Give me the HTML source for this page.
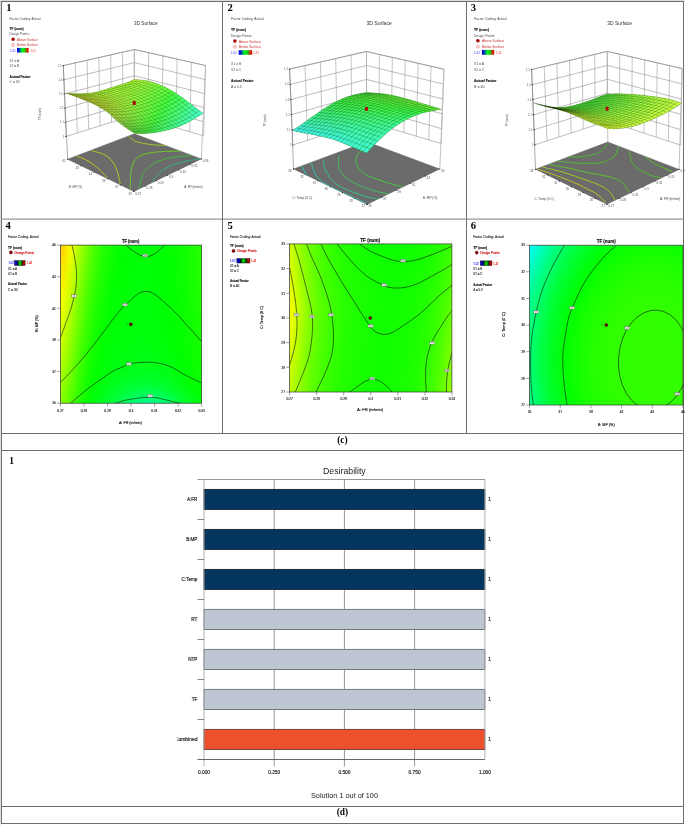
<!DOCTYPE html>
<html><head><meta charset="utf-8"><style>
html,body{margin:0;padding:0;background:#fff;}
body{width:685px;height:825px;overflow:hidden;}
svg{display:block;font-family:'Liberation Sans',sans-serif;}
.fc rect{width:8.6px;height:8.6px;}
</style></head><body>
<svg width="685" height="825" viewBox="0 0 685 825">
<defs><filter id="nop" filterUnits="userSpaceOnUse" x="0" y="0" width="685" height="825"><feOffset dx="0" dy="0"/></filter>
<clipPath id="cmb"><rect x="177.3" y="700" width="30" height="60"/></clipPath>
<linearGradient id="lg3d"><stop offset="0" stop-color="#0000ff"/><stop offset="0.12" stop-color="#0010d0"/><stop offset="0.45" stop-color="#00ff20"/><stop offset="0.6" stop-color="#10e010"/><stop offset="0.8" stop-color="#806010"/><stop offset="0.9" stop-color="#e02000"/><stop offset="1" stop-color="#ff0000"/></linearGradient>
<linearGradient id="lg2d"><stop offset="0" stop-color="#0000e0"/><stop offset="0.18" stop-color="#0000c0"/><stop offset="0.3" stop-color="#002010"/><stop offset="0.5" stop-color="#00f000"/><stop offset="0.72" stop-color="#003000"/><stop offset="0.85" stop-color="#c00000"/><stop offset="1" stop-color="#e00000"/></linearGradient>
<clipPath id="cp4"><rect x="60.4" y="245.1" width="141.2" height="158.1"/></clipPath>
<filter id="bl4" x="-5%" y="-5%" width="110%" height="110%" color-interpolation-filters="sRGB"><feGaussianBlur stdDeviation="3.0"/></filter>
<clipPath id="cp5"><rect x="289.6" y="243.9" width="162.3" height="148.1"/></clipPath>
<filter id="bl5" x="-5%" y="-5%" width="110%" height="110%" color-interpolation-filters="sRGB"><feGaussianBlur stdDeviation="3.0"/></filter>
<clipPath id="cp6"><rect x="529.5" y="245.2" width="153.5" height="159.8"/></clipPath>
<filter id="bl6" x="-5%" y="-5%" width="110%" height="110%" color-interpolation-filters="sRGB"><feGaussianBlur stdDeviation="3.0"/></filter></defs>
<g filter="url(#nop)">
<rect x="0" y="0" width="685" height="825" fill="#fff" />
<rect x="0" y="0" width="685" height="1" fill="#dcdcdc" />
<rect x="0" y="0" width="1" height="825" fill="#dcdcdc" />
<rect x="1" y="1" width="683" height="1" fill="#6e6e6e" />
<rect x="1" y="823" width="683" height="1" fill="#6e6e6e" />
<rect x="1" y="1" width="1" height="823" fill="#6e6e6e" />
<rect x="683" y="1" width="1" height="823" fill="#6e6e6e" />
<rect x="1" y="218.5" width="683" height="1.2" fill="#939393" />
<rect x="1" y="433" width="683" height="1" fill="#6e6e6e" />
<rect x="1" y="450" width="683" height="1" fill="#6e6e6e" />
<rect x="1" y="806" width="683" height="1" fill="#6e6e6e" />
<rect x="222" y="1" width="1" height="433" fill="#6e6e6e" />
<rect x="466" y="1" width="1" height="433" fill="#6e6e6e" />
<text x="342.4" y="442.7" font-size="9.4" text-anchor="middle" font-weight="bold" font-family="'Liberation Serif'">(c)</text>
<text x="342.4" y="815.3" font-size="9.4" text-anchor="middle" font-weight="bold" font-family="'Liberation Serif'">(d)</text>
<text x="6.2" y="10.8" font-size="10.6" font-weight="bold" font-family="'Liberation Serif'">1</text>
<text x="227.6" y="10.7" font-size="10.6" font-weight="bold" font-family="'Liberation Serif'">2</text>
<text x="470.8" y="10.7" font-size="10.6" font-weight="bold" font-family="'Liberation Serif'">3</text>
<text x="5.6" y="229" font-size="10.6" font-weight="bold" font-family="'Liberation Serif'">4</text>
<text x="227.6" y="229" font-size="10.6" font-weight="bold" font-family="'Liberation Serif'">5</text>
<text x="470.8" y="229" font-size="10.6" font-weight="bold" font-family="'Liberation Serif'">6</text>
<text x="9.2" y="464" font-size="9.4" font-weight="bold" font-family="'Liberation Serif'">1</text>
<line x1="274.2" y1="479.5" x2="274.2" y2="766.4" stroke="#8a8a8a" stroke-width="0.9" />
<line x1="344.4" y1="479.5" x2="344.4" y2="766.4" stroke="#8a8a8a" stroke-width="0.9" />
<line x1="414.6" y1="479.5" x2="414.6" y2="766.4" stroke="#8a8a8a" stroke-width="0.9" />
<rect x="204.00" y="489.40" width="280.85" height="20.05" fill="#03365e" stroke="#1a2530" stroke-width="0.9"/>
<text x="197.4" y="500.8" font-size="4.6" fill="#222" stroke="#222" stroke-width="0.16" text-anchor="end" >A:FR</text>
<text x="488.3" y="501.3" font-size="4.8" fill="#222" stroke="#222" stroke-width="0.17" >1</text>
<rect x="204.00" y="529.40" width="280.85" height="20.05" fill="#03365e" stroke="#1a2530" stroke-width="0.9"/>
<text x="197.4" y="540.8" font-size="4.6" fill="#222" stroke="#222" stroke-width="0.16" text-anchor="end" >B:MP</text>
<text x="488.3" y="541.3" font-size="4.8" fill="#222" stroke="#222" stroke-width="0.17" >1</text>
<rect x="204.00" y="569.40" width="280.85" height="20.05" fill="#03365e" stroke="#1a2530" stroke-width="0.9"/>
<text x="197.4" y="580.8" font-size="4.6" fill="#222" stroke="#222" stroke-width="0.16" text-anchor="end" >C:Temp</text>
<text x="488.3" y="581.3" font-size="4.8" fill="#222" stroke="#222" stroke-width="0.17" >1</text>
<rect x="204.00" y="609.40" width="280.85" height="20.05" fill="#bec5d3" stroke="#6a6e74" stroke-width="0.9"/>
<text x="197.4" y="620.8" font-size="4.6" fill="#222" stroke="#222" stroke-width="0.16" text-anchor="end" >RT</text>
<text x="488.3" y="621.3" font-size="4.8" fill="#222" stroke="#222" stroke-width="0.17" >1</text>
<rect x="204.00" y="649.40" width="280.85" height="20.05" fill="#bec5d3" stroke="#6a6e74" stroke-width="0.9"/>
<text x="197.4" y="660.8" font-size="4.6" fill="#222" stroke="#222" stroke-width="0.16" text-anchor="end" >NTP</text>
<text x="488.3" y="661.3" font-size="4.8" fill="#222" stroke="#222" stroke-width="0.17" >1</text>
<rect x="204.00" y="689.40" width="280.85" height="20.05" fill="#bec5d3" stroke="#6a6e74" stroke-width="0.9"/>
<text x="197.4" y="700.8" font-size="4.6" fill="#222" stroke="#222" stroke-width="0.16" text-anchor="end" >TF</text>
<text x="488.3" y="701.3" font-size="4.8" fill="#222" stroke="#222" stroke-width="0.17" >1</text>
<rect x="204.00" y="729.40" width="280.85" height="20.05" fill="#ec502c" stroke="#6a3a30" stroke-width="0.9"/>
<text x="197.4" y="740.8" font-size="4.6" fill="#222" stroke="#222" stroke-width="0.16" text-anchor="end" textLength="22.5" lengthAdjust="spacingAndGlyphs"  clip-path="url(#cmb)">Combined</text>
<text x="488.3" y="741.3" font-size="4.8" fill="#222" stroke="#222" stroke-width="0.17" >1</text>
<line x1="204" y1="479.5" x2="204" y2="766.4" stroke="#a8a8a8" stroke-width="0.9" />
<line x1="484.9" y1="479.5" x2="484.9" y2="759.4" stroke="#a8a8a8" stroke-width="0.9" />
<line x1="197.5" y1="479.5" x2="484.9" y2="479.5" stroke="#8a8a8a" stroke-width="0.9" />
<line x1="197.5" y1="519.5" x2="204" y2="519.5" stroke="#777" stroke-width="0.9" />
<line x1="197.5" y1="559.5" x2="204" y2="559.5" stroke="#777" stroke-width="0.9" />
<line x1="197.5" y1="599.5" x2="204" y2="599.5" stroke="#777" stroke-width="0.9" />
<line x1="197.5" y1="639.5" x2="204" y2="639.5" stroke="#777" stroke-width="0.9" />
<line x1="197.5" y1="679.5" x2="204" y2="679.5" stroke="#777" stroke-width="0.9" />
<line x1="197.5" y1="719.5" x2="204" y2="719.5" stroke="#777" stroke-width="0.9" />
<line x1="197.5" y1="759.5" x2="484.9" y2="759.5" stroke="#555" stroke-width="0.9" />
<text x="204" y="773.6" font-size="4.8" fill="#222" stroke="#222" stroke-width="0.17" text-anchor="middle" >0.000</text>
<text x="274.2" y="773.6" font-size="4.8" fill="#222" stroke="#222" stroke-width="0.17" text-anchor="middle" >0.250</text>
<text x="344.4" y="773.6" font-size="4.8" fill="#222" stroke="#222" stroke-width="0.17" text-anchor="middle" >0.500</text>
<text x="414.6" y="773.6" font-size="4.8" fill="#222" stroke="#222" stroke-width="0.17" text-anchor="middle" >0.750</text>
<text x="484.9" y="773.6" font-size="4.8" fill="#222" stroke="#222" stroke-width="0.17" text-anchor="middle" >1.000</text>
<text x="344.4" y="473.7" font-size="8.6" fill="#222" text-anchor="middle" textLength="42.7" lengthAdjust="spacingAndGlyphs" >Desirability</text>
<text x="344.5" y="798.2" font-size="7.6" fill="#222" text-anchor="middle" textLength="67" lengthAdjust="spacingAndGlyphs" >Solution 1 out of 100</text>
<text x="9.6" y="19.7" font-size="3.9" fill="#4a4a4a" textLength="31" lengthAdjust="spacingAndGlyphs" >Factor Coding: Actual</text>
<text x="9.6" y="30.2" font-size="3.9" fill="#111" stroke="#111" stroke-width="0.14" font-weight="bold" textLength="14" lengthAdjust="spacingAndGlyphs" >TF (num)</text>
<text x="9.6" y="35.4" font-size="3.9" fill="#4a4a4a" textLength="20" lengthAdjust="spacingAndGlyphs" >Design Points:</text>
<circle cx="13.1" cy="39.3" r="1.7" fill="#b00000"/>
<text x="17" y="40.7" font-size="3.9" fill="#c83030" textLength="21" lengthAdjust="spacingAndGlyphs" >Above Surface</text>
<circle cx="13.1" cy="44.9" r="1.5" fill="#ffd0d0" stroke="#e08080" stroke-width="0.4"/>
<text x="17" y="46.3" font-size="3.9" fill="#c83030" textLength="21" lengthAdjust="spacingAndGlyphs" >Below Surface</text>
<rect x="17" y="47.9" width="11.7" height="4.7" fill="url(#lg3d)"/>
<text x="10" y="51.7" font-size="3.9" fill="#3030ff" textLength="5.6" lengthAdjust="spacingAndGlyphs" >1.02</text>
<text x="30.2" y="51.7" font-size="3.9" fill="#e03030" textLength="5.6" lengthAdjust="spacingAndGlyphs" >1.41</text>
<text x="9.6" y="62" font-size="3.9" fill="#4a4a4a" textLength="9.5" lengthAdjust="spacingAndGlyphs" >X1 = A</text>
<text x="9.6" y="67.3" font-size="3.9" fill="#4a4a4a" textLength="9.5" lengthAdjust="spacingAndGlyphs" >X2 = B</text>
<text x="9.6" y="77.9" font-size="3.9" fill="#111" stroke="#111" stroke-width="0.14" font-weight="bold" textLength="21" lengthAdjust="spacingAndGlyphs" >Actual Factor</text>
<text x="9.6" y="82.9" font-size="3.9" fill="#4a4a4a" textLength="10" lengthAdjust="spacingAndGlyphs" >C = 30</text>
<text x="231" y="20" font-size="4.134" fill="#4a4a4a" textLength="32.9" lengthAdjust="spacingAndGlyphs" >Factor Coding: Actual</text>
<text x="231" y="31.4" font-size="4.134" fill="#111" stroke="#111" stroke-width="0.14" font-weight="bold" textLength="14.8" lengthAdjust="spacingAndGlyphs" >TF (num)</text>
<text x="231" y="36.9" font-size="4.134" fill="#4a4a4a" textLength="21.2" lengthAdjust="spacingAndGlyphs" >Design Points:</text>
<circle cx="234.9" cy="41" r="1.8" fill="#b00000"/>
<text x="238.7" y="42.5" font-size="4.134" fill="#c83030" textLength="22.3" lengthAdjust="spacingAndGlyphs" >Above Surface</text>
<circle cx="234.9" cy="46.6" r="1.6" fill="#ffd0d0" stroke="#e08080" stroke-width="0.4"/>
<text x="238.7" y="48.1" font-size="4.134" fill="#c83030" textLength="22.3" lengthAdjust="spacingAndGlyphs" >Below Surface</text>
<rect x="238.7" y="50.2" width="13.4" height="4.6" fill="url(#lg3d)"/>
<text x="231" y="54" font-size="4.134" fill="#3030ff" textLength="5.9" lengthAdjust="spacingAndGlyphs" >1.02</text>
<text x="253.1" y="54" font-size="4.134" fill="#e03030" textLength="5.9" lengthAdjust="spacingAndGlyphs" >1.41</text>
<text x="231" y="65.1" font-size="4.134" fill="#4a4a4a" textLength="10.1" lengthAdjust="spacingAndGlyphs" >X1 = B</text>
<text x="231" y="70.8" font-size="4.134" fill="#4a4a4a" textLength="10.1" lengthAdjust="spacingAndGlyphs" >X2 = C</text>
<text x="231" y="82.2" font-size="4.134" fill="#111" stroke="#111" stroke-width="0.14" font-weight="bold" textLength="22.3" lengthAdjust="spacingAndGlyphs" >Actual Factor</text>
<text x="231" y="88.1" font-size="4.134" fill="#4a4a4a" textLength="10.6" lengthAdjust="spacingAndGlyphs" >A = 0.3</text>
<text x="474" y="20" font-size="4.134" fill="#4a4a4a" textLength="32.9" lengthAdjust="spacingAndGlyphs" >Factor Coding: Actual</text>
<text x="474" y="31.4" font-size="4.134" fill="#111" stroke="#111" stroke-width="0.14" font-weight="bold" textLength="14.8" lengthAdjust="spacingAndGlyphs" >TF (num)</text>
<text x="474" y="36.9" font-size="4.134" fill="#4a4a4a" textLength="21.2" lengthAdjust="spacingAndGlyphs" >Design Points:</text>
<circle cx="477.9" cy="40.8" r="1.8" fill="#b00000"/>
<text x="481.9" y="42.3" font-size="4.134" fill="#c83030" textLength="22.3" lengthAdjust="spacingAndGlyphs" >Above Surface</text>
<circle cx="477.9" cy="46.6" r="1.6" fill="#ffd0d0" stroke="#e08080" stroke-width="0.4"/>
<text x="481.9" y="48.1" font-size="4.134" fill="#c83030" textLength="22.3" lengthAdjust="spacingAndGlyphs" >Below Surface</text>
<rect x="481.9" y="49.9" width="12.3" height="4.9" fill="url(#lg3d)"/>
<text x="474" y="53.8" font-size="4.134" fill="#3030ff" textLength="5.9" lengthAdjust="spacingAndGlyphs" >1.02</text>
<text x="495.9" y="53.8" font-size="4.134" fill="#e03030" textLength="5.9" lengthAdjust="spacingAndGlyphs" >1.41</text>
<text x="474" y="65.1" font-size="4.134" fill="#4a4a4a" textLength="10.1" lengthAdjust="spacingAndGlyphs" >X1 = A</text>
<text x="474" y="70.8" font-size="4.134" fill="#4a4a4a" textLength="10.1" lengthAdjust="spacingAndGlyphs" >X2 = C</text>
<text x="474" y="82.2" font-size="4.134" fill="#111" stroke="#111" stroke-width="0.14" font-weight="bold" textLength="22.3" lengthAdjust="spacingAndGlyphs" >Actual Factor</text>
<text x="474" y="88.1" font-size="4.134" fill="#4a4a4a" textLength="10.6" lengthAdjust="spacingAndGlyphs" >B = 40</text>
<text x="8.1" y="237.8" font-size="3.7" fill="#333" stroke="#333" stroke-width="0.13" textLength="30.5" lengthAdjust="spacingAndGlyphs" >Factor Coding: Actual</text>
<text x="8.1" y="248.7" font-size="3.7" fill="#111" stroke="#111" stroke-width="0.13" font-weight="bold" textLength="13.8" lengthAdjust="spacingAndGlyphs" >TF (num)</text>
<circle cx="10.9" cy="252.4" r="1.6" fill="#8b0000" stroke="#300" stroke-width="0.3"/>
<text x="14.6" y="253.7" font-size="3.7" fill="#d00000" stroke="#d00000" stroke-width="0.13" textLength="19.5" lengthAdjust="spacingAndGlyphs" >Design Points</text>
<rect x="14.6" y="260.7" width="10.5" height="4.7" fill="url(#lg2d)" stroke="#111" stroke-width="0.5"/>
<text x="8.4" y="264.4" font-size="3.7" fill="#3030ff" stroke="#3030ff" stroke-width="0.13" textLength="5.6" lengthAdjust="spacingAndGlyphs" >1.02</text>
<text x="26.8" y="264.4" font-size="3.7" fill="#ff2020" stroke="#ff2020" stroke-width="0.13" textLength="5.6" lengthAdjust="spacingAndGlyphs" >1.41</text>
<text x="8.1" y="269.6" font-size="3.7" fill="#333" stroke="#333" stroke-width="0.13" textLength="9" lengthAdjust="spacingAndGlyphs" >X1 = A</text>
<text x="8.1" y="275" font-size="3.7" fill="#333" stroke="#333" stroke-width="0.13" textLength="9" lengthAdjust="spacingAndGlyphs" >X2 = B</text>
<text x="8.1" y="285.3" font-size="3.7" fill="#111" stroke="#111" stroke-width="0.13" font-weight="bold" textLength="18.8" lengthAdjust="spacingAndGlyphs" >Actual Factor</text>
<text x="8.1" y="290.8" font-size="3.7" fill="#333" stroke="#333" stroke-width="0.13" textLength="9.5" lengthAdjust="spacingAndGlyphs" >C = 30</text>
<text x="229.9" y="237.5" font-size="3.7" fill="#333" stroke="#333" stroke-width="0.13" textLength="30.5" lengthAdjust="spacingAndGlyphs" >Factor Coding: Actual</text>
<text x="229.9" y="247.4" font-size="3.7" fill="#111" stroke="#111" stroke-width="0.13" font-weight="bold" textLength="13.8" lengthAdjust="spacingAndGlyphs" >TF (num)</text>
<circle cx="233.5" cy="250.9" r="1.6" fill="#8b0000" stroke="#300" stroke-width="0.3"/>
<text x="237.2" y="252.2" font-size="3.7" fill="#d00000" stroke="#d00000" stroke-width="0.13" textLength="19.5" lengthAdjust="spacingAndGlyphs" >Design Points</text>
<rect x="236.9" y="258.6" width="13" height="4.4" fill="url(#lg2d)" stroke="#111" stroke-width="0.5"/>
<text x="229.9" y="262.1" font-size="3.7" fill="#3030ff" stroke="#3030ff" stroke-width="0.13" textLength="5.6" lengthAdjust="spacingAndGlyphs" >1.02</text>
<text x="251" y="262.1" font-size="3.7" fill="#ff2020" stroke="#ff2020" stroke-width="0.13" textLength="5.6" lengthAdjust="spacingAndGlyphs" >1.41</text>
<text x="229.9" y="267.1" font-size="3.7" fill="#333" stroke="#333" stroke-width="0.13" textLength="9" lengthAdjust="spacingAndGlyphs" >X1 = A</text>
<text x="229.9" y="272.2" font-size="3.7" fill="#333" stroke="#333" stroke-width="0.13" textLength="9" lengthAdjust="spacingAndGlyphs" >X2 = C</text>
<text x="229.9" y="282.1" font-size="3.7" fill="#111" stroke="#111" stroke-width="0.13" font-weight="bold" textLength="18.8" lengthAdjust="spacingAndGlyphs" >Actual Factor</text>
<text x="229.9" y="286.9" font-size="3.7" fill="#333" stroke="#333" stroke-width="0.13" textLength="9.5" lengthAdjust="spacingAndGlyphs" >B = 40</text>
<text x="473.3" y="237.8" font-size="3.7" fill="#333" stroke="#333" stroke-width="0.13" textLength="30.5" lengthAdjust="spacingAndGlyphs" >Factor Coding: Actual</text>
<text x="473.3" y="248.7" font-size="3.7" fill="#111" stroke="#111" stroke-width="0.13" font-weight="bold" textLength="13.8" lengthAdjust="spacingAndGlyphs" >TF (num)</text>
<circle cx="476.7" cy="252.6" r="1.6" fill="#8b0000" stroke="#300" stroke-width="0.3"/>
<text x="480.3" y="253.9" font-size="3.7" fill="#d00000" stroke="#d00000" stroke-width="0.13" textLength="19.5" lengthAdjust="spacingAndGlyphs" >Design Points</text>
<rect x="480.3" y="260.9" width="11.6" height="4.6" fill="url(#lg2d)" stroke="#111" stroke-width="0.5"/>
<text x="473.3" y="264.5" font-size="3.7" fill="#3030ff" stroke="#3030ff" stroke-width="0.13" textLength="5.6" lengthAdjust="spacingAndGlyphs" >1.02</text>
<text x="493" y="264.5" font-size="3.7" fill="#ff2020" stroke="#ff2020" stroke-width="0.13" textLength="5.6" lengthAdjust="spacingAndGlyphs" >1.41</text>
<text x="473.3" y="269.9" font-size="3.7" fill="#333" stroke="#333" stroke-width="0.13" textLength="9" lengthAdjust="spacingAndGlyphs" >X1 = B</text>
<text x="473.3" y="275.1" font-size="3.7" fill="#333" stroke="#333" stroke-width="0.13" textLength="9" lengthAdjust="spacingAndGlyphs" >X2 = C</text>
<text x="473.3" y="285.8" font-size="3.7" fill="#111" stroke="#111" stroke-width="0.13" font-weight="bold" textLength="18.8" lengthAdjust="spacingAndGlyphs" >Actual Factor</text>
<text x="473.3" y="291.1" font-size="3.7" fill="#333" stroke="#333" stroke-width="0.13" textLength="9.5" lengthAdjust="spacingAndGlyphs" >A = 0.3</text>
<g clip-path="url(#cp4)"><g class="fc" filter="url(#bl4)">
<rect x="50" y="235" fill="#ffc200"/>
<rect x="58" y="235" fill="#ffc800"/>
<rect x="66" y="235" fill="#feff00"/>
<rect x="74" y="235" fill="#baff00"/>
<rect x="82" y="235" fill="#7dff00"/>
<rect x="90" y="235" fill="#4dff00"/>
<rect x="98" y="235" fill="#2bff00"/>
<rect x="106" y="235" fill="#15ff00"/>
<rect x="114" y="235" fill="#07ff00"/>
<rect x="122" y="235" fill="#00ff01"/>
<rect x="130" y="235" fill="#00ff06"/>
<rect x="138" y="235" fill="#00ff08"/>
<rect x="146" y="235" fill="#00ff07"/>
<rect x="154" y="235" fill="#00ff05"/>
<rect x="162" y="235" fill="#00ff00"/>
<rect x="170" y="235" fill="#06ff00"/>
<rect x="178" y="235" fill="#0fff00"/>
<rect x="186" y="235" fill="#18ff00"/>
<rect x="194" y="235" fill="#24ff00"/>
<rect x="202" y="235" fill="#29ff00"/>
<rect x="210" y="235" fill="#29ff00"/>
<rect x="50" y="243" fill="#ffc400"/>
<rect x="58" y="243" fill="#ffca00"/>
<rect x="66" y="243" fill="#fcff00"/>
<rect x="74" y="243" fill="#b8ff00"/>
<rect x="82" y="243" fill="#7bff00"/>
<rect x="90" y="243" fill="#4bff00"/>
<rect x="98" y="243" fill="#2aff00"/>
<rect x="106" y="243" fill="#14ff00"/>
<rect x="114" y="243" fill="#06ff00"/>
<rect x="122" y="243" fill="#00ff01"/>
<rect x="130" y="243" fill="#00ff06"/>
<rect x="138" y="243" fill="#00ff08"/>
<rect x="146" y="243" fill="#00ff07"/>
<rect x="154" y="243" fill="#00ff05"/>
<rect x="162" y="243" fill="#00ff00"/>
<rect x="170" y="243" fill="#06ff00"/>
<rect x="178" y="243" fill="#0eff00"/>
<rect x="186" y="243" fill="#18ff00"/>
<rect x="194" y="243" fill="#23ff00"/>
<rect x="202" y="243" fill="#28ff00"/>
<rect x="210" y="243" fill="#28ff00"/>
<rect x="50" y="251" fill="#ffcd00"/>
<rect x="58" y="251" fill="#ffd300"/>
<rect x="66" y="251" fill="#f3ff00"/>
<rect x="74" y="251" fill="#b0ff00"/>
<rect x="82" y="251" fill="#74ff00"/>
<rect x="90" y="251" fill="#46ff00"/>
<rect x="98" y="251" fill="#26ff00"/>
<rect x="106" y="251" fill="#11ff00"/>
<rect x="114" y="251" fill="#05ff00"/>
<rect x="122" y="251" fill="#00ff03"/>
<rect x="130" y="251" fill="#00ff06"/>
<rect x="138" y="251" fill="#00ff08"/>
<rect x="146" y="251" fill="#00ff08"/>
<rect x="154" y="251" fill="#00ff05"/>
<rect x="162" y="251" fill="#00ff00"/>
<rect x="170" y="251" fill="#06ff00"/>
<rect x="178" y="251" fill="#0eff00"/>
<rect x="186" y="251" fill="#17ff00"/>
<rect x="194" y="251" fill="#22ff00"/>
<rect x="202" y="251" fill="#27ff00"/>
<rect x="210" y="251" fill="#27ff00"/>
<rect x="50" y="259" fill="#ffd600"/>
<rect x="58" y="259" fill="#ffdc00"/>
<rect x="66" y="259" fill="#ebff00"/>
<rect x="74" y="259" fill="#a8ff00"/>
<rect x="82" y="259" fill="#6eff00"/>
<rect x="90" y="259" fill="#41ff00"/>
<rect x="98" y="259" fill="#22ff00"/>
<rect x="106" y="259" fill="#0fff00"/>
<rect x="114" y="259" fill="#03ff00"/>
<rect x="122" y="259" fill="#00ff04"/>
<rect x="130" y="259" fill="#00ff07"/>
<rect x="138" y="259" fill="#00ff09"/>
<rect x="146" y="259" fill="#00ff08"/>
<rect x="154" y="259" fill="#00ff05"/>
<rect x="162" y="259" fill="#00ff01"/>
<rect x="170" y="259" fill="#05ff00"/>
<rect x="178" y="259" fill="#0dff00"/>
<rect x="186" y="259" fill="#16ff00"/>
<rect x="194" y="259" fill="#21ff00"/>
<rect x="202" y="259" fill="#26ff00"/>
<rect x="210" y="259" fill="#26ff00"/>
<rect x="50" y="267" fill="#ffde00"/>
<rect x="58" y="267" fill="#ffe400"/>
<rect x="66" y="267" fill="#e2ff00"/>
<rect x="74" y="267" fill="#a1ff00"/>
<rect x="82" y="267" fill="#67ff00"/>
<rect x="90" y="267" fill="#3cff00"/>
<rect x="98" y="267" fill="#1fff00"/>
<rect x="106" y="267" fill="#0cff00"/>
<rect x="114" y="267" fill="#01ff00"/>
<rect x="122" y="267" fill="#00ff05"/>
<rect x="130" y="267" fill="#00ff08"/>
<rect x="138" y="267" fill="#00ff09"/>
<rect x="146" y="267" fill="#00ff08"/>
<rect x="154" y="267" fill="#00ff06"/>
<rect x="162" y="267" fill="#00ff01"/>
<rect x="170" y="267" fill="#05ff00"/>
<rect x="178" y="267" fill="#0cff00"/>
<rect x="186" y="267" fill="#15ff00"/>
<rect x="194" y="267" fill="#20ff00"/>
<rect x="202" y="267" fill="#24ff00"/>
<rect x="210" y="267" fill="#24ff00"/>
<rect x="50" y="275" fill="#ffe700"/>
<rect x="58" y="275" fill="#ffed00"/>
<rect x="66" y="275" fill="#daff00"/>
<rect x="74" y="275" fill="#99ff00"/>
<rect x="82" y="275" fill="#61ff00"/>
<rect x="90" y="275" fill="#37ff00"/>
<rect x="98" y="275" fill="#1bff00"/>
<rect x="106" y="275" fill="#0aff00"/>
<rect x="114" y="275" fill="#00ff00"/>
<rect x="122" y="275" fill="#00ff05"/>
<rect x="130" y="275" fill="#00ff08"/>
<rect x="138" y="275" fill="#00ff09"/>
<rect x="146" y="275" fill="#00ff09"/>
<rect x="154" y="275" fill="#00ff06"/>
<rect x="162" y="275" fill="#00ff02"/>
<rect x="170" y="275" fill="#04ff00"/>
<rect x="178" y="275" fill="#0cff00"/>
<rect x="186" y="275" fill="#14ff00"/>
<rect x="194" y="275" fill="#1fff00"/>
<rect x="202" y="275" fill="#23ff00"/>
<rect x="210" y="275" fill="#23ff00"/>
<rect x="50" y="283" fill="#fff000"/>
<rect x="58" y="283" fill="#fff600"/>
<rect x="66" y="283" fill="#d1ff00"/>
<rect x="74" y="283" fill="#91ff00"/>
<rect x="82" y="283" fill="#5aff00"/>
<rect x="90" y="283" fill="#32ff00"/>
<rect x="98" y="283" fill="#18ff00"/>
<rect x="106" y="283" fill="#08ff00"/>
<rect x="114" y="283" fill="#00ff01"/>
<rect x="122" y="283" fill="#00ff06"/>
<rect x="130" y="283" fill="#00ff09"/>
<rect x="138" y="283" fill="#00ff0a"/>
<rect x="146" y="283" fill="#00ff09"/>
<rect x="154" y="283" fill="#00ff06"/>
<rect x="162" y="283" fill="#00ff02"/>
<rect x="170" y="283" fill="#04ff00"/>
<rect x="178" y="283" fill="#0bff00"/>
<rect x="186" y="283" fill="#13ff00"/>
<rect x="194" y="283" fill="#1dff00"/>
<rect x="202" y="283" fill="#22ff00"/>
<rect x="210" y="283" fill="#22ff00"/>
<rect x="50" y="291" fill="#fff900"/>
<rect x="58" y="291" fill="#ffff00"/>
<rect x="66" y="291" fill="#c9ff00"/>
<rect x="74" y="291" fill="#8aff00"/>
<rect x="82" y="291" fill="#54ff00"/>
<rect x="90" y="291" fill="#2eff00"/>
<rect x="98" y="291" fill="#15ff00"/>
<rect x="106" y="291" fill="#06ff00"/>
<rect x="114" y="291" fill="#00ff03"/>
<rect x="122" y="291" fill="#00ff07"/>
<rect x="130" y="291" fill="#00ff09"/>
<rect x="138" y="291" fill="#00ff0a"/>
<rect x="146" y="291" fill="#00ff09"/>
<rect x="154" y="291" fill="#00ff07"/>
<rect x="162" y="291" fill="#00ff02"/>
<rect x="170" y="291" fill="#03ff00"/>
<rect x="178" y="291" fill="#0aff00"/>
<rect x="186" y="291" fill="#12ff00"/>
<rect x="194" y="291" fill="#1cff00"/>
<rect x="202" y="291" fill="#20ff00"/>
<rect x="210" y="291" fill="#20ff00"/>
<rect x="50" y="299" fill="#fcff00"/>
<rect x="58" y="299" fill="#f6ff00"/>
<rect x="66" y="299" fill="#c0ff00"/>
<rect x="74" y="299" fill="#82ff00"/>
<rect x="82" y="299" fill="#4eff00"/>
<rect x="90" y="299" fill="#29ff00"/>
<rect x="98" y="299" fill="#12ff00"/>
<rect x="106" y="299" fill="#04ff00"/>
<rect x="114" y="299" fill="#00ff04"/>
<rect x="122" y="299" fill="#00ff08"/>
<rect x="130" y="299" fill="#00ff0a"/>
<rect x="138" y="299" fill="#00ff0b"/>
<rect x="146" y="299" fill="#00ff0a"/>
<rect x="154" y="299" fill="#00ff07"/>
<rect x="162" y="299" fill="#00ff03"/>
<rect x="170" y="299" fill="#03ff00"/>
<rect x="178" y="299" fill="#09ff00"/>
<rect x="186" y="299" fill="#11ff00"/>
<rect x="194" y="299" fill="#1bff00"/>
<rect x="202" y="299" fill="#1fff00"/>
<rect x="210" y="299" fill="#1fff00"/>
<rect x="50" y="307" fill="#f4ff00"/>
<rect x="58" y="307" fill="#eeff00"/>
<rect x="66" y="307" fill="#b8ff00"/>
<rect x="74" y="307" fill="#7bff00"/>
<rect x="82" y="307" fill="#48ff00"/>
<rect x="90" y="307" fill="#25ff00"/>
<rect x="98" y="307" fill="#0fff00"/>
<rect x="106" y="307" fill="#02ff00"/>
<rect x="114" y="307" fill="#00ff05"/>
<rect x="122" y="307" fill="#00ff09"/>
<rect x="130" y="307" fill="#00ff0a"/>
<rect x="138" y="307" fill="#00ff0b"/>
<rect x="146" y="307" fill="#00ff0a"/>
<rect x="154" y="307" fill="#00ff07"/>
<rect x="162" y="307" fill="#00ff03"/>
<rect x="170" y="307" fill="#02ff00"/>
<rect x="178" y="307" fill="#08ff00"/>
<rect x="186" y="307" fill="#10ff00"/>
<rect x="194" y="307" fill="#1aff00"/>
<rect x="202" y="307" fill="#1eff00"/>
<rect x="210" y="307" fill="#1eff00"/>
<rect x="50" y="315" fill="#ebff00"/>
<rect x="58" y="315" fill="#e5ff00"/>
<rect x="66" y="315" fill="#b0ff00"/>
<rect x="74" y="315" fill="#73ff00"/>
<rect x="82" y="315" fill="#42ff00"/>
<rect x="90" y="315" fill="#21ff00"/>
<rect x="98" y="315" fill="#0cff00"/>
<rect x="106" y="315" fill="#00ff00"/>
<rect x="114" y="315" fill="#00ff06"/>
<rect x="122" y="315" fill="#00ff0a"/>
<rect x="130" y="315" fill="#00ff0b"/>
<rect x="138" y="315" fill="#00ff0c"/>
<rect x="146" y="315" fill="#00ff0b"/>
<rect x="154" y="315" fill="#00ff08"/>
<rect x="162" y="315" fill="#00ff04"/>
<rect x="170" y="315" fill="#01ff00"/>
<rect x="178" y="315" fill="#08ff00"/>
<rect x="186" y="315" fill="#0fff00"/>
<rect x="194" y="315" fill="#18ff00"/>
<rect x="202" y="315" fill="#1cff00"/>
<rect x="210" y="315" fill="#1cff00"/>
<rect x="50" y="323" fill="#e2ff00"/>
<rect x="58" y="323" fill="#dcff00"/>
<rect x="66" y="323" fill="#a7ff00"/>
<rect x="74" y="323" fill="#6cff00"/>
<rect x="82" y="323" fill="#3dff00"/>
<rect x="90" y="323" fill="#1dff00"/>
<rect x="98" y="323" fill="#09ff00"/>
<rect x="106" y="323" fill="#00ff02"/>
<rect x="114" y="323" fill="#00ff08"/>
<rect x="122" y="323" fill="#00ff0a"/>
<rect x="130" y="323" fill="#00ff0c"/>
<rect x="138" y="323" fill="#00ff0c"/>
<rect x="146" y="323" fill="#00ff0b"/>
<rect x="154" y="323" fill="#00ff09"/>
<rect x="162" y="323" fill="#00ff05"/>
<rect x="170" y="323" fill="#00ff00"/>
<rect x="178" y="323" fill="#06ff00"/>
<rect x="186" y="323" fill="#0eff00"/>
<rect x="194" y="323" fill="#17ff00"/>
<rect x="202" y="323" fill="#1bff00"/>
<rect x="210" y="323" fill="#1bff00"/>
<rect x="50" y="331" fill="#d9ff00"/>
<rect x="58" y="331" fill="#d3ff00"/>
<rect x="66" y="331" fill="#9fff00"/>
<rect x="74" y="331" fill="#65ff00"/>
<rect x="82" y="331" fill="#37ff00"/>
<rect x="90" y="331" fill="#19ff00"/>
<rect x="98" y="331" fill="#06ff00"/>
<rect x="106" y="331" fill="#00ff04"/>
<rect x="114" y="331" fill="#00ff09"/>
<rect x="122" y="331" fill="#00ff0c"/>
<rect x="130" y="331" fill="#00ff0d"/>
<rect x="138" y="331" fill="#00ff0d"/>
<rect x="146" y="331" fill="#00ff0c"/>
<rect x="154" y="331" fill="#00ff0a"/>
<rect x="162" y="331" fill="#00ff06"/>
<rect x="170" y="331" fill="#00ff01"/>
<rect x="178" y="331" fill="#05ff00"/>
<rect x="186" y="331" fill="#0dff00"/>
<rect x="194" y="331" fill="#15ff00"/>
<rect x="202" y="331" fill="#19ff00"/>
<rect x="210" y="331" fill="#19ff00"/>
<rect x="50" y="339" fill="#d0ff00"/>
<rect x="58" y="339" fill="#caff00"/>
<rect x="66" y="339" fill="#97ff00"/>
<rect x="74" y="339" fill="#5eff00"/>
<rect x="82" y="339" fill="#32ff00"/>
<rect x="90" y="339" fill="#15ff00"/>
<rect x="98" y="339" fill="#04ff00"/>
<rect x="106" y="339" fill="#00ff06"/>
<rect x="114" y="339" fill="#00ff0a"/>
<rect x="122" y="339" fill="#00ff0d"/>
<rect x="130" y="339" fill="#00ff0e"/>
<rect x="138" y="339" fill="#00ff0f"/>
<rect x="146" y="339" fill="#00ff0e"/>
<rect x="154" y="339" fill="#00ff0b"/>
<rect x="162" y="339" fill="#00ff07"/>
<rect x="170" y="339" fill="#00ff02"/>
<rect x="178" y="339" fill="#04ff00"/>
<rect x="186" y="339" fill="#0bff00"/>
<rect x="194" y="339" fill="#14ff00"/>
<rect x="202" y="339" fill="#17ff00"/>
<rect x="210" y="339" fill="#17ff00"/>
<rect x="50" y="347" fill="#c7ff00"/>
<rect x="58" y="347" fill="#c2ff00"/>
<rect x="66" y="347" fill="#8eff00"/>
<rect x="74" y="347" fill="#57ff00"/>
<rect x="82" y="347" fill="#2cff00"/>
<rect x="90" y="347" fill="#11ff00"/>
<rect x="98" y="347" fill="#01ff00"/>
<rect x="106" y="347" fill="#00ff08"/>
<rect x="114" y="347" fill="#00ff0c"/>
<rect x="122" y="347" fill="#00ff0f"/>
<rect x="130" y="347" fill="#00ff10"/>
<rect x="138" y="347" fill="#00ff11"/>
<rect x="146" y="347" fill="#00ff10"/>
<rect x="154" y="347" fill="#00ff0d"/>
<rect x="162" y="347" fill="#00ff09"/>
<rect x="170" y="347" fill="#00ff04"/>
<rect x="178" y="347" fill="#02ff00"/>
<rect x="186" y="347" fill="#0aff00"/>
<rect x="194" y="347" fill="#12ff00"/>
<rect x="202" y="347" fill="#16ff00"/>
<rect x="210" y="347" fill="#16ff00"/>
<rect x="50" y="355" fill="#bfff00"/>
<rect x="58" y="355" fill="#b9ff00"/>
<rect x="66" y="355" fill="#86ff00"/>
<rect x="74" y="355" fill="#50ff00"/>
<rect x="82" y="355" fill="#27ff00"/>
<rect x="90" y="355" fill="#0dff00"/>
<rect x="98" y="355" fill="#00ff02"/>
<rect x="106" y="355" fill="#00ff0a"/>
<rect x="114" y="355" fill="#00ff0f"/>
<rect x="122" y="355" fill="#00ff11"/>
<rect x="130" y="355" fill="#00ff13"/>
<rect x="138" y="355" fill="#00ff14"/>
<rect x="146" y="355" fill="#00ff13"/>
<rect x="154" y="355" fill="#00ff10"/>
<rect x="162" y="355" fill="#00ff0c"/>
<rect x="170" y="355" fill="#00ff07"/>
<rect x="178" y="355" fill="#00ff00"/>
<rect x="186" y="355" fill="#07ff00"/>
<rect x="194" y="355" fill="#10ff00"/>
<rect x="202" y="355" fill="#14ff00"/>
<rect x="210" y="355" fill="#14ff00"/>
<rect x="50" y="363" fill="#b6ff00"/>
<rect x="58" y="363" fill="#b0ff00"/>
<rect x="66" y="363" fill="#7eff00"/>
<rect x="74" y="363" fill="#49ff00"/>
<rect x="82" y="363" fill="#22ff00"/>
<rect x="90" y="363" fill="#09ff00"/>
<rect x="98" y="363" fill="#00ff05"/>
<rect x="106" y="363" fill="#00ff0d"/>
<rect x="114" y="363" fill="#00ff12"/>
<rect x="122" y="363" fill="#00ff15"/>
<rect x="130" y="363" fill="#00ff17"/>
<rect x="138" y="363" fill="#00ff19"/>
<rect x="146" y="363" fill="#00ff18"/>
<rect x="154" y="363" fill="#00ff15"/>
<rect x="162" y="363" fill="#00ff11"/>
<rect x="170" y="363" fill="#00ff0b"/>
<rect x="178" y="363" fill="#00ff03"/>
<rect x="186" y="363" fill="#05ff00"/>
<rect x="194" y="363" fill="#0eff00"/>
<rect x="202" y="363" fill="#11ff00"/>
<rect x="210" y="363" fill="#11ff00"/>
<rect x="50" y="371" fill="#adff00"/>
<rect x="58" y="371" fill="#a7ff00"/>
<rect x="66" y="371" fill="#76ff00"/>
<rect x="74" y="371" fill="#42ff00"/>
<rect x="82" y="371" fill="#1cff00"/>
<rect x="90" y="371" fill="#05ff00"/>
<rect x="98" y="371" fill="#00ff09"/>
<rect x="106" y="371" fill="#00ff11"/>
<rect x="114" y="371" fill="#00ff17"/>
<rect x="122" y="371" fill="#00ff1b"/>
<rect x="130" y="371" fill="#00ff1f"/>
<rect x="138" y="371" fill="#00ff21"/>
<rect x="146" y="371" fill="#00ff21"/>
<rect x="154" y="371" fill="#00ff1e"/>
<rect x="162" y="371" fill="#00ff18"/>
<rect x="170" y="371" fill="#00ff10"/>
<rect x="178" y="371" fill="#00ff08"/>
<rect x="186" y="371" fill="#01ff00"/>
<rect x="194" y="371" fill="#0bff00"/>
<rect x="202" y="371" fill="#0eff00"/>
<rect x="210" y="371" fill="#0eff00"/>
<rect x="50" y="379" fill="#a4ff00"/>
<rect x="58" y="379" fill="#9eff00"/>
<rect x="66" y="379" fill="#6dff00"/>
<rect x="74" y="379" fill="#3bff00"/>
<rect x="82" y="379" fill="#17ff00"/>
<rect x="90" y="379" fill="#00ff00"/>
<rect x="98" y="379" fill="#00ff0d"/>
<rect x="106" y="379" fill="#00ff17"/>
<rect x="114" y="379" fill="#00ff1e"/>
<rect x="122" y="379" fill="#00ff25"/>
<rect x="130" y="379" fill="#00ff2b"/>
<rect x="138" y="379" fill="#00ff2f"/>
<rect x="146" y="379" fill="#00ff30"/>
<rect x="154" y="379" fill="#00ff2c"/>
<rect x="162" y="379" fill="#00ff24"/>
<rect x="170" y="379" fill="#00ff1a"/>
<rect x="178" y="379" fill="#00ff0f"/>
<rect x="186" y="379" fill="#00ff04"/>
<rect x="194" y="379" fill="#07ff00"/>
<rect x="202" y="379" fill="#0bff00"/>
<rect x="210" y="379" fill="#0bff00"/>
<rect x="50" y="387" fill="#9aff00"/>
<rect x="58" y="387" fill="#95ff00"/>
<rect x="66" y="387" fill="#65ff00"/>
<rect x="74" y="387" fill="#34ff00"/>
<rect x="82" y="387" fill="#11ff00"/>
<rect x="90" y="387" fill="#00ff05"/>
<rect x="98" y="387" fill="#00ff14"/>
<rect x="106" y="387" fill="#00ff20"/>
<rect x="114" y="387" fill="#00ff2b"/>
<rect x="122" y="387" fill="#00ff37"/>
<rect x="130" y="387" fill="#00ff41"/>
<rect x="138" y="387" fill="#00ff48"/>
<rect x="146" y="387" fill="#00ff49"/>
<rect x="154" y="387" fill="#00ff44"/>
<rect x="162" y="387" fill="#00ff39"/>
<rect x="170" y="387" fill="#00ff2a"/>
<rect x="178" y="387" fill="#00ff1b"/>
<rect x="186" y="387" fill="#00ff0c"/>
<rect x="194" y="387" fill="#01ff00"/>
<rect x="202" y="387" fill="#06ff00"/>
<rect x="210" y="387" fill="#06ff00"/>
<rect x="50" y="395" fill="#91ff00"/>
<rect x="58" y="395" fill="#8bff00"/>
<rect x="66" y="395" fill="#5cff00"/>
<rect x="74" y="395" fill="#2dff00"/>
<rect x="82" y="395" fill="#0aff00"/>
<rect x="90" y="395" fill="#00ff0c"/>
<rect x="98" y="395" fill="#00ff1e"/>
<rect x="106" y="395" fill="#00ff2e"/>
<rect x="114" y="395" fill="#00ff41"/>
<rect x="122" y="395" fill="#00ff55"/>
<rect x="130" y="395" fill="#00ff68"/>
<rect x="138" y="395" fill="#00ff75"/>
<rect x="146" y="395" fill="#00ff78"/>
<rect x="154" y="395" fill="#00ff70"/>
<rect x="162" y="395" fill="#00ff5e"/>
<rect x="170" y="395" fill="#00ff47"/>
<rect x="178" y="395" fill="#00ff2f"/>
<rect x="186" y="395" fill="#00ff1a"/>
<rect x="194" y="395" fill="#00ff08"/>
<rect x="202" y="395" fill="#00ff01"/>
<rect x="210" y="395" fill="#00ff01"/>
<rect x="50" y="403" fill="#8cff00"/>
<rect x="58" y="403" fill="#87ff00"/>
<rect x="66" y="403" fill="#58ff00"/>
<rect x="74" y="403" fill="#29ff00"/>
<rect x="82" y="403" fill="#06ff00"/>
<rect x="90" y="403" fill="#00ff11"/>
<rect x="98" y="403" fill="#00ff25"/>
<rect x="106" y="403" fill="#00ff3a"/>
<rect x="114" y="403" fill="#00ff52"/>
<rect x="122" y="403" fill="#00ff6d"/>
<rect x="130" y="403" fill="#00ff87"/>
<rect x="138" y="403" fill="#00ff99"/>
<rect x="146" y="403" fill="#00ff9d"/>
<rect x="154" y="403" fill="#00ff92"/>
<rect x="162" y="403" fill="#00ff7b"/>
<rect x="170" y="403" fill="#00ff5d"/>
<rect x="178" y="403" fill="#00ff3f"/>
<rect x="186" y="403" fill="#00ff24"/>
<rect x="194" y="403" fill="#00ff0e"/>
<rect x="202" y="403" fill="#00ff06"/>
<rect x="210" y="403" fill="#00ff06"/>
<rect x="50" y="411" fill="#8cff00"/>
<rect x="58" y="411" fill="#87ff00"/>
<rect x="66" y="411" fill="#58ff00"/>
<rect x="74" y="411" fill="#29ff00"/>
<rect x="82" y="411" fill="#06ff00"/>
<rect x="90" y="411" fill="#00ff11"/>
<rect x="98" y="411" fill="#00ff25"/>
<rect x="106" y="411" fill="#00ff3a"/>
<rect x="114" y="411" fill="#00ff52"/>
<rect x="122" y="411" fill="#00ff6d"/>
<rect x="130" y="411" fill="#00ff87"/>
<rect x="138" y="411" fill="#00ff99"/>
<rect x="146" y="411" fill="#00ff9d"/>
<rect x="154" y="411" fill="#00ff92"/>
<rect x="162" y="411" fill="#00ff7b"/>
<rect x="170" y="411" fill="#00ff5d"/>
<rect x="178" y="411" fill="#00ff3f"/>
<rect x="186" y="411" fill="#00ff24"/>
<rect x="194" y="411" fill="#00ff0e"/>
<rect x="202" y="411" fill="#00ff06"/>
<rect x="210" y="411" fill="#00ff06"/>
</g></g>
<g clip-path="url(#cp4)" fill="none" stroke="#101010" stroke-width="0.6">
<path d="M71.8,244.5 C72.2,246.2 73.5,251.3 74.2,255.0 C74.9,258.7 75.7,263.0 76.1,266.8 C76.5,270.6 76.6,274.0 76.6,277.6 C76.5,281.2 76.2,285.4 75.8,288.5 C75.4,291.6 74.9,292.9 74.2,296.0 C73.5,299.1 72.5,303.4 71.5,306.8 C70.5,310.2 69.2,313.8 68.3,316.5 C67.3,319.2 66.6,320.6 65.8,323.0 C65.0,325.4 64.1,328.2 63.2,330.6 C62.3,333.1 61.1,336.0 60.4,337.7 C59.7,339.4 59.2,340.4 59.0,341.0"/>
<path d="M125.0,244.0 C125.5,244.5 126.4,245.7 128.0,247.0 C129.6,248.3 132.7,250.6 134.7,252.0 C136.7,253.4 138.3,254.5 140.2,255.3 C142.0,256.1 144.0,256.6 145.8,256.6 C147.7,256.6 149.3,256.4 151.3,255.5 C153.3,254.6 155.6,253.3 158.0,251.4 C160.4,249.5 164.2,245.2 165.5,244.0"/>
<path d="M59.0,384.0 C59.2,383.8 58.8,384.2 60.4,382.5 C62.0,380.8 65.6,377.3 68.8,373.9 C72.0,370.5 76.0,366.1 79.6,362.0 C83.2,357.9 86.8,353.5 90.4,349.0 C94.0,344.5 97.8,339.5 101.2,335.0 C104.6,330.5 108.2,325.6 110.9,322.0 C113.6,318.4 115.2,316.3 117.5,313.5 C119.8,310.7 123.2,306.8 125.0,305.0 C126.8,303.2 126.4,303.9 128.0,302.5 C129.6,301.1 132.7,298.1 134.7,296.4 C136.7,294.7 138.3,293.3 140.2,292.5 C142.1,291.7 144.3,291.3 146.3,291.4 C148.3,291.5 150.1,291.8 152.4,293.0 C154.7,294.2 157.2,296.2 160.2,298.6 C163.2,301.0 167.1,304.6 170.2,307.5 C173.3,310.4 176.5,313.7 179.0,316.3 C181.5,318.9 182.8,320.7 185.0,323.2 C187.2,325.7 189.7,328.2 192.4,331.2 C195.1,334.2 199.6,339.4 201.4,341.4 C203.2,343.4 202.7,343.0 203.0,343.3"/>
<path d="M70.0,404.0 C70.2,403.8 69.4,404.4 71.0,403.0 C72.6,401.6 76.4,398.2 79.6,395.5 C82.8,392.8 86.8,389.5 90.4,386.8 C94.0,384.1 97.6,381.8 101.2,379.3 C104.8,376.8 108.4,373.8 112.0,371.7 C115.6,369.6 120.1,368.1 122.8,366.8 C125.5,365.6 125.3,364.9 128.0,364.2 C130.7,363.5 135.4,362.8 139.1,362.5 C142.8,362.2 146.5,362.0 150.2,362.2 C153.9,362.4 157.6,362.7 161.3,363.6 C165.0,364.5 168.7,365.8 172.4,367.5 C176.1,369.2 179.8,372.1 183.5,374.1 C187.2,376.1 191.6,378.2 194.6,379.7 C197.6,381.1 200.0,382.2 201.4,382.8 C202.8,383.4 202.7,383.4 203.0,383.5"/>
<path d="M114.5,404.0 C114.8,403.8 114.9,403.5 116.3,403.0 C117.7,402.5 120.8,401.4 122.8,400.9 C124.8,400.3 125.3,400.2 128.0,399.7 C130.7,399.2 135.8,398.4 139.1,398.0 C142.4,397.6 144.8,397.2 148.0,397.2 C151.2,397.2 154.3,397.4 158.0,398.0 C161.7,398.6 166.5,400.1 170.2,401.0 C173.9,401.9 178.1,402.8 180.1,403.3 C182.1,403.8 181.7,404.1 182.0,404.2"/>
</g>
<rect x="71.7" y="294.7" width="5" height="2.6" fill="#f4f4f4" stroke="#555" stroke-width="0.35"/>
<rect x="72.6" y="295.5" width="3.2" height="1" fill="#aaa"/>
<rect x="142.7" y="254.2" width="5" height="2.6" fill="#f4f4f4" stroke="#555" stroke-width="0.35"/>
<rect x="143.6" y="255" width="3.2" height="1" fill="#aaa"/>
<rect x="122.5" y="303.4" width="5" height="2.6" fill="#f4f4f4" stroke="#555" stroke-width="0.35"/>
<rect x="123.4" y="304.2" width="3.2" height="1" fill="#aaa"/>
<rect x="126.5" y="362.7" width="5" height="2.6" fill="#f4f4f4" stroke="#555" stroke-width="0.35"/>
<rect x="127.4" y="363.5" width="3.2" height="1" fill="#aaa"/>
<rect x="147.7" y="394.5" width="5" height="2.6" fill="#f4f4f4" stroke="#555" stroke-width="0.35"/>
<rect x="148.6" y="395.3" width="3.2" height="1" fill="#aaa"/>
<circle cx="130.8" cy="324.3" r="1.5" fill="#900000" stroke="#100" stroke-width="0.5"/>
<rect x="126.2" y="324" width="1.2" height="0.6" fill="#333"/>
<rect x="60.4" y="245.1" width="141.2" height="158.1" fill="none" stroke="#333" stroke-width="0.7"/>
<line x1="60.4" y1="403.2" x2="60.4" y2="406.6" stroke="#555" stroke-width="0.55" />
<text x="60.4" y="411.5" font-size="3.3" fill="#222" stroke="#222" stroke-width="0.12" text-anchor="middle" >0.27</text>
<line x1="83.9" y1="403.2" x2="83.9" y2="406.6" stroke="#555" stroke-width="0.55" />
<text x="83.9" y="411.5" font-size="3.3" fill="#222" stroke="#222" stroke-width="0.12" text-anchor="middle" >0.28</text>
<line x1="107.5" y1="403.2" x2="107.5" y2="406.6" stroke="#555" stroke-width="0.55" />
<text x="107.5" y="411.5" font-size="3.3" fill="#222" stroke="#222" stroke-width="0.12" text-anchor="middle" >0.29</text>
<line x1="131" y1="403.2" x2="131" y2="406.6" stroke="#555" stroke-width="0.55" />
<text x="131" y="411.5" font-size="3.3" fill="#222" stroke="#222" stroke-width="0.12" text-anchor="middle" >0.3</text>
<line x1="154.5" y1="403.2" x2="154.5" y2="406.6" stroke="#555" stroke-width="0.55" />
<text x="154.5" y="411.5" font-size="3.3" fill="#222" stroke="#222" stroke-width="0.12" text-anchor="middle" >0.31</text>
<line x1="178.1" y1="403.2" x2="178.1" y2="406.6" stroke="#555" stroke-width="0.55" />
<text x="178.1" y="411.5" font-size="3.3" fill="#222" stroke="#222" stroke-width="0.12" text-anchor="middle" >0.32</text>
<line x1="201.6" y1="403.2" x2="201.6" y2="406.6" stroke="#555" stroke-width="0.55" />
<text x="201.6" y="411.5" font-size="3.3" fill="#222" stroke="#222" stroke-width="0.12" text-anchor="middle" >0.33</text>
<line x1="57" y1="245.1" x2="60.4" y2="245.1" stroke="#444" stroke-width="0.5" />
<text x="55.8" y="246.3" font-size="3.3" fill="#222" stroke="#222" stroke-width="0.12" text-anchor="end" >45</text>
<line x1="57" y1="276.7" x2="60.4" y2="276.7" stroke="#444" stroke-width="0.5" />
<text x="55.8" y="277.9" font-size="3.3" fill="#222" stroke="#222" stroke-width="0.12" text-anchor="end" >43</text>
<line x1="57" y1="308.3" x2="60.4" y2="308.3" stroke="#444" stroke-width="0.5" />
<text x="55.8" y="309.5" font-size="3.3" fill="#222" stroke="#222" stroke-width="0.12" text-anchor="end" >41</text>
<line x1="57" y1="340" x2="60.4" y2="340" stroke="#444" stroke-width="0.5" />
<text x="55.8" y="341.1" font-size="3.3" fill="#222" stroke="#222" stroke-width="0.12" text-anchor="end" >39</text>
<line x1="57" y1="371.6" x2="60.4" y2="371.6" stroke="#444" stroke-width="0.5" />
<text x="55.8" y="372.8" font-size="3.3" fill="#222" stroke="#222" stroke-width="0.12" text-anchor="end" >37</text>
<line x1="57" y1="403.2" x2="60.4" y2="403.2" stroke="#444" stroke-width="0.5" />
<text x="55.8" y="404.4" font-size="3.3" fill="#222" stroke="#222" stroke-width="0.12" text-anchor="end" >35</text>
<text x="130.6" y="243" font-size="5.0" fill="#111" stroke="#111" stroke-width="0.18" text-anchor="middle" font-weight="bold" textLength="17.4" lengthAdjust="spacingAndGlyphs" >TF (num)</text>
<text x="130.4" y="423.8" font-size="4.3" fill="#111" stroke="#111" stroke-width="0.15" text-anchor="middle" textLength="23" lengthAdjust="spacingAndGlyphs" >A: FR (m/min)</text>
<text x="37.9" y="323.5" font-size="4.3" fill="#111" stroke="#111" stroke-width="0.15" text-anchor="middle" textLength="16.5" lengthAdjust="spacingAndGlyphs"  transform="rotate(-90 37.9 323.5)">B: MP (%)</text>
<g clip-path="url(#cp5)"><g class="fc" filter="url(#bl5)">
<rect x="280" y="234" fill="#d2ff00"/>
<rect x="288" y="234" fill="#c4ff00"/>
<rect x="296" y="234" fill="#94ff00"/>
<rect x="304" y="234" fill="#70ff00"/>
<rect x="312" y="234" fill="#55ff00"/>
<rect x="320" y="234" fill="#41ff00"/>
<rect x="328" y="234" fill="#32ff00"/>
<rect x="336" y="234" fill="#27ff00"/>
<rect x="344" y="234" fill="#1fff00"/>
<rect x="352" y="234" fill="#18ff00"/>
<rect x="360" y="234" fill="#14ff00"/>
<rect x="368" y="234" fill="#11ff00"/>
<rect x="376" y="234" fill="#0fff00"/>
<rect x="384" y="234" fill="#0eff00"/>
<rect x="392" y="234" fill="#0dff00"/>
<rect x="400" y="234" fill="#0eff00"/>
<rect x="408" y="234" fill="#0fff00"/>
<rect x="416" y="234" fill="#13ff00"/>
<rect x="424" y="234" fill="#17ff00"/>
<rect x="432" y="234" fill="#1fff00"/>
<rect x="440" y="234" fill="#2aff00"/>
<rect x="448" y="234" fill="#3aff00"/>
<rect x="456" y="234" fill="#3bff00"/>
<rect x="280" y="242" fill="#d4ff00"/>
<rect x="288" y="242" fill="#c5ff00"/>
<rect x="296" y="242" fill="#95ff00"/>
<rect x="304" y="242" fill="#71ff00"/>
<rect x="312" y="242" fill="#56ff00"/>
<rect x="320" y="242" fill="#41ff00"/>
<rect x="328" y="242" fill="#32ff00"/>
<rect x="336" y="242" fill="#27ff00"/>
<rect x="344" y="242" fill="#1fff00"/>
<rect x="352" y="242" fill="#19ff00"/>
<rect x="360" y="242" fill="#14ff00"/>
<rect x="368" y="242" fill="#11ff00"/>
<rect x="376" y="242" fill="#0fff00"/>
<rect x="384" y="242" fill="#0eff00"/>
<rect x="392" y="242" fill="#0dff00"/>
<rect x="400" y="242" fill="#0eff00"/>
<rect x="408" y="242" fill="#10ff00"/>
<rect x="416" y="242" fill="#13ff00"/>
<rect x="424" y="242" fill="#18ff00"/>
<rect x="432" y="242" fill="#1fff00"/>
<rect x="440" y="242" fill="#2bff00"/>
<rect x="448" y="242" fill="#3cff00"/>
<rect x="456" y="242" fill="#3dff00"/>
<rect x="280" y="250" fill="#daff00"/>
<rect x="288" y="250" fill="#ccff00"/>
<rect x="296" y="250" fill="#9aff00"/>
<rect x="304" y="250" fill="#74ff00"/>
<rect x="312" y="250" fill="#58ff00"/>
<rect x="320" y="250" fill="#43ff00"/>
<rect x="328" y="250" fill="#34ff00"/>
<rect x="336" y="250" fill="#28ff00"/>
<rect x="344" y="250" fill="#20ff00"/>
<rect x="352" y="250" fill="#19ff00"/>
<rect x="360" y="250" fill="#15ff00"/>
<rect x="368" y="250" fill="#11ff00"/>
<rect x="376" y="250" fill="#0fff00"/>
<rect x="384" y="250" fill="#0eff00"/>
<rect x="392" y="250" fill="#0eff00"/>
<rect x="400" y="250" fill="#0fff00"/>
<rect x="408" y="250" fill="#11ff00"/>
<rect x="416" y="250" fill="#14ff00"/>
<rect x="424" y="250" fill="#1aff00"/>
<rect x="432" y="250" fill="#22ff00"/>
<rect x="440" y="250" fill="#2fff00"/>
<rect x="448" y="250" fill="#41ff00"/>
<rect x="456" y="250" fill="#42ff00"/>
<rect x="280" y="258" fill="#e1ff00"/>
<rect x="288" y="258" fill="#d2ff00"/>
<rect x="296" y="258" fill="#9eff00"/>
<rect x="304" y="258" fill="#78ff00"/>
<rect x="312" y="258" fill="#5bff00"/>
<rect x="320" y="258" fill="#45ff00"/>
<rect x="328" y="258" fill="#35ff00"/>
<rect x="336" y="258" fill="#29ff00"/>
<rect x="344" y="258" fill="#20ff00"/>
<rect x="352" y="258" fill="#1aff00"/>
<rect x="360" y="258" fill="#15ff00"/>
<rect x="368" y="258" fill="#12ff00"/>
<rect x="376" y="258" fill="#10ff00"/>
<rect x="384" y="258" fill="#0fff00"/>
<rect x="392" y="258" fill="#0eff00"/>
<rect x="400" y="258" fill="#0fff00"/>
<rect x="408" y="258" fill="#11ff00"/>
<rect x="416" y="258" fill="#15ff00"/>
<rect x="424" y="258" fill="#1bff00"/>
<rect x="432" y="258" fill="#25ff00"/>
<rect x="440" y="258" fill="#32ff00"/>
<rect x="448" y="258" fill="#46ff00"/>
<rect x="456" y="258" fill="#47ff00"/>
<rect x="280" y="266" fill="#e8ff00"/>
<rect x="288" y="266" fill="#d8ff00"/>
<rect x="296" y="266" fill="#a3ff00"/>
<rect x="304" y="266" fill="#7bff00"/>
<rect x="312" y="266" fill="#5dff00"/>
<rect x="320" y="266" fill="#47ff00"/>
<rect x="328" y="266" fill="#37ff00"/>
<rect x="336" y="266" fill="#2aff00"/>
<rect x="344" y="266" fill="#21ff00"/>
<rect x="352" y="266" fill="#1bff00"/>
<rect x="360" y="266" fill="#16ff00"/>
<rect x="368" y="266" fill="#12ff00"/>
<rect x="376" y="266" fill="#10ff00"/>
<rect x="384" y="266" fill="#0fff00"/>
<rect x="392" y="266" fill="#0fff00"/>
<rect x="400" y="266" fill="#10ff00"/>
<rect x="408" y="266" fill="#12ff00"/>
<rect x="416" y="266" fill="#16ff00"/>
<rect x="424" y="266" fill="#1dff00"/>
<rect x="432" y="266" fill="#27ff00"/>
<rect x="440" y="266" fill="#36ff00"/>
<rect x="448" y="266" fill="#4cff00"/>
<rect x="456" y="266" fill="#4dff00"/>
<rect x="280" y="274" fill="#eeff00"/>
<rect x="288" y="274" fill="#deff00"/>
<rect x="296" y="274" fill="#a7ff00"/>
<rect x="304" y="274" fill="#7fff00"/>
<rect x="312" y="274" fill="#60ff00"/>
<rect x="320" y="274" fill="#49ff00"/>
<rect x="328" y="274" fill="#38ff00"/>
<rect x="336" y="274" fill="#2cff00"/>
<rect x="344" y="274" fill="#22ff00"/>
<rect x="352" y="274" fill="#1bff00"/>
<rect x="360" y="274" fill="#16ff00"/>
<rect x="368" y="274" fill="#13ff00"/>
<rect x="376" y="274" fill="#11ff00"/>
<rect x="384" y="274" fill="#0fff00"/>
<rect x="392" y="274" fill="#0fff00"/>
<rect x="400" y="274" fill="#11ff00"/>
<rect x="408" y="274" fill="#13ff00"/>
<rect x="416" y="274" fill="#18ff00"/>
<rect x="424" y="274" fill="#1fff00"/>
<rect x="432" y="274" fill="#2aff00"/>
<rect x="440" y="274" fill="#3aff00"/>
<rect x="448" y="274" fill="#51ff00"/>
<rect x="456" y="274" fill="#52ff00"/>
<rect x="280" y="282" fill="#f5ff00"/>
<rect x="288" y="282" fill="#e4ff00"/>
<rect x="296" y="282" fill="#acff00"/>
<rect x="304" y="282" fill="#82ff00"/>
<rect x="312" y="282" fill="#63ff00"/>
<rect x="320" y="282" fill="#4bff00"/>
<rect x="328" y="282" fill="#3aff00"/>
<rect x="336" y="282" fill="#2dff00"/>
<rect x="344" y="282" fill="#23ff00"/>
<rect x="352" y="282" fill="#1cff00"/>
<rect x="360" y="282" fill="#17ff00"/>
<rect x="368" y="282" fill="#13ff00"/>
<rect x="376" y="282" fill="#11ff00"/>
<rect x="384" y="282" fill="#10ff00"/>
<rect x="392" y="282" fill="#10ff00"/>
<rect x="400" y="282" fill="#11ff00"/>
<rect x="408" y="282" fill="#14ff00"/>
<rect x="416" y="282" fill="#19ff00"/>
<rect x="424" y="282" fill="#21ff00"/>
<rect x="432" y="282" fill="#2cff00"/>
<rect x="440" y="282" fill="#3dff00"/>
<rect x="448" y="282" fill="#56ff00"/>
<rect x="456" y="282" fill="#58ff00"/>
<rect x="280" y="290" fill="#fbff00"/>
<rect x="288" y="290" fill="#eaff00"/>
<rect x="296" y="290" fill="#b1ff00"/>
<rect x="304" y="290" fill="#85ff00"/>
<rect x="312" y="290" fill="#65ff00"/>
<rect x="320" y="290" fill="#4dff00"/>
<rect x="328" y="290" fill="#3bff00"/>
<rect x="336" y="290" fill="#2eff00"/>
<rect x="344" y="290" fill="#24ff00"/>
<rect x="352" y="290" fill="#1dff00"/>
<rect x="360" y="290" fill="#17ff00"/>
<rect x="368" y="290" fill="#14ff00"/>
<rect x="376" y="290" fill="#11ff00"/>
<rect x="384" y="290" fill="#10ff00"/>
<rect x="392" y="290" fill="#10ff00"/>
<rect x="400" y="290" fill="#12ff00"/>
<rect x="408" y="290" fill="#15ff00"/>
<rect x="416" y="290" fill="#1aff00"/>
<rect x="424" y="290" fill="#22ff00"/>
<rect x="432" y="290" fill="#2fff00"/>
<rect x="440" y="290" fill="#41ff00"/>
<rect x="448" y="290" fill="#5cff00"/>
<rect x="456" y="290" fill="#5dff00"/>
<rect x="280" y="298" fill="#fffc00"/>
<rect x="288" y="298" fill="#f0ff00"/>
<rect x="296" y="298" fill="#b5ff00"/>
<rect x="304" y="298" fill="#89ff00"/>
<rect x="312" y="298" fill="#68ff00"/>
<rect x="320" y="298" fill="#4fff00"/>
<rect x="328" y="298" fill="#3dff00"/>
<rect x="336" y="298" fill="#2fff00"/>
<rect x="344" y="298" fill="#25ff00"/>
<rect x="352" y="298" fill="#1dff00"/>
<rect x="360" y="298" fill="#18ff00"/>
<rect x="368" y="298" fill="#14ff00"/>
<rect x="376" y="298" fill="#12ff00"/>
<rect x="384" y="298" fill="#11ff00"/>
<rect x="392" y="298" fill="#11ff00"/>
<rect x="400" y="298" fill="#13ff00"/>
<rect x="408" y="298" fill="#16ff00"/>
<rect x="416" y="298" fill="#1bff00"/>
<rect x="424" y="298" fill="#24ff00"/>
<rect x="432" y="298" fill="#31ff00"/>
<rect x="440" y="298" fill="#44ff00"/>
<rect x="448" y="298" fill="#61ff00"/>
<rect x="456" y="298" fill="#62ff00"/>
<rect x="280" y="306" fill="#fff500"/>
<rect x="288" y="306" fill="#f7ff00"/>
<rect x="296" y="306" fill="#baff00"/>
<rect x="304" y="306" fill="#8cff00"/>
<rect x="312" y="306" fill="#6aff00"/>
<rect x="320" y="306" fill="#51ff00"/>
<rect x="328" y="306" fill="#3eff00"/>
<rect x="336" y="306" fill="#30ff00"/>
<rect x="344" y="306" fill="#26ff00"/>
<rect x="352" y="306" fill="#1eff00"/>
<rect x="360" y="306" fill="#18ff00"/>
<rect x="368" y="306" fill="#15ff00"/>
<rect x="376" y="306" fill="#12ff00"/>
<rect x="384" y="306" fill="#11ff00"/>
<rect x="392" y="306" fill="#11ff00"/>
<rect x="400" y="306" fill="#13ff00"/>
<rect x="408" y="306" fill="#17ff00"/>
<rect x="416" y="306" fill="#1dff00"/>
<rect x="424" y="306" fill="#26ff00"/>
<rect x="432" y="306" fill="#34ff00"/>
<rect x="440" y="306" fill="#48ff00"/>
<rect x="448" y="306" fill="#66ff00"/>
<rect x="456" y="306" fill="#68ff00"/>
<rect x="280" y="314" fill="#fffb00"/>
<rect x="288" y="314" fill="#f1ff00"/>
<rect x="296" y="314" fill="#b6ff00"/>
<rect x="304" y="314" fill="#8aff00"/>
<rect x="312" y="314" fill="#68ff00"/>
<rect x="320" y="314" fill="#4fff00"/>
<rect x="328" y="314" fill="#3dff00"/>
<rect x="336" y="314" fill="#2fff00"/>
<rect x="344" y="314" fill="#25ff00"/>
<rect x="352" y="314" fill="#1dff00"/>
<rect x="360" y="314" fill="#18ff00"/>
<rect x="368" y="314" fill="#14ff00"/>
<rect x="376" y="314" fill="#12ff00"/>
<rect x="384" y="314" fill="#11ff00"/>
<rect x="392" y="314" fill="#12ff00"/>
<rect x="400" y="314" fill="#14ff00"/>
<rect x="408" y="314" fill="#17ff00"/>
<rect x="416" y="314" fill="#1eff00"/>
<rect x="424" y="314" fill="#27ff00"/>
<rect x="432" y="314" fill="#36ff00"/>
<rect x="440" y="314" fill="#4cff00"/>
<rect x="448" y="314" fill="#6cff00"/>
<rect x="456" y="314" fill="#6dff00"/>
<rect x="280" y="322" fill="#fdff00"/>
<rect x="288" y="322" fill="#ebff00"/>
<rect x="296" y="322" fill="#b1ff00"/>
<rect x="304" y="322" fill="#86ff00"/>
<rect x="312" y="322" fill="#66ff00"/>
<rect x="320" y="322" fill="#4dff00"/>
<rect x="328" y="322" fill="#3bff00"/>
<rect x="336" y="322" fill="#2eff00"/>
<rect x="344" y="322" fill="#24ff00"/>
<rect x="352" y="322" fill="#1dff00"/>
<rect x="360" y="322" fill="#18ff00"/>
<rect x="368" y="322" fill="#14ff00"/>
<rect x="376" y="322" fill="#12ff00"/>
<rect x="384" y="322" fill="#11ff00"/>
<rect x="392" y="322" fill="#12ff00"/>
<rect x="400" y="322" fill="#14ff00"/>
<rect x="408" y="322" fill="#18ff00"/>
<rect x="416" y="322" fill="#1fff00"/>
<rect x="424" y="322" fill="#29ff00"/>
<rect x="432" y="322" fill="#39ff00"/>
<rect x="440" y="322" fill="#4fff00"/>
<rect x="448" y="322" fill="#71ff00"/>
<rect x="456" y="322" fill="#72ff00"/>
<rect x="280" y="330" fill="#f6ff00"/>
<rect x="288" y="330" fill="#e5ff00"/>
<rect x="296" y="330" fill="#adff00"/>
<rect x="304" y="330" fill="#83ff00"/>
<rect x="312" y="330" fill="#63ff00"/>
<rect x="320" y="330" fill="#4cff00"/>
<rect x="328" y="330" fill="#3aff00"/>
<rect x="336" y="330" fill="#2dff00"/>
<rect x="344" y="330" fill="#23ff00"/>
<rect x="352" y="330" fill="#1cff00"/>
<rect x="360" y="330" fill="#17ff00"/>
<rect x="368" y="330" fill="#14ff00"/>
<rect x="376" y="330" fill="#12ff00"/>
<rect x="384" y="330" fill="#11ff00"/>
<rect x="392" y="330" fill="#12ff00"/>
<rect x="400" y="330" fill="#15ff00"/>
<rect x="408" y="330" fill="#19ff00"/>
<rect x="416" y="330" fill="#20ff00"/>
<rect x="424" y="330" fill="#2bff00"/>
<rect x="432" y="330" fill="#3bff00"/>
<rect x="440" y="330" fill="#53ff00"/>
<rect x="448" y="330" fill="#76ff00"/>
<rect x="456" y="330" fill="#78ff00"/>
<rect x="280" y="338" fill="#efff00"/>
<rect x="288" y="338" fill="#dfff00"/>
<rect x="296" y="338" fill="#a8ff00"/>
<rect x="304" y="338" fill="#7fff00"/>
<rect x="312" y="338" fill="#61ff00"/>
<rect x="320" y="338" fill="#4aff00"/>
<rect x="328" y="338" fill="#39ff00"/>
<rect x="336" y="338" fill="#2cff00"/>
<rect x="344" y="338" fill="#23ff00"/>
<rect x="352" y="338" fill="#1cff00"/>
<rect x="360" y="338" fill="#17ff00"/>
<rect x="368" y="338" fill="#14ff00"/>
<rect x="376" y="338" fill="#12ff00"/>
<rect x="384" y="338" fill="#11ff00"/>
<rect x="392" y="338" fill="#12ff00"/>
<rect x="400" y="338" fill="#15ff00"/>
<rect x="408" y="338" fill="#1aff00"/>
<rect x="416" y="338" fill="#21ff00"/>
<rect x="424" y="338" fill="#2cff00"/>
<rect x="432" y="338" fill="#3dff00"/>
<rect x="440" y="338" fill="#57ff00"/>
<rect x="448" y="338" fill="#7bff00"/>
<rect x="456" y="338" fill="#7dff00"/>
<rect x="280" y="346" fill="#e9ff00"/>
<rect x="288" y="346" fill="#d9ff00"/>
<rect x="296" y="346" fill="#a4ff00"/>
<rect x="304" y="346" fill="#7cff00"/>
<rect x="312" y="346" fill="#5eff00"/>
<rect x="320" y="346" fill="#48ff00"/>
<rect x="328" y="346" fill="#37ff00"/>
<rect x="336" y="346" fill="#2bff00"/>
<rect x="344" y="346" fill="#22ff00"/>
<rect x="352" y="346" fill="#1bff00"/>
<rect x="360" y="346" fill="#17ff00"/>
<rect x="368" y="346" fill="#14ff00"/>
<rect x="376" y="346" fill="#12ff00"/>
<rect x="384" y="346" fill="#12ff00"/>
<rect x="392" y="346" fill="#13ff00"/>
<rect x="400" y="346" fill="#15ff00"/>
<rect x="408" y="346" fill="#1aff00"/>
<rect x="416" y="346" fill="#22ff00"/>
<rect x="424" y="346" fill="#2eff00"/>
<rect x="432" y="346" fill="#40ff00"/>
<rect x="440" y="346" fill="#5aff00"/>
<rect x="448" y="346" fill="#81ff00"/>
<rect x="456" y="346" fill="#82ff00"/>
<rect x="280" y="354" fill="#e2ff00"/>
<rect x="288" y="354" fill="#d3ff00"/>
<rect x="296" y="354" fill="#9fff00"/>
<rect x="304" y="354" fill="#78ff00"/>
<rect x="312" y="354" fill="#5bff00"/>
<rect x="320" y="354" fill="#46ff00"/>
<rect x="328" y="354" fill="#36ff00"/>
<rect x="336" y="354" fill="#2aff00"/>
<rect x="344" y="354" fill="#21ff00"/>
<rect x="352" y="354" fill="#1bff00"/>
<rect x="360" y="354" fill="#16ff00"/>
<rect x="368" y="354" fill="#13ff00"/>
<rect x="376" y="354" fill="#12ff00"/>
<rect x="384" y="354" fill="#12ff00"/>
<rect x="392" y="354" fill="#13ff00"/>
<rect x="400" y="354" fill="#16ff00"/>
<rect x="408" y="354" fill="#1bff00"/>
<rect x="416" y="354" fill="#23ff00"/>
<rect x="424" y="354" fill="#30ff00"/>
<rect x="432" y="354" fill="#42ff00"/>
<rect x="440" y="354" fill="#5eff00"/>
<rect x="448" y="354" fill="#86ff00"/>
<rect x="456" y="354" fill="#88ff00"/>
<rect x="280" y="362" fill="#dcff00"/>
<rect x="288" y="362" fill="#cdff00"/>
<rect x="296" y="362" fill="#9aff00"/>
<rect x="304" y="362" fill="#75ff00"/>
<rect x="312" y="362" fill="#59ff00"/>
<rect x="320" y="362" fill="#44ff00"/>
<rect x="328" y="362" fill="#34ff00"/>
<rect x="336" y="362" fill="#29ff00"/>
<rect x="344" y="362" fill="#20ff00"/>
<rect x="352" y="362" fill="#1aff00"/>
<rect x="360" y="362" fill="#16ff00"/>
<rect x="368" y="362" fill="#13ff00"/>
<rect x="376" y="362" fill="#12ff00"/>
<rect x="384" y="362" fill="#12ff00"/>
<rect x="392" y="362" fill="#13ff00"/>
<rect x="400" y="362" fill="#16ff00"/>
<rect x="408" y="362" fill="#1cff00"/>
<rect x="416" y="362" fill="#24ff00"/>
<rect x="424" y="362" fill="#31ff00"/>
<rect x="432" y="362" fill="#45ff00"/>
<rect x="440" y="362" fill="#61ff00"/>
<rect x="448" y="362" fill="#8bff00"/>
<rect x="456" y="362" fill="#8dff00"/>
<rect x="280" y="370" fill="#d5ff00"/>
<rect x="288" y="370" fill="#c6ff00"/>
<rect x="296" y="370" fill="#96ff00"/>
<rect x="304" y="370" fill="#71ff00"/>
<rect x="312" y="370" fill="#56ff00"/>
<rect x="320" y="370" fill="#42ff00"/>
<rect x="328" y="370" fill="#33ff00"/>
<rect x="336" y="370" fill="#28ff00"/>
<rect x="344" y="370" fill="#1fff00"/>
<rect x="352" y="370" fill="#1aff00"/>
<rect x="360" y="370" fill="#15ff00"/>
<rect x="368" y="370" fill="#13ff00"/>
<rect x="376" y="370" fill="#12ff00"/>
<rect x="384" y="370" fill="#12ff00"/>
<rect x="392" y="370" fill="#13ff00"/>
<rect x="400" y="370" fill="#17ff00"/>
<rect x="408" y="370" fill="#1cff00"/>
<rect x="416" y="370" fill="#25ff00"/>
<rect x="424" y="370" fill="#33ff00"/>
<rect x="432" y="370" fill="#47ff00"/>
<rect x="440" y="370" fill="#65ff00"/>
<rect x="448" y="370" fill="#91ff00"/>
<rect x="456" y="370" fill="#93ff00"/>
<rect x="280" y="378" fill="#ceff00"/>
<rect x="288" y="378" fill="#c0ff00"/>
<rect x="296" y="378" fill="#91ff00"/>
<rect x="304" y="378" fill="#6eff00"/>
<rect x="312" y="378" fill="#54ff00"/>
<rect x="320" y="378" fill="#40ff00"/>
<rect x="328" y="378" fill="#31ff00"/>
<rect x="336" y="378" fill="#27ff00"/>
<rect x="344" y="378" fill="#1fff00"/>
<rect x="352" y="378" fill="#19ff00"/>
<rect x="360" y="378" fill="#15ff00"/>
<rect x="368" y="378" fill="#13ff00"/>
<rect x="376" y="378" fill="#12ff00"/>
<rect x="384" y="378" fill="#12ff00"/>
<rect x="392" y="378" fill="#14ff00"/>
<rect x="400" y="378" fill="#17ff00"/>
<rect x="408" y="378" fill="#1dff00"/>
<rect x="416" y="378" fill="#27ff00"/>
<rect x="424" y="378" fill="#35ff00"/>
<rect x="432" y="378" fill="#4aff00"/>
<rect x="440" y="378" fill="#69ff00"/>
<rect x="448" y="378" fill="#96ff00"/>
<rect x="456" y="378" fill="#98ff00"/>
<rect x="280" y="386" fill="#c8ff00"/>
<rect x="288" y="386" fill="#baff00"/>
<rect x="296" y="386" fill="#8dff00"/>
<rect x="304" y="386" fill="#6bff00"/>
<rect x="312" y="386" fill="#51ff00"/>
<rect x="320" y="386" fill="#3eff00"/>
<rect x="328" y="386" fill="#30ff00"/>
<rect x="336" y="386" fill="#26ff00"/>
<rect x="344" y="386" fill="#1eff00"/>
<rect x="352" y="386" fill="#18ff00"/>
<rect x="360" y="386" fill="#15ff00"/>
<rect x="368" y="386" fill="#12ff00"/>
<rect x="376" y="386" fill="#11ff00"/>
<rect x="384" y="386" fill="#12ff00"/>
<rect x="392" y="386" fill="#14ff00"/>
<rect x="400" y="386" fill="#18ff00"/>
<rect x="408" y="386" fill="#1eff00"/>
<rect x="416" y="386" fill="#28ff00"/>
<rect x="424" y="386" fill="#36ff00"/>
<rect x="432" y="386" fill="#4cff00"/>
<rect x="440" y="386" fill="#6cff00"/>
<rect x="448" y="386" fill="#9bff00"/>
<rect x="456" y="386" fill="#9dff00"/>
<rect x="280" y="394" fill="#c6ff00"/>
<rect x="288" y="394" fill="#b8ff00"/>
<rect x="296" y="394" fill="#8bff00"/>
<rect x="304" y="394" fill="#6aff00"/>
<rect x="312" y="394" fill="#50ff00"/>
<rect x="320" y="394" fill="#3eff00"/>
<rect x="328" y="394" fill="#30ff00"/>
<rect x="336" y="394" fill="#25ff00"/>
<rect x="344" y="394" fill="#1eff00"/>
<rect x="352" y="394" fill="#18ff00"/>
<rect x="360" y="394" fill="#15ff00"/>
<rect x="368" y="394" fill="#12ff00"/>
<rect x="376" y="394" fill="#11ff00"/>
<rect x="384" y="394" fill="#12ff00"/>
<rect x="392" y="394" fill="#14ff00"/>
<rect x="400" y="394" fill="#18ff00"/>
<rect x="408" y="394" fill="#1eff00"/>
<rect x="416" y="394" fill="#28ff00"/>
<rect x="424" y="394" fill="#37ff00"/>
<rect x="432" y="394" fill="#4dff00"/>
<rect x="440" y="394" fill="#6dff00"/>
<rect x="448" y="394" fill="#9cff00"/>
<rect x="456" y="394" fill="#9fff00"/>
<rect x="280" y="402" fill="#c6ff00"/>
<rect x="288" y="402" fill="#b8ff00"/>
<rect x="296" y="402" fill="#8bff00"/>
<rect x="304" y="402" fill="#6aff00"/>
<rect x="312" y="402" fill="#50ff00"/>
<rect x="320" y="402" fill="#3eff00"/>
<rect x="328" y="402" fill="#30ff00"/>
<rect x="336" y="402" fill="#25ff00"/>
<rect x="344" y="402" fill="#1eff00"/>
<rect x="352" y="402" fill="#18ff00"/>
<rect x="360" y="402" fill="#15ff00"/>
<rect x="368" y="402" fill="#12ff00"/>
<rect x="376" y="402" fill="#11ff00"/>
<rect x="384" y="402" fill="#12ff00"/>
<rect x="392" y="402" fill="#14ff00"/>
<rect x="400" y="402" fill="#18ff00"/>
<rect x="408" y="402" fill="#1eff00"/>
<rect x="416" y="402" fill="#28ff00"/>
<rect x="424" y="402" fill="#37ff00"/>
<rect x="432" y="402" fill="#4dff00"/>
<rect x="440" y="402" fill="#6dff00"/>
<rect x="448" y="402" fill="#9cff00"/>
<rect x="456" y="402" fill="#9fff00"/>
</g></g>
<g clip-path="url(#cp5)" fill="none" stroke="#101010" stroke-width="0.6">
<path d="M288.0,265.0 C288.2,265.4 288.8,264.9 289.5,267.6 C290.2,270.3 291.4,276.6 292.3,281.4 C293.2,286.2 294.1,291.9 294.8,296.5 C295.5,301.1 296.0,305.8 296.3,309.0 C296.6,312.2 296.7,312.6 296.8,315.5 C296.9,318.4 297.1,322.7 297.0,326.6 C296.9,330.5 296.6,334.9 296.0,339.1 C295.4,343.3 294.6,347.3 293.5,351.7 C292.4,356.1 290.4,362.6 289.5,365.5 C288.6,368.4 288.2,368.4 288.0,369.0"/>
<path d="M293.8,243.0 C293.9,243.2 293.4,241.8 294.2,244.4 C295.0,247.0 297.0,253.2 298.6,258.8 C300.2,264.4 302.0,271.6 303.6,277.7 C305.2,283.8 306.8,290.1 308.0,295.2 C309.2,300.2 310.4,304.2 311.1,308.0 C311.8,311.8 312.1,314.9 312.4,318.0 C312.6,321.1 312.7,323.1 312.6,326.6 C312.5,330.1 312.3,334.3 311.7,339.1 C311.1,343.9 310.5,349.9 309.2,355.4 C307.9,360.8 305.9,365.7 303.6,371.8 C301.3,377.9 296.9,388.2 295.4,391.8 C293.9,395.4 294.9,393.2 294.8,393.5"/>
<path d="M306.2,243.0 C306.3,243.2 305.7,241.8 306.7,244.4 C307.7,247.0 310.2,253.7 312.4,258.8 C314.6,263.9 317.6,269.6 319.9,275.2 C322.2,280.8 324.5,287.7 326.2,292.7 C327.9,297.7 329.0,301.5 329.9,305.3 C330.8,309.1 331.3,311.8 331.8,315.3 C332.3,318.9 332.8,322.6 333.1,326.6 C333.4,330.6 333.7,334.5 333.5,339.1 C333.3,343.7 333.0,349.0 331.8,354.2 C330.6,359.4 328.8,364.2 326.2,370.5 C323.6,376.8 317.9,388.0 316.1,391.8 C314.3,395.6 315.4,393.2 315.3,393.5"/>
<path d="M320.3,243.0 C320.4,243.2 319.9,241.8 321.2,244.4 C322.5,247.0 325.4,253.7 328.2,258.8 C330.9,263.9 334.6,270.0 337.7,275.2 C340.8,280.4 343.8,285.3 346.8,290.2 C349.9,295.1 353.6,300.6 356.0,304.5 C358.4,308.4 359.4,310.3 361.5,313.5 C363.6,316.7 366.2,320.7 368.3,323.6 C370.4,326.5 371.9,329.2 374.3,331.0 C376.7,332.8 379.9,334.0 382.8,334.3 C385.8,334.6 388.2,334.3 392.0,332.6 C395.8,330.9 401.5,326.8 405.7,324.0 C409.9,321.2 413.6,318.6 417.0,316.0 C420.4,313.4 422.4,311.6 426.0,308.3 C429.6,305.1 434.0,300.4 438.3,296.5 C442.6,292.6 449.4,287.3 451.9,285.2 C454.4,283.1 453.2,284.2 453.5,284.0"/>
<path d="M336.5,243.0 C336.7,243.2 336.1,242.6 337.5,244.4 C338.9,246.2 342.3,250.6 345.0,253.8 C347.7,257.1 350.9,260.8 353.8,263.9 C356.7,267.0 360.2,270.4 362.6,272.6 C365.0,274.8 365.4,275.3 368.0,277.0 C370.6,278.7 374.6,281.0 378.0,282.7 C381.4,284.4 384.5,286.2 388.1,287.1 C391.7,288.0 395.4,288.2 399.4,288.0 C403.4,287.8 407.7,287.1 411.9,285.8 C416.1,284.5 420.1,282.4 424.5,280.2 C428.9,278.0 433.7,275.2 438.3,272.6 C442.9,270.0 449.4,266.0 451.9,264.5 C454.4,263.0 453.2,263.7 453.5,263.5"/>
<path d="M358.5,243.0 C358.8,243.2 358.8,243.4 360.1,244.4 C361.4,245.4 364.4,247.6 366.4,248.8 C368.4,250.1 369.6,250.8 372.0,251.9 C374.4,253.1 377.1,254.3 380.6,255.7 C384.1,257.1 389.3,259.3 393.1,260.3 C396.9,261.3 399.4,261.6 403.2,261.6 C407.0,261.6 411.1,261.2 415.7,260.1 C420.3,259.0 426.2,256.8 430.8,255.1 C435.4,253.4 439.8,251.5 443.3,250.0 C446.8,248.5 450.2,247.0 451.9,246.3 C453.6,245.6 453.2,245.7 453.5,245.6"/>
<path d="M349.0,393.0 C349.2,392.8 348.4,393.0 350.0,391.8 C351.6,390.6 356.3,387.4 358.8,385.6 C361.3,383.9 363.0,382.4 365.0,381.3 C367.0,380.2 369.2,379.6 371.0,379.3 C372.8,379.0 374.3,379.2 376.0,379.7 C377.7,380.1 379.4,380.9 381.2,382.0 C383.0,383.1 385.0,384.6 386.8,386.2 C388.6,387.8 390.9,390.7 391.9,391.8 C392.9,392.9 392.8,392.8 393.0,393.0"/>
<path d="M453.5,308.5 C453.2,308.9 452.8,309.8 451.9,310.9 C451.0,312.0 449.6,313.4 448.4,315.0 C447.2,316.6 445.9,318.7 444.6,320.6 C443.3,322.5 442.7,323.5 440.8,326.6 C438.9,329.7 435.3,335.1 433.3,339.1 C431.3,343.1 430.0,346.7 428.8,350.7 C427.6,354.7 426.7,358.8 426.2,363.2 C425.7,367.6 425.6,372.0 425.6,376.8 C425.6,381.6 426.2,389.0 426.4,391.8 C426.5,394.6 426.5,393.2 426.5,393.5"/>
<path d="M453.5,348.0 C453.2,348.8 452.5,350.6 451.9,352.9 C451.2,355.2 450.3,358.8 449.6,361.7 C448.9,364.6 448.2,367.1 447.7,370.5 C447.2,373.9 446.8,378.2 446.6,381.8 C446.4,385.4 446.5,389.9 446.5,391.8 C446.5,393.8 446.5,393.2 446.5,393.5"/>
</g>
<rect x="294" y="313.4" width="5" height="2.6" fill="#f4f4f4" stroke="#555" stroke-width="0.35"/>
<rect x="294.9" y="314.2" width="3.2" height="1" fill="#aaa"/>
<rect x="309.4" y="315.2" width="5" height="2.6" fill="#f4f4f4" stroke="#555" stroke-width="0.35"/>
<rect x="310.3" y="316" width="3.2" height="1" fill="#aaa"/>
<rect x="328.6" y="313.4" width="5" height="2.6" fill="#f4f4f4" stroke="#555" stroke-width="0.35"/>
<rect x="329.5" y="314.2" width="3.2" height="1" fill="#aaa"/>
<rect x="368.1" y="324.7" width="5" height="2.6" fill="#f4f4f4" stroke="#555" stroke-width="0.35"/>
<rect x="369" y="325.5" width="3.2" height="1" fill="#aaa"/>
<rect x="381.8" y="283.7" width="5" height="2.6" fill="#f4f4f4" stroke="#555" stroke-width="0.35"/>
<rect x="382.7" y="284.5" width="3.2" height="1" fill="#aaa"/>
<rect x="400.4" y="259.4" width="5" height="2.6" fill="#f4f4f4" stroke="#555" stroke-width="0.35"/>
<rect x="401.3" y="260.2" width="3.2" height="1" fill="#aaa"/>
<rect x="369.8" y="377.2" width="5" height="2.6" fill="#f4f4f4" stroke="#555" stroke-width="0.35"/>
<rect x="370.7" y="378" width="3.2" height="1" fill="#aaa"/>
<rect x="429.8" y="341.6" width="5" height="2.6" fill="#f4f4f4" stroke="#555" stroke-width="0.35"/>
<rect x="430.7" y="342.4" width="3.2" height="1" fill="#aaa"/>
<rect x="444.7" y="369.2" width="5" height="2.6" fill="#f4f4f4" stroke="#555" stroke-width="0.35"/>
<rect x="445.6" y="370" width="3.2" height="1" fill="#aaa"/>
<circle cx="370.3" cy="318" r="1.5" fill="#900000" stroke="#100" stroke-width="0.5"/>
<rect x="365.7" y="317.7" width="1.2" height="0.6" fill="#333"/>
<rect x="289.6" y="243.9" width="162.3" height="148.1" fill="none" stroke="#333" stroke-width="0.7"/>
<line x1="289.6" y1="392" x2="289.6" y2="395.4" stroke="#555" stroke-width="0.55" />
<text x="289.6" y="400.3" font-size="3.3" fill="#222" stroke="#222" stroke-width="0.12" text-anchor="middle" >0.27</text>
<line x1="316.7" y1="392" x2="316.7" y2="395.4" stroke="#555" stroke-width="0.55" />
<text x="316.7" y="400.3" font-size="3.3" fill="#222" stroke="#222" stroke-width="0.12" text-anchor="middle" >0.28</text>
<line x1="343.7" y1="392" x2="343.7" y2="395.4" stroke="#555" stroke-width="0.55" />
<text x="343.7" y="400.3" font-size="3.3" fill="#222" stroke="#222" stroke-width="0.12" text-anchor="middle" >0.29</text>
<line x1="370.8" y1="392" x2="370.8" y2="395.4" stroke="#555" stroke-width="0.55" />
<text x="370.8" y="400.3" font-size="3.3" fill="#222" stroke="#222" stroke-width="0.12" text-anchor="middle" >0.3</text>
<line x1="397.8" y1="392" x2="397.8" y2="395.4" stroke="#555" stroke-width="0.55" />
<text x="397.8" y="400.3" font-size="3.3" fill="#222" stroke="#222" stroke-width="0.12" text-anchor="middle" >0.31</text>
<line x1="424.9" y1="392" x2="424.9" y2="395.4" stroke="#555" stroke-width="0.55" />
<text x="424.9" y="400.3" font-size="3.3" fill="#222" stroke="#222" stroke-width="0.12" text-anchor="middle" >0.32</text>
<line x1="451.9" y1="392" x2="451.9" y2="395.4" stroke="#555" stroke-width="0.55" />
<text x="451.9" y="400.3" font-size="3.3" fill="#222" stroke="#222" stroke-width="0.12" text-anchor="middle" >0.33</text>
<line x1="286.2" y1="243.9" x2="289.6" y2="243.9" stroke="#444" stroke-width="0.5" />
<text x="285" y="245.1" font-size="3.3" fill="#222" stroke="#222" stroke-width="0.12" text-anchor="end" >33</text>
<line x1="286.2" y1="268.6" x2="289.6" y2="268.6" stroke="#444" stroke-width="0.5" />
<text x="285" y="269.8" font-size="3.3" fill="#222" stroke="#222" stroke-width="0.12" text-anchor="end" >32</text>
<line x1="286.2" y1="293.3" x2="289.6" y2="293.3" stroke="#444" stroke-width="0.5" />
<text x="285" y="294.5" font-size="3.3" fill="#222" stroke="#222" stroke-width="0.12" text-anchor="end" >31</text>
<line x1="286.2" y1="317.9" x2="289.6" y2="317.9" stroke="#444" stroke-width="0.5" />
<text x="285" y="319.1" font-size="3.3" fill="#222" stroke="#222" stroke-width="0.12" text-anchor="end" >30</text>
<line x1="286.2" y1="342.6" x2="289.6" y2="342.6" stroke="#444" stroke-width="0.5" />
<text x="285" y="343.8" font-size="3.3" fill="#222" stroke="#222" stroke-width="0.12" text-anchor="end" >29</text>
<line x1="286.2" y1="367.3" x2="289.6" y2="367.3" stroke="#444" stroke-width="0.5" />
<text x="285" y="368.5" font-size="3.3" fill="#222" stroke="#222" stroke-width="0.12" text-anchor="end" >28</text>
<line x1="286.2" y1="392" x2="289.6" y2="392" stroke="#444" stroke-width="0.5" />
<text x="285" y="393.2" font-size="3.3" fill="#222" stroke="#222" stroke-width="0.12" text-anchor="end" >27</text>
<text x="370.2" y="242.3" font-size="5.0" fill="#111" stroke="#111" stroke-width="0.18" text-anchor="middle" font-weight="bold" textLength="20" lengthAdjust="spacingAndGlyphs" >TF (num)</text>
<text x="370.1" y="410.9" font-size="4.3" fill="#111" stroke="#111" stroke-width="0.15" text-anchor="middle" textLength="26" lengthAdjust="spacingAndGlyphs" >A: FR (m/min)</text>
<text x="262.6" y="317.4" font-size="4.3" fill="#111" stroke="#111" stroke-width="0.15" text-anchor="middle" textLength="23" lengthAdjust="spacingAndGlyphs"  transform="rotate(-90 262.6 317.4)">C: Temp (0 C)</text>
<g clip-path="url(#cp6)"><g class="fc" filter="url(#bl6)">
<rect x="520" y="235" fill="#00faff"/>
<rect x="528" y="235" fill="#00fff8"/>
<rect x="536" y="235" fill="#00ffcb"/>
<rect x="544" y="235" fill="#00ffa5"/>
<rect x="552" y="235" fill="#00ff83"/>
<rect x="560" y="235" fill="#00ff66"/>
<rect x="568" y="235" fill="#00ff4e"/>
<rect x="576" y="235" fill="#00ff39"/>
<rect x="584" y="235" fill="#00ff28"/>
<rect x="592" y="235" fill="#00ff1a"/>
<rect x="600" y="235" fill="#00ff0f"/>
<rect x="608" y="235" fill="#00ff06"/>
<rect x="616" y="235" fill="#01ff00"/>
<rect x="624" y="235" fill="#07ff00"/>
<rect x="632" y="235" fill="#0aff00"/>
<rect x="640" y="235" fill="#0dff00"/>
<rect x="648" y="235" fill="#0eff00"/>
<rect x="656" y="235" fill="#0dff00"/>
<rect x="664" y="235" fill="#0cff00"/>
<rect x="672" y="235" fill="#09ff00"/>
<rect x="680" y="235" fill="#05ff00"/>
<rect x="688" y="235" fill="#05ff00"/>
<rect x="520" y="243" fill="#00fffe"/>
<rect x="528" y="243" fill="#00fff2"/>
<rect x="536" y="243" fill="#00ffc6"/>
<rect x="544" y="243" fill="#00ffa0"/>
<rect x="552" y="243" fill="#00ff7f"/>
<rect x="560" y="243" fill="#00ff62"/>
<rect x="568" y="243" fill="#00ff4a"/>
<rect x="576" y="243" fill="#00ff36"/>
<rect x="584" y="243" fill="#00ff25"/>
<rect x="592" y="243" fill="#00ff17"/>
<rect x="600" y="243" fill="#00ff0c"/>
<rect x="608" y="243" fill="#00ff03"/>
<rect x="616" y="243" fill="#04ff00"/>
<rect x="624" y="243" fill="#09ff00"/>
<rect x="632" y="243" fill="#0dff00"/>
<rect x="640" y="243" fill="#0fff00"/>
<rect x="648" y="243" fill="#10ff00"/>
<rect x="656" y="243" fill="#10ff00"/>
<rect x="664" y="243" fill="#0eff00"/>
<rect x="672" y="243" fill="#0bff00"/>
<rect x="680" y="243" fill="#07ff00"/>
<rect x="688" y="243" fill="#07ff00"/>
<rect x="520" y="251" fill="#00ffea"/>
<rect x="528" y="251" fill="#00ffde"/>
<rect x="536" y="251" fill="#00ffb3"/>
<rect x="544" y="251" fill="#00ff8e"/>
<rect x="552" y="251" fill="#00ff6e"/>
<rect x="560" y="251" fill="#00ff53"/>
<rect x="568" y="251" fill="#00ff3c"/>
<rect x="576" y="251" fill="#00ff29"/>
<rect x="584" y="251" fill="#00ff19"/>
<rect x="592" y="251" fill="#00ff0c"/>
<rect x="600" y="251" fill="#00ff02"/>
<rect x="608" y="251" fill="#07ff00"/>
<rect x="616" y="251" fill="#0dff00"/>
<rect x="624" y="251" fill="#12ff00"/>
<rect x="632" y="251" fill="#15ff00"/>
<rect x="640" y="251" fill="#17ff00"/>
<rect x="648" y="251" fill="#18ff00"/>
<rect x="656" y="251" fill="#18ff00"/>
<rect x="664" y="251" fill="#16ff00"/>
<rect x="672" y="251" fill="#14ff00"/>
<rect x="680" y="251" fill="#10ff00"/>
<rect x="688" y="251" fill="#10ff00"/>
<rect x="520" y="259" fill="#00ffd7"/>
<rect x="528" y="259" fill="#00ffcb"/>
<rect x="536" y="259" fill="#00ffa2"/>
<rect x="544" y="259" fill="#00ff7e"/>
<rect x="552" y="259" fill="#00ff60"/>
<rect x="560" y="259" fill="#00ff46"/>
<rect x="568" y="259" fill="#00ff30"/>
<rect x="576" y="259" fill="#00ff1d"/>
<rect x="584" y="259" fill="#00ff0f"/>
<rect x="592" y="259" fill="#00ff02"/>
<rect x="600" y="259" fill="#07ff00"/>
<rect x="608" y="259" fill="#0fff00"/>
<rect x="616" y="259" fill="#15ff00"/>
<rect x="624" y="259" fill="#19ff00"/>
<rect x="632" y="259" fill="#1cff00"/>
<rect x="640" y="259" fill="#1eff00"/>
<rect x="648" y="259" fill="#1fff00"/>
<rect x="656" y="259" fill="#1eff00"/>
<rect x="664" y="259" fill="#1dff00"/>
<rect x="672" y="259" fill="#1bff00"/>
<rect x="680" y="259" fill="#17ff00"/>
<rect x="688" y="259" fill="#17ff00"/>
<rect x="520" y="267" fill="#00ffc6"/>
<rect x="528" y="267" fill="#00ffbb"/>
<rect x="536" y="267" fill="#00ff93"/>
<rect x="544" y="267" fill="#00ff70"/>
<rect x="552" y="267" fill="#00ff53"/>
<rect x="560" y="267" fill="#00ff3a"/>
<rect x="568" y="267" fill="#00ff25"/>
<rect x="576" y="267" fill="#00ff14"/>
<rect x="584" y="267" fill="#00ff05"/>
<rect x="592" y="267" fill="#06ff00"/>
<rect x="600" y="267" fill="#0fff00"/>
<rect x="608" y="267" fill="#16ff00"/>
<rect x="616" y="267" fill="#1bff00"/>
<rect x="624" y="267" fill="#1fff00"/>
<rect x="632" y="267" fill="#22ff00"/>
<rect x="640" y="267" fill="#23ff00"/>
<rect x="648" y="267" fill="#24ff00"/>
<rect x="656" y="267" fill="#24ff00"/>
<rect x="664" y="267" fill="#23ff00"/>
<rect x="672" y="267" fill="#20ff00"/>
<rect x="680" y="267" fill="#1eff00"/>
<rect x="688" y="267" fill="#1eff00"/>
<rect x="520" y="275" fill="#00ffb7"/>
<rect x="528" y="275" fill="#00ffac"/>
<rect x="536" y="275" fill="#00ff85"/>
<rect x="544" y="275" fill="#00ff64"/>
<rect x="552" y="275" fill="#00ff47"/>
<rect x="560" y="275" fill="#00ff2f"/>
<rect x="568" y="275" fill="#00ff1b"/>
<rect x="576" y="275" fill="#00ff0b"/>
<rect x="584" y="275" fill="#02ff00"/>
<rect x="592" y="275" fill="#0dff00"/>
<rect x="600" y="275" fill="#15ff00"/>
<rect x="608" y="275" fill="#1cff00"/>
<rect x="616" y="275" fill="#20ff00"/>
<rect x="624" y="275" fill="#24ff00"/>
<rect x="632" y="275" fill="#26ff00"/>
<rect x="640" y="275" fill="#28ff00"/>
<rect x="648" y="275" fill="#28ff00"/>
<rect x="656" y="275" fill="#28ff00"/>
<rect x="664" y="275" fill="#27ff00"/>
<rect x="672" y="275" fill="#25ff00"/>
<rect x="680" y="275" fill="#23ff00"/>
<rect x="688" y="275" fill="#23ff00"/>
<rect x="520" y="283" fill="#00ffaa"/>
<rect x="528" y="283" fill="#00ff9f"/>
<rect x="536" y="283" fill="#00ff79"/>
<rect x="544" y="283" fill="#00ff59"/>
<rect x="552" y="283" fill="#00ff3d"/>
<rect x="560" y="283" fill="#00ff26"/>
<rect x="568" y="283" fill="#00ff13"/>
<rect x="576" y="283" fill="#00ff04"/>
<rect x="584" y="283" fill="#09ff00"/>
<rect x="592" y="283" fill="#13ff00"/>
<rect x="600" y="283" fill="#1bff00"/>
<rect x="608" y="283" fill="#20ff00"/>
<rect x="616" y="283" fill="#25ff00"/>
<rect x="624" y="283" fill="#28ff00"/>
<rect x="632" y="283" fill="#2aff00"/>
<rect x="640" y="283" fill="#2bff00"/>
<rect x="648" y="283" fill="#2bff00"/>
<rect x="656" y="283" fill="#2bff00"/>
<rect x="664" y="283" fill="#2aff00"/>
<rect x="672" y="283" fill="#29ff00"/>
<rect x="680" y="283" fill="#27ff00"/>
<rect x="688" y="283" fill="#27ff00"/>
<rect x="520" y="291" fill="#00ff9e"/>
<rect x="528" y="291" fill="#00ff94"/>
<rect x="536" y="291" fill="#00ff6f"/>
<rect x="544" y="291" fill="#00ff4f"/>
<rect x="552" y="291" fill="#00ff35"/>
<rect x="560" y="291" fill="#00ff1e"/>
<rect x="568" y="291" fill="#00ff0c"/>
<rect x="576" y="291" fill="#03ff00"/>
<rect x="584" y="291" fill="#0fff00"/>
<rect x="592" y="291" fill="#18ff00"/>
<rect x="600" y="291" fill="#1fff00"/>
<rect x="608" y="291" fill="#24ff00"/>
<rect x="616" y="291" fill="#28ff00"/>
<rect x="624" y="291" fill="#2bff00"/>
<rect x="632" y="291" fill="#2dff00"/>
<rect x="640" y="291" fill="#2eff00"/>
<rect x="648" y="291" fill="#2eff00"/>
<rect x="656" y="291" fill="#2eff00"/>
<rect x="664" y="291" fill="#2dff00"/>
<rect x="672" y="291" fill="#2cff00"/>
<rect x="680" y="291" fill="#2aff00"/>
<rect x="688" y="291" fill="#2aff00"/>
<rect x="520" y="299" fill="#00ff94"/>
<rect x="528" y="299" fill="#00ff8a"/>
<rect x="536" y="299" fill="#00ff66"/>
<rect x="544" y="299" fill="#00ff47"/>
<rect x="552" y="299" fill="#00ff2d"/>
<rect x="560" y="299" fill="#00ff18"/>
<rect x="568" y="299" fill="#00ff06"/>
<rect x="576" y="299" fill="#08ff00"/>
<rect x="584" y="299" fill="#13ff00"/>
<rect x="592" y="299" fill="#1cff00"/>
<rect x="600" y="299" fill="#22ff00"/>
<rect x="608" y="299" fill="#27ff00"/>
<rect x="616" y="299" fill="#2bff00"/>
<rect x="624" y="299" fill="#2dff00"/>
<rect x="632" y="299" fill="#2fff00"/>
<rect x="640" y="299" fill="#2fff00"/>
<rect x="648" y="299" fill="#30ff00"/>
<rect x="656" y="299" fill="#30ff00"/>
<rect x="664" y="299" fill="#2fff00"/>
<rect x="672" y="299" fill="#2eff00"/>
<rect x="680" y="299" fill="#2cff00"/>
<rect x="688" y="299" fill="#2cff00"/>
<rect x="520" y="307" fill="#00ff8c"/>
<rect x="528" y="307" fill="#00ff82"/>
<rect x="536" y="307" fill="#00ff5e"/>
<rect x="544" y="307" fill="#00ff40"/>
<rect x="552" y="307" fill="#00ff27"/>
<rect x="560" y="307" fill="#00ff12"/>
<rect x="568" y="307" fill="#00ff01"/>
<rect x="576" y="307" fill="#0cff00"/>
<rect x="584" y="307" fill="#17ff00"/>
<rect x="592" y="307" fill="#1fff00"/>
<rect x="600" y="307" fill="#25ff00"/>
<rect x="608" y="307" fill="#2aff00"/>
<rect x="616" y="307" fill="#2dff00"/>
<rect x="624" y="307" fill="#2fff00"/>
<rect x="632" y="307" fill="#30ff00"/>
<rect x="640" y="307" fill="#31ff00"/>
<rect x="648" y="307" fill="#31ff00"/>
<rect x="656" y="307" fill="#31ff00"/>
<rect x="664" y="307" fill="#31ff00"/>
<rect x="672" y="307" fill="#30ff00"/>
<rect x="680" y="307" fill="#2eff00"/>
<rect x="688" y="307" fill="#2eff00"/>
<rect x="520" y="315" fill="#00ff85"/>
<rect x="528" y="315" fill="#00ff7b"/>
<rect x="536" y="315" fill="#00ff58"/>
<rect x="544" y="315" fill="#00ff3b"/>
<rect x="552" y="315" fill="#00ff22"/>
<rect x="560" y="315" fill="#00ff0e"/>
<rect x="568" y="315" fill="#03ff00"/>
<rect x="576" y="315" fill="#10ff00"/>
<rect x="584" y="315" fill="#1aff00"/>
<rect x="592" y="315" fill="#22ff00"/>
<rect x="600" y="315" fill="#27ff00"/>
<rect x="608" y="315" fill="#2cff00"/>
<rect x="616" y="315" fill="#2eff00"/>
<rect x="624" y="315" fill="#30ff00"/>
<rect x="632" y="315" fill="#31ff00"/>
<rect x="640" y="315" fill="#32ff00"/>
<rect x="648" y="315" fill="#32ff00"/>
<rect x="656" y="315" fill="#32ff00"/>
<rect x="664" y="315" fill="#32ff00"/>
<rect x="672" y="315" fill="#31ff00"/>
<rect x="680" y="315" fill="#30ff00"/>
<rect x="688" y="315" fill="#30ff00"/>
<rect x="520" y="323" fill="#00ff7f"/>
<rect x="528" y="323" fill="#00ff76"/>
<rect x="536" y="323" fill="#00ff53"/>
<rect x="544" y="323" fill="#00ff36"/>
<rect x="552" y="323" fill="#00ff1e"/>
<rect x="560" y="323" fill="#00ff0a"/>
<rect x="568" y="323" fill="#06ff00"/>
<rect x="576" y="323" fill="#13ff00"/>
<rect x="584" y="323" fill="#1cff00"/>
<rect x="592" y="323" fill="#24ff00"/>
<rect x="600" y="323" fill="#29ff00"/>
<rect x="608" y="323" fill="#2dff00"/>
<rect x="616" y="323" fill="#2fff00"/>
<rect x="624" y="323" fill="#31ff00"/>
<rect x="632" y="323" fill="#32ff00"/>
<rect x="640" y="323" fill="#32ff00"/>
<rect x="648" y="323" fill="#33ff00"/>
<rect x="656" y="323" fill="#32ff00"/>
<rect x="664" y="323" fill="#32ff00"/>
<rect x="672" y="323" fill="#32ff00"/>
<rect x="680" y="323" fill="#30ff00"/>
<rect x="688" y="323" fill="#30ff00"/>
<rect x="520" y="331" fill="#00ff7b"/>
<rect x="528" y="331" fill="#00ff71"/>
<rect x="536" y="331" fill="#00ff4f"/>
<rect x="544" y="331" fill="#00ff33"/>
<rect x="552" y="331" fill="#00ff1b"/>
<rect x="560" y="331" fill="#00ff07"/>
<rect x="568" y="331" fill="#08ff00"/>
<rect x="576" y="331" fill="#15ff00"/>
<rect x="584" y="331" fill="#1eff00"/>
<rect x="592" y="331" fill="#25ff00"/>
<rect x="600" y="331" fill="#2aff00"/>
<rect x="608" y="331" fill="#2eff00"/>
<rect x="616" y="331" fill="#30ff00"/>
<rect x="624" y="331" fill="#32ff00"/>
<rect x="632" y="331" fill="#32ff00"/>
<rect x="640" y="331" fill="#33ff00"/>
<rect x="648" y="331" fill="#33ff00"/>
<rect x="656" y="331" fill="#33ff00"/>
<rect x="664" y="331" fill="#33ff00"/>
<rect x="672" y="331" fill="#32ff00"/>
<rect x="680" y="331" fill="#31ff00"/>
<rect x="688" y="331" fill="#31ff00"/>
<rect x="520" y="339" fill="#00ff77"/>
<rect x="528" y="339" fill="#00ff6e"/>
<rect x="536" y="339" fill="#00ff4c"/>
<rect x="544" y="339" fill="#00ff30"/>
<rect x="552" y="339" fill="#00ff19"/>
<rect x="560" y="339" fill="#00ff05"/>
<rect x="568" y="339" fill="#0aff00"/>
<rect x="576" y="339" fill="#16ff00"/>
<rect x="584" y="339" fill="#1fff00"/>
<rect x="592" y="339" fill="#26ff00"/>
<rect x="600" y="339" fill="#2bff00"/>
<rect x="608" y="339" fill="#2fff00"/>
<rect x="616" y="339" fill="#31ff00"/>
<rect x="624" y="339" fill="#32ff00"/>
<rect x="632" y="339" fill="#33ff00"/>
<rect x="640" y="339" fill="#33ff00"/>
<rect x="648" y="339" fill="#33ff00"/>
<rect x="656" y="339" fill="#33ff00"/>
<rect x="664" y="339" fill="#33ff00"/>
<rect x="672" y="339" fill="#32ff00"/>
<rect x="680" y="339" fill="#32ff00"/>
<rect x="688" y="339" fill="#32ff00"/>
<rect x="520" y="347" fill="#00ff76"/>
<rect x="528" y="347" fill="#00ff6c"/>
<rect x="536" y="347" fill="#00ff4b"/>
<rect x="544" y="347" fill="#00ff2f"/>
<rect x="552" y="347" fill="#00ff17"/>
<rect x="560" y="347" fill="#00ff04"/>
<rect x="568" y="347" fill="#0bff00"/>
<rect x="576" y="347" fill="#17ff00"/>
<rect x="584" y="347" fill="#20ff00"/>
<rect x="592" y="347" fill="#27ff00"/>
<rect x="600" y="347" fill="#2cff00"/>
<rect x="608" y="347" fill="#2fff00"/>
<rect x="616" y="347" fill="#31ff00"/>
<rect x="624" y="347" fill="#32ff00"/>
<rect x="632" y="347" fill="#33ff00"/>
<rect x="640" y="347" fill="#33ff00"/>
<rect x="648" y="347" fill="#33ff00"/>
<rect x="656" y="347" fill="#33ff00"/>
<rect x="664" y="347" fill="#33ff00"/>
<rect x="672" y="347" fill="#33ff00"/>
<rect x="680" y="347" fill="#32ff00"/>
<rect x="688" y="347" fill="#32ff00"/>
<rect x="520" y="355" fill="#00ff75"/>
<rect x="528" y="355" fill="#00ff6c"/>
<rect x="536" y="355" fill="#00ff4a"/>
<rect x="544" y="355" fill="#00ff2e"/>
<rect x="552" y="355" fill="#00ff17"/>
<rect x="560" y="355" fill="#00ff04"/>
<rect x="568" y="355" fill="#0bff00"/>
<rect x="576" y="355" fill="#17ff00"/>
<rect x="584" y="355" fill="#20ff00"/>
<rect x="592" y="355" fill="#27ff00"/>
<rect x="600" y="355" fill="#2cff00"/>
<rect x="608" y="355" fill="#2fff00"/>
<rect x="616" y="355" fill="#31ff00"/>
<rect x="624" y="355" fill="#32ff00"/>
<rect x="632" y="355" fill="#33ff00"/>
<rect x="640" y="355" fill="#33ff00"/>
<rect x="648" y="355" fill="#33ff00"/>
<rect x="656" y="355" fill="#33ff00"/>
<rect x="664" y="355" fill="#33ff00"/>
<rect x="672" y="355" fill="#33ff00"/>
<rect x="680" y="355" fill="#32ff00"/>
<rect x="688" y="355" fill="#32ff00"/>
<rect x="520" y="363" fill="#00ff75"/>
<rect x="528" y="363" fill="#00ff6c"/>
<rect x="536" y="363" fill="#00ff4b"/>
<rect x="544" y="363" fill="#00ff2e"/>
<rect x="552" y="363" fill="#00ff17"/>
<rect x="560" y="363" fill="#00ff04"/>
<rect x="568" y="363" fill="#0bff00"/>
<rect x="576" y="363" fill="#17ff00"/>
<rect x="584" y="363" fill="#20ff00"/>
<rect x="592" y="363" fill="#27ff00"/>
<rect x="600" y="363" fill="#2cff00"/>
<rect x="608" y="363" fill="#2fff00"/>
<rect x="616" y="363" fill="#31ff00"/>
<rect x="624" y="363" fill="#32ff00"/>
<rect x="632" y="363" fill="#33ff00"/>
<rect x="640" y="363" fill="#33ff00"/>
<rect x="648" y="363" fill="#33ff00"/>
<rect x="656" y="363" fill="#33ff00"/>
<rect x="664" y="363" fill="#33ff00"/>
<rect x="672" y="363" fill="#33ff00"/>
<rect x="680" y="363" fill="#32ff00"/>
<rect x="688" y="363" fill="#32ff00"/>
<rect x="520" y="371" fill="#00ff77"/>
<rect x="528" y="371" fill="#00ff6e"/>
<rect x="536" y="371" fill="#00ff4c"/>
<rect x="544" y="371" fill="#00ff30"/>
<rect x="552" y="371" fill="#00ff18"/>
<rect x="560" y="371" fill="#00ff05"/>
<rect x="568" y="371" fill="#0aff00"/>
<rect x="576" y="371" fill="#16ff00"/>
<rect x="584" y="371" fill="#20ff00"/>
<rect x="592" y="371" fill="#26ff00"/>
<rect x="600" y="371" fill="#2bff00"/>
<rect x="608" y="371" fill="#2fff00"/>
<rect x="616" y="371" fill="#31ff00"/>
<rect x="624" y="371" fill="#32ff00"/>
<rect x="632" y="371" fill="#33ff00"/>
<rect x="640" y="371" fill="#33ff00"/>
<rect x="648" y="371" fill="#33ff00"/>
<rect x="656" y="371" fill="#33ff00"/>
<rect x="664" y="371" fill="#33ff00"/>
<rect x="672" y="371" fill="#32ff00"/>
<rect x="680" y="371" fill="#32ff00"/>
<rect x="688" y="371" fill="#32ff00"/>
<rect x="520" y="379" fill="#00ff7a"/>
<rect x="528" y="379" fill="#00ff71"/>
<rect x="536" y="379" fill="#00ff4f"/>
<rect x="544" y="379" fill="#00ff32"/>
<rect x="552" y="379" fill="#00ff1a"/>
<rect x="560" y="379" fill="#00ff07"/>
<rect x="568" y="379" fill="#09ff00"/>
<rect x="576" y="379" fill="#15ff00"/>
<rect x="584" y="379" fill="#1eff00"/>
<rect x="592" y="379" fill="#26ff00"/>
<rect x="600" y="379" fill="#2bff00"/>
<rect x="608" y="379" fill="#2eff00"/>
<rect x="616" y="379" fill="#30ff00"/>
<rect x="624" y="379" fill="#32ff00"/>
<rect x="632" y="379" fill="#32ff00"/>
<rect x="640" y="379" fill="#33ff00"/>
<rect x="648" y="379" fill="#33ff00"/>
<rect x="656" y="379" fill="#33ff00"/>
<rect x="664" y="379" fill="#33ff00"/>
<rect x="672" y="379" fill="#32ff00"/>
<rect x="680" y="379" fill="#31ff00"/>
<rect x="688" y="379" fill="#31ff00"/>
<rect x="520" y="387" fill="#00ff7e"/>
<rect x="528" y="387" fill="#00ff75"/>
<rect x="536" y="387" fill="#00ff52"/>
<rect x="544" y="387" fill="#00ff35"/>
<rect x="552" y="387" fill="#00ff1d"/>
<rect x="560" y="387" fill="#00ff0a"/>
<rect x="568" y="387" fill="#06ff00"/>
<rect x="576" y="387" fill="#13ff00"/>
<rect x="584" y="387" fill="#1dff00"/>
<rect x="592" y="387" fill="#24ff00"/>
<rect x="600" y="387" fill="#29ff00"/>
<rect x="608" y="387" fill="#2dff00"/>
<rect x="616" y="387" fill="#30ff00"/>
<rect x="624" y="387" fill="#31ff00"/>
<rect x="632" y="387" fill="#32ff00"/>
<rect x="640" y="387" fill="#32ff00"/>
<rect x="648" y="387" fill="#33ff00"/>
<rect x="656" y="387" fill="#33ff00"/>
<rect x="664" y="387" fill="#32ff00"/>
<rect x="672" y="387" fill="#32ff00"/>
<rect x="680" y="387" fill="#31ff00"/>
<rect x="688" y="387" fill="#31ff00"/>
<rect x="520" y="395" fill="#00ff84"/>
<rect x="528" y="395" fill="#00ff7a"/>
<rect x="536" y="395" fill="#00ff57"/>
<rect x="544" y="395" fill="#00ff3a"/>
<rect x="552" y="395" fill="#00ff21"/>
<rect x="560" y="395" fill="#00ff0d"/>
<rect x="568" y="395" fill="#03ff00"/>
<rect x="576" y="395" fill="#10ff00"/>
<rect x="584" y="395" fill="#1aff00"/>
<rect x="592" y="395" fill="#22ff00"/>
<rect x="600" y="395" fill="#28ff00"/>
<rect x="608" y="395" fill="#2cff00"/>
<rect x="616" y="395" fill="#2fff00"/>
<rect x="624" y="395" fill="#30ff00"/>
<rect x="632" y="395" fill="#31ff00"/>
<rect x="640" y="395" fill="#32ff00"/>
<rect x="648" y="395" fill="#32ff00"/>
<rect x="656" y="395" fill="#32ff00"/>
<rect x="664" y="395" fill="#32ff00"/>
<rect x="672" y="395" fill="#31ff00"/>
<rect x="680" y="395" fill="#30ff00"/>
<rect x="688" y="395" fill="#30ff00"/>
<rect x="520" y="403" fill="#00ff88"/>
<rect x="528" y="403" fill="#00ff7f"/>
<rect x="536" y="403" fill="#00ff5b"/>
<rect x="544" y="403" fill="#00ff3e"/>
<rect x="552" y="403" fill="#00ff25"/>
<rect x="560" y="403" fill="#00ff10"/>
<rect x="568" y="403" fill="#01ff00"/>
<rect x="576" y="403" fill="#0eff00"/>
<rect x="584" y="403" fill="#18ff00"/>
<rect x="592" y="403" fill="#20ff00"/>
<rect x="600" y="403" fill="#26ff00"/>
<rect x="608" y="403" fill="#2bff00"/>
<rect x="616" y="403" fill="#2eff00"/>
<rect x="624" y="403" fill="#2fff00"/>
<rect x="632" y="403" fill="#31ff00"/>
<rect x="640" y="403" fill="#31ff00"/>
<rect x="648" y="403" fill="#32ff00"/>
<rect x="656" y="403" fill="#31ff00"/>
<rect x="664" y="403" fill="#31ff00"/>
<rect x="672" y="403" fill="#30ff00"/>
<rect x="680" y="403" fill="#2fff00"/>
<rect x="688" y="403" fill="#2fff00"/>
<rect x="520" y="411" fill="#00ff88"/>
<rect x="528" y="411" fill="#00ff7f"/>
<rect x="536" y="411" fill="#00ff5b"/>
<rect x="544" y="411" fill="#00ff3e"/>
<rect x="552" y="411" fill="#00ff25"/>
<rect x="560" y="411" fill="#00ff10"/>
<rect x="568" y="411" fill="#01ff00"/>
<rect x="576" y="411" fill="#0eff00"/>
<rect x="584" y="411" fill="#18ff00"/>
<rect x="592" y="411" fill="#20ff00"/>
<rect x="600" y="411" fill="#26ff00"/>
<rect x="608" y="411" fill="#2bff00"/>
<rect x="616" y="411" fill="#2eff00"/>
<rect x="624" y="411" fill="#2fff00"/>
<rect x="632" y="411" fill="#31ff00"/>
<rect x="640" y="411" fill="#31ff00"/>
<rect x="648" y="411" fill="#32ff00"/>
<rect x="656" y="411" fill="#31ff00"/>
<rect x="664" y="411" fill="#31ff00"/>
<rect x="672" y="411" fill="#30ff00"/>
<rect x="680" y="411" fill="#2fff00"/>
<rect x="688" y="411" fill="#2fff00"/>
</g></g>
<g clip-path="url(#cp6)" fill="none" stroke="#101010" stroke-width="0.6">
<path d="M565.4,243.5 C565.3,243.8 565.6,243.4 564.6,245.2 C563.6,247.0 561.0,251.0 559.1,254.3 C557.2,257.7 555.0,261.2 553.0,265.3 C551.0,269.4 548.6,274.5 546.8,278.8 C544.9,283.1 543.3,286.9 541.9,291.0 C540.5,295.1 539.3,299.6 538.3,303.3 C537.3,307.0 536.7,309.9 536.0,313.0 C535.3,316.1 534.9,318.4 534.3,322.0 C533.6,325.6 532.7,329.2 532.1,334.3 C531.5,339.4 530.9,346.6 530.7,352.7 C530.5,358.8 530.6,364.9 530.7,371.0 C530.8,377.1 531.0,383.7 531.5,389.4 C532.0,395.1 533.0,402.1 533.4,405.0 C533.8,407.9 533.6,406.7 533.6,407.0"/>
<path d="M619.0,243.0 C618.6,243.4 618.3,243.9 616.8,245.2 C615.3,246.5 612.7,248.2 610.0,250.8 C607.3,253.4 603.7,257.1 600.6,260.6 C597.5,264.1 594.4,268.0 591.6,271.8 C588.8,275.6 586.1,279.5 583.8,283.5 C581.4,287.5 579.4,292.0 577.5,296.0 C575.6,300.0 574.0,303.7 572.5,307.5 C571.0,311.3 569.5,314.1 568.3,319.0 C567.1,323.9 566.1,331.1 565.2,336.7 C564.3,342.3 563.4,348.0 563.0,352.7 C562.6,357.4 562.6,359.8 562.8,364.9 C563.0,370.0 563.3,376.6 564.0,383.3 C564.7,390.0 566.5,401.1 567.1,405.0 C567.7,408.9 567.4,406.7 567.4,407.0"/>
<ellipse cx="653.6" cy="359.9" rx="35.1" ry="49.9" transform="rotate(4 653.6 359.9)"/>
</g>
<rect x="533.7" y="310.6" width="5" height="2.6" fill="#f4f4f4" stroke="#555" stroke-width="0.35"/>
<rect x="534.6" y="311.4" width="3.2" height="1" fill="#aaa"/>
<rect x="569.5" y="306.5" width="5" height="2.6" fill="#f4f4f4" stroke="#555" stroke-width="0.35"/>
<rect x="570.4" y="307.3" width="3.2" height="1" fill="#aaa"/>
<rect x="624.7" y="326.7" width="5" height="2.6" fill="#f4f4f4" stroke="#555" stroke-width="0.35"/>
<rect x="625.6" y="327.5" width="3.2" height="1" fill="#aaa"/>
<rect x="674.9" y="392.6" width="5" height="2.6" fill="#f4f4f4" stroke="#555" stroke-width="0.35"/>
<rect x="675.8" y="393.4" width="3.2" height="1" fill="#aaa"/>
<circle cx="606.3" cy="325" r="1.5" fill="#900000" stroke="#100" stroke-width="0.5"/>
<rect x="601.7" y="324.7" width="1.2" height="0.6" fill="#333"/>
<rect x="529.5" y="245.2" width="153.5" height="159.8" fill="none" stroke="#333" stroke-width="0.7"/>
<line x1="529.5" y1="405" x2="529.5" y2="408.4" stroke="#555" stroke-width="0.55" />
<text x="529.5" y="413.3" font-size="3.3" fill="#222" stroke="#222" stroke-width="0.12" text-anchor="middle" >35</text>
<line x1="560.2" y1="405" x2="560.2" y2="408.4" stroke="#555" stroke-width="0.55" />
<text x="560.2" y="413.3" font-size="3.3" fill="#222" stroke="#222" stroke-width="0.12" text-anchor="middle" >37</text>
<line x1="590.9" y1="405" x2="590.9" y2="408.4" stroke="#555" stroke-width="0.55" />
<text x="590.9" y="413.3" font-size="3.3" fill="#222" stroke="#222" stroke-width="0.12" text-anchor="middle" >39</text>
<line x1="621.6" y1="405" x2="621.6" y2="408.4" stroke="#555" stroke-width="0.55" />
<text x="621.6" y="413.3" font-size="3.3" fill="#222" stroke="#222" stroke-width="0.12" text-anchor="middle" >41</text>
<line x1="652.3" y1="405" x2="652.3" y2="408.4" stroke="#555" stroke-width="0.55" />
<text x="652.3" y="413.3" font-size="3.3" fill="#222" stroke="#222" stroke-width="0.12" text-anchor="middle" >43</text>
<line x1="683" y1="405" x2="683" y2="408.4" stroke="#555" stroke-width="0.55" />
<text x="683" y="413.3" font-size="3.3" fill="#222" stroke="#222" stroke-width="0.12" text-anchor="middle" >45</text>
<line x1="526.1" y1="245.2" x2="529.5" y2="245.2" stroke="#444" stroke-width="0.5" />
<text x="524.9" y="246.4" font-size="3.3" fill="#222" stroke="#222" stroke-width="0.12" text-anchor="end" >33</text>
<line x1="526.1" y1="271.8" x2="529.5" y2="271.8" stroke="#444" stroke-width="0.5" />
<text x="524.9" y="273" font-size="3.3" fill="#222" stroke="#222" stroke-width="0.12" text-anchor="end" >32</text>
<line x1="526.1" y1="298.5" x2="529.5" y2="298.5" stroke="#444" stroke-width="0.5" />
<text x="524.9" y="299.7" font-size="3.3" fill="#222" stroke="#222" stroke-width="0.12" text-anchor="end" >31</text>
<line x1="526.1" y1="325.1" x2="529.5" y2="325.1" stroke="#444" stroke-width="0.5" />
<text x="524.9" y="326.3" font-size="3.3" fill="#222" stroke="#222" stroke-width="0.12" text-anchor="end" >30</text>
<line x1="526.1" y1="351.7" x2="529.5" y2="351.7" stroke="#444" stroke-width="0.5" />
<text x="524.9" y="352.9" font-size="3.3" fill="#222" stroke="#222" stroke-width="0.12" text-anchor="end" >29</text>
<line x1="526.1" y1="378.4" x2="529.5" y2="378.4" stroke="#444" stroke-width="0.5" />
<text x="524.9" y="379.6" font-size="3.3" fill="#222" stroke="#222" stroke-width="0.12" text-anchor="end" >28</text>
<line x1="526.1" y1="405" x2="529.5" y2="405" stroke="#444" stroke-width="0.5" />
<text x="524.9" y="406.2" font-size="3.3" fill="#222" stroke="#222" stroke-width="0.12" text-anchor="end" >27</text>
<text x="606.2" y="242.6" font-size="5.0" fill="#111" stroke="#111" stroke-width="0.18" text-anchor="middle" font-weight="bold" textLength="18.9" lengthAdjust="spacingAndGlyphs" >TF (num)</text>
<text x="606.2" y="425.6" font-size="4.3" fill="#111" stroke="#111" stroke-width="0.15" text-anchor="middle" textLength="17" lengthAdjust="spacingAndGlyphs" >B: MP (%)</text>
<text x="504.8" y="324.5" font-size="4.3" fill="#111" stroke="#111" stroke-width="0.15" text-anchor="middle" textLength="24.7" lengthAdjust="spacingAndGlyphs"  transform="rotate(-90 504.8 324.5)">C: Temp (0 C)</text>
<line x1="63.3" y1="65.6" x2="65.9" y2="136.5" stroke="#bdbdbd" stroke-width="0.9"/>
<line x1="75.2" y1="62.9" x2="77.3" y2="132.9" stroke="#bdbdbd" stroke-width="0.9"/>
<line x1="87" y1="60.2" x2="88.7" y2="129.4" stroke="#bdbdbd" stroke-width="0.9"/>
<line x1="98.8" y1="57.5" x2="100.1" y2="125.8" stroke="#bdbdbd" stroke-width="0.9"/>
<line x1="110.7" y1="54.9" x2="111.5" y2="122.2" stroke="#bdbdbd" stroke-width="0.9"/>
<line x1="122.6" y1="52.2" x2="122.9" y2="118.7" stroke="#bdbdbd" stroke-width="0.9"/>
<line x1="134.4" y1="49.5" x2="134.3" y2="115.1" stroke="#bdbdbd" stroke-width="0.9"/>
<line x1="63.3" y1="65.6" x2="134.4" y2="49.5" stroke="#7a7a7a" stroke-width="0.5"/>
<line x1="63.8" y1="79.8" x2="134.4" y2="62.6" stroke="#7a7a7a" stroke-width="0.5"/>
<line x1="64.3" y1="94" x2="134.4" y2="75.7" stroke="#7a7a7a" stroke-width="0.5"/>
<line x1="64.9" y1="108.1" x2="134.3" y2="88.9" stroke="#7a7a7a" stroke-width="0.5"/>
<line x1="65.4" y1="122.3" x2="134.3" y2="102" stroke="#7a7a7a" stroke-width="0.5"/>
<line x1="65.9" y1="136.5" x2="134.3" y2="115.1" stroke="#7a7a7a" stroke-width="0.5"/>
<line x1="134.4" y1="49.5" x2="134.3" y2="115.1" stroke="#bdbdbd" stroke-width="0.9"/>
<line x1="148.6" y1="52.7" x2="148.2" y2="119.3" stroke="#bdbdbd" stroke-width="0.9"/>
<line x1="162.9" y1="55.9" x2="162" y2="123.4" stroke="#bdbdbd" stroke-width="0.9"/>
<line x1="177.1" y1="59.1" x2="175.9" y2="127.6" stroke="#bdbdbd" stroke-width="0.9"/>
<line x1="191.4" y1="62.3" x2="189.7" y2="131.7" stroke="#bdbdbd" stroke-width="0.9"/>
<line x1="205.6" y1="65.5" x2="203.6" y2="135.9" stroke="#bdbdbd" stroke-width="0.9"/>
<line x1="134.4" y1="49.5" x2="205.6" y2="65.5" stroke="#7a7a7a" stroke-width="0.5"/>
<line x1="134.4" y1="62.6" x2="205.2" y2="79.6" stroke="#7a7a7a" stroke-width="0.5"/>
<line x1="134.4" y1="75.7" x2="204.8" y2="93.7" stroke="#7a7a7a" stroke-width="0.5"/>
<line x1="134.3" y1="88.9" x2="204.4" y2="107.7" stroke="#7a7a7a" stroke-width="0.5"/>
<line x1="134.3" y1="102" x2="204" y2="121.8" stroke="#7a7a7a" stroke-width="0.5"/>
<line x1="134.3" y1="115.1" x2="203.6" y2="135.9" stroke="#7a7a7a" stroke-width="0.5"/>
<line x1="63.3" y1="65.6" x2="134.4" y2="49.5" stroke="#808080" stroke-width="0.5"/>
<line x1="134.4" y1="49.5" x2="205.6" y2="65.5" stroke="#808080" stroke-width="0.5"/>
<line x1="63.3" y1="65.6" x2="67.6" y2="159.2" stroke="#707070" stroke-width="0.6"/>
<line x1="134.4" y1="49.5" x2="134.4" y2="133.8" stroke="#b4b4b4" stroke-width="0.8"/>
<line x1="205.6" y1="65.5" x2="201.3" y2="158.9" stroke="#b4b4b4" stroke-width="0.8"/>
<circle cx="63.3" cy="65.6" r="0.6" fill="#111"/>
<text x="61.7" y="66.6" font-size="2.9" fill="#666" text-anchor="end" >1.5</text>
<circle cx="63.8" cy="79.8" r="0.6" fill="#111"/>
<text x="62.2" y="80.8" font-size="2.9" fill="#666" text-anchor="end" >1.4</text>
<circle cx="64.3" cy="94" r="0.6" fill="#111"/>
<text x="62.7" y="95" font-size="2.9" fill="#666" text-anchor="end" >1.3</text>
<circle cx="64.9" cy="108.1" r="0.6" fill="#111"/>
<text x="63.3" y="109.2" font-size="2.9" fill="#666" text-anchor="end" >1.2</text>
<circle cx="65.4" cy="122.3" r="0.6" fill="#111"/>
<text x="63.8" y="123.4" font-size="2.9" fill="#666" text-anchor="end" >1.1</text>
<circle cx="65.9" cy="136.5" r="0.6" fill="#111"/>
<text x="64.3" y="137.5" font-size="2.9" fill="#666" text-anchor="end" >1</text>
<polygon points="67.6,159.2 134.4,133.8 201.3,158.9 133.9,191.5" fill="#6b6b6b" stroke="#555" stroke-width="0.4"/>
<clipPath id="fl1"><polygon points="67.6,159.2 134.4,133.8 201.3,158.9 133.9,191.5"/></clipPath>
<g clip-path="url(#fl1)">
<path d="M76.4,155.8 C78.5,156.8 85.5,159.5 89.2,161.7 C92.9,163.8 96.0,166.6 98.5,168.7 C101.0,170.8 102.9,172.9 104.4,174.5 C105.9,176.1 106.8,177.4 107.3,178.0" fill="none" stroke="#c8c820" stroke-width="1"/>
<path d="M91.5,150.6 C93.7,151.3 100.9,152.8 104.4,154.7 C107.9,156.5 110.5,159.0 112.6,161.7 C114.7,164.4 116.0,167.9 117.2,171.0 C118.4,174.1 119.1,178.2 119.6,180.4 C120.1,182.7 120.0,183.8 120.1,184.5" fill="none" stroke="#a8d028" stroke-width="1"/>
<path d="M130.3,188.7 C130.4,186.4 130.3,179.0 130.8,174.7 C131.3,170.4 131.8,166.0 133.2,163.0 C134.6,160.0 136.5,158.2 139.0,156.6 C141.5,154.9 143.9,154.0 148.4,153.1 C152.9,152.2 160.7,151.7 165.9,151.4 C171.2,151.1 177.6,151.4 179.9,151.4" fill="none" stroke="#70c828" stroke-width="1"/>
<path d="M139.0,188.7 C139.6,186.4 140.6,178.6 142.5,174.7 C144.4,170.8 147.8,167.7 150.7,165.4 C153.6,163.1 156.1,162.1 160.0,160.7 C163.9,159.3 168.8,158.1 174.0,157.2 C179.2,156.3 188.2,155.7 191.0,155.4" fill="none" stroke="#40b840" stroke-width="1"/>
<path d="M151.3,182.9 C152.8,181.2 156.6,175.3 160.0,172.4 C163.4,169.5 167.4,167.2 171.7,165.4 C176.0,163.6 181.0,162.4 185.7,161.3 C190.4,160.2 197.4,159.1 199.7,158.6" fill="none" stroke="#30b088" stroke-width="1"/>
<path d="M128.5,136.2 C129.5,137.0 132.0,139.6 134.3,140.8 C136.6,142.0 139.2,142.5 142.5,143.2 C145.8,143.9 150.3,144.5 154.2,144.9 C158.1,145.3 163.9,145.4 165.9,145.5" fill="none" stroke="#a0c828" stroke-width="1"/>
</g>
<circle cx="67.6" cy="159.2" r="0.55" fill="#111"/>
<text x="65.6" y="162.2" font-size="3.0" fill="#555" text-anchor="end" >45</text>
<circle cx="80.9" cy="165.7" r="0.55" fill="#111"/>
<text x="78.9" y="168.6" font-size="3.0" fill="#555" text-anchor="end" >43</text>
<circle cx="94.1" cy="172.1" r="0.55" fill="#111"/>
<text x="92.1" y="175.1" font-size="3.0" fill="#555" text-anchor="end" >41</text>
<circle cx="107.4" cy="178.6" r="0.55" fill="#111"/>
<text x="105.4" y="181.6" font-size="3.0" fill="#555" text-anchor="end" >39</text>
<circle cx="120.6" cy="185" r="0.55" fill="#111"/>
<text x="118.6" y="188" font-size="3.0" fill="#555" text-anchor="end" >37</text>
<circle cx="133.9" cy="191.5" r="0.55" fill="#111"/>
<text x="131.9" y="194.5" font-size="3.0" fill="#555" text-anchor="end" >35</text>
<circle cx="133.9" cy="191.5" r="0.55" fill="#111"/>
<text x="135.3" y="194.5" font-size="3.0" fill="#555" >0.27</text>
<circle cx="145.1" cy="186.1" r="0.55" fill="#111"/>
<text x="146.5" y="189" font-size="3.0" fill="#555" >0.28</text>
<circle cx="156.4" cy="180.6" r="0.55" fill="#111"/>
<text x="157.8" y="183.6" font-size="3.0" fill="#555" >0.29</text>
<circle cx="167.6" cy="175.2" r="0.55" fill="#111"/>
<text x="169" y="178.2" font-size="3.0" fill="#555" >0.3</text>
<circle cx="178.8" cy="169.8" r="0.55" fill="#111"/>
<text x="180.2" y="172.7" font-size="3.0" fill="#555" >0.31</text>
<circle cx="190.1" cy="164.3" r="0.55" fill="#111"/>
<text x="191.5" y="167.3" font-size="3.0" fill="#555" >0.32</text>
<circle cx="201.3" cy="158.9" r="0.55" fill="#111"/>
<text x="202.7" y="161.9" font-size="3.0" fill="#555" >0.33</text>
<text x="75.5" y="187.7" font-size="3.6" fill="#444" text-anchor="middle" textLength="13.4" lengthAdjust="spacingAndGlyphs" >B: MP (%)</text>
<text x="193.4" y="187.7" font-size="3.6" fill="#444" text-anchor="middle" textLength="18.5" lengthAdjust="spacingAndGlyphs" >A: FR (m/min)</text>
<text x="41.4" y="114" font-size="3.6" fill="#444" text-anchor="middle" textLength="12" lengthAdjust="spacingAndGlyphs"  transform="rotate(-90 41.4 114)">TF (num)</text>
<text x="145.8" y="24.9" font-size="5.6" fill="#333" text-anchor="middle" textLength="23.4" lengthAdjust="spacingAndGlyphs" >3D Surface</text>
<polygon points="134.5,133.3 137.9,133.4 141.3,133.5 144.8,133.5 148.2,133.3 151.6,133 155,132.5 158.5,131.9 161.9,131.3 165.3,130.5 168.8,129.7 172.2,128.7 175.6,127.7 179,126.5 182.4,125.1 185.9,123.5 189.3,121.7 192.7,119.8 196.2,117.8 199.6,115.6 203,113.3 203,113.3 199.6,110.8 196.1,108.2 192.7,105.5 189.2,102.9 185.8,100.3 182.4,97.7 178.9,95.4 175.5,93.1 172,91 168.6,89 165.2,87.2 161.7,85.6 158.3,84.2 154.8,83 151.4,81.9 148,81 144.5,80.4 141.1,80 137.6,79.7 134.2,79.4 134.2,79.4 130.8,81.1 127.3,82.6 123.9,83.7 120.5,84.8 117,85.8 113.6,86.9 110.2,87.9 106.8,89 103.3,90.1 99.9,91.2 96.5,92 93,92.7 89.6,93.2 86.2,93.5 82.8,93.7 79.3,93.7 75.9,93.7 72.5,93.6 69,93.4 65.6,93.1 65.6,93.1 69,94.3 72.5,95.5 75.9,96.7 79.4,98 82.8,99.4 86.3,100.8 89.7,102.3 93.2,103.8 96.6,105.5 100,107.4 103.5,109.4 106.9,111.7 110.4,114.5 113.8,117.9 117.3,121 120.7,123.8 124.2,126.4 127.6,128.8 131.1,131.1 134.5,133.3" fill="#5bd000"/>
<path fill="#c1fc44" d="M134.2,81.4l3.4,-1.7 -3.4,-0.3 -3.4,1.7z"/>
<path fill="#bbfc44" d="M130.8,83l3.4,-1.5 -3.4,-0.3 -3.4,1.5z"/>
<path fill="#bafc44" d="M137.7,81.8l3.4,-1.8 -3.4,-0.3 -3.4,1.7z"/>
<path fill="#b6fc44" d="M127.4,84.2l3.4,-1.2 -3.4,-0.4 -3.4,1.2z"/>
<path fill="#b5fc44" d="M134.2,83.4l3.4,-1.6 -3.4,-0.4 -3.4,1.5z"/>
<path fill="#b1fc44" d="M141.1,82.3l3.4,-1.9 -3.4,-0.4 -3.4,1.8z"/>
<path fill="#b1fc44" d="M130.8,84.7l3.4,-1.3 -3.4,-0.4 -3.4,1.2z"/>
<path fill="#aefc44" d="M137.7,83.9l3.4,-1.7 -3.4,-0.5 -3.4,1.6z"/>
<path fill="#b2fc44" d="M123.9,85.3l3.4,-1.1 -3.4,-0.5 -3.4,1.1z"/>
<path fill="#a8fc44" d="M144.5,82.9l3.4,-1.9 -3.4,-0.6 -3.4,1.9z"/>
<path fill="#affb44" d="M120.5,86.5l3.4,-1.1 -3.4,-0.6 -3.4,1.1z"/>
<path fill="#aefc44" d="M127.4,85.9l3.4,-1.2 -3.4,-0.5 -3.4,1.1z"/>
<path fill="#abfc44" d="M134.2,85.3l3.4,-1.4 -3.4,-0.5 -3.4,1.3z"/>
<path fill="#a6fc44" d="M141.1,84.7l3.4,-1.7 -3.4,-0.7 -3.4,1.7z"/>
<path fill="#9efc44" d="M148,83.9l3.4,-1.9 -3.4,-0.9 -3.4,1.9z"/>
<path fill="#acfb44" d="M123.9,87.1l3.4,-1.2 -3.4,-0.6 -3.4,1.1z"/>
<path fill="#9efc44" d="M144.5,85.6l3.4,-1.8 -3.4,-0.9 -3.4,1.7z"/>
<path fill="#adfb44" d="M117.1,87.6l3.4,-1.1 -3.4,-0.6 -3.4,1.1z"/>
<path fill="#aafc44" d="M130.8,86.6l3.4,-1.3 -3.4,-0.6 -3.4,1.2z"/>
<path fill="#a5fc44" d="M137.7,86.1l3.4,-1.4 -3.4,-0.7 -3.4,1.4z"/>
<path fill="#94fc44" d="M151.4,85l3.4,-2 -3.4,-1.1 -3.4,1.9z"/>
<path fill="#acfa44" d="M113.6,88.7l3.4,-1.1 -3.4,-0.7 -3.4,1z"/>
<path fill="#abfb44" d="M120.5,88.3l3.4,-1.2 -3.4,-0.6 -3.4,1.1z"/>
<path fill="#a9fb44" d="M127.4,87.8l3.4,-1.3 -3.4,-0.7 -3.4,1.2z"/>
<path fill="#a5fc44" d="M134.2,87.4l3.4,-1.3 -3.4,-0.8 -3.4,1.3z"/>
<path fill="#9efc44" d="M141.1,87.1l3.4,-1.5 -3.4,-1 -3.4,1.4z"/>
<path fill="#94fc44" d="M148,86.8l3.4,-1.8 -3.4,-1.1 -3.4,1.8z"/>
<path fill="#89fc44" d="M154.9,86.2l3.4,-2 -3.4,-1.2 -3.4,2z"/>
<path fill="#acf944" d="M110.2,89.8l3.4,-1.1 -3.4,-0.7 -3.4,1.1z"/>
<path fill="#acfa44" d="M117.1,89.4l3.4,-1.1 -3.4,-0.7 -3.4,1.1z"/>
<path fill="#a9fb44" d="M123.9,89l3.4,-1.2 -3.4,-0.7 -3.4,1.2z"/>
<path fill="#a4fb44" d="M130.8,88.7l3.4,-1.3 -3.4,-0.9 -3.4,1.3z"/>
<path fill="#9efc44" d="M137.7,88.5l3.4,-1.4 -3.4,-1 -3.4,1.3z"/>
<path fill="#95fc44" d="M144.6,88.3l3.4,-1.5 -3.4,-1.1 -3.4,1.5z"/>
<path fill="#8afc44" d="M151.4,88l3.4,-1.8 -3.4,-1.2 -3.4,1.8z"/>
<path fill="#7dfc44" d="M158.3,87.6l3.4,-2 -3.4,-1.4 -3.4,2z"/>
<path fill="#acf944" d="M113.6,90.5l3.4,-1.1 -3.4,-0.7 -3.4,1.1z"/>
<path fill="#aafa44" d="M120.5,90.2l3.4,-1.2 -3.4,-0.8 -3.4,1.1z"/>
<path fill="#9ffb44" d="M134.3,89.9l3.4,-1.4 -3.4,-1.1 -3.4,1.3z"/>
<path fill="#8cfc44" d="M148,89.6l3.4,-1.6 -3.4,-1.3 -3.4,1.5z"/>
<path fill="#7ffc44" d="M154.9,89.5l3.4,-1.9 -3.4,-1.4 -3.4,1.8z"/>
<path fill="#adf744" d="M106.8,90.9l3.4,-1.1 -3.4,-0.8 -3.4,1.1z"/>
<path fill="#a6fb44" d="M127.4,90l3.4,-1.3 -3.4,-0.9 -3.4,1.2z"/>
<path fill="#97fc44" d="M141.1,89.7l3.4,-1.4 -3.4,-1.2 -3.4,1.4z"/>
<path fill="#70fc44" d="M161.7,89.2l3.4,-2 -3.4,-1.6 -3.4,2z"/>
<path fill="#aff544" d="M103.3,92l3.4,-1.1 -3.4,-0.8 -3.4,1z"/>
<path fill="#aef744" d="M110.2,91.7l3.4,-1.2 -3.4,-0.8 -3.4,1.1z"/>
<path fill="#acf944" d="M117.1,91.4l3.4,-1.2 -3.4,-0.8 -3.4,1.1z"/>
<path fill="#a7fa44" d="M124,91.2l3.4,-1.2 -3.4,-1 -3.4,1.2z"/>
<path fill="#a1fb44" d="M130.8,91.2l3.4,-1.3 -3.4,-1.1 -3.4,1.3z"/>
<path fill="#99fb44" d="M137.7,91.1l3.4,-1.4 -3.4,-1.2 -3.4,1.4z"/>
<path fill="#8efc44" d="M144.6,91.1l3.4,-1.5 -3.4,-1.3 -3.4,1.4z"/>
<path fill="#82fc44" d="M151.4,91.1l3.4,-1.6 -3.4,-1.4 -3.4,1.6z"/>
<path fill="#74fc44" d="M158.3,91.1l3.4,-1.9 -3.4,-1.6 -3.4,1.9z"/>
<path fill="#63fc44" d="M165.2,91l3.4,-2.1 -3.4,-1.8 -3.4,2z"/>
<path fill="#b0f544" d="M106.8,92.8l3.4,-1.1 -3.4,-0.8 -3.4,1.1z"/>
<path fill="#a4fa44" d="M127.4,92.4l3.4,-1.2 -3.4,-1.2 -3.4,1.2z"/>
<path fill="#92fb44" d="M141.1,92.5l3.4,-1.4 -3.4,-1.4 -3.4,1.4z"/>
<path fill="#68fc44" d="M161.7,92.9l3.4,-1.9 -3.4,-1.8 -3.4,1.9z"/>
<path fill="#b1f344" d="M99.9,92.9l3.4,-0.9 -3.4,-0.8 -3.4,0.9z"/>
<path fill="#aef744" d="M113.7,92.6l3.4,-1.2 -3.4,-0.9 -3.4,1.2z"/>
<path fill="#aaf944" d="M120.5,92.4l3.4,-1.2 -3.4,-1 -3.4,1.2z"/>
<path fill="#9cfb44" d="M134.3,92.5l3.4,-1.3 -3.4,-1.3 -3.4,1.3z"/>
<path fill="#86fc44" d="M148,92.6l3.4,-1.5 -3.4,-1.5 -3.4,1.5z"/>
<path fill="#77fc44" d="M154.9,92.7l3.4,-1.6 -3.4,-1.6 -3.4,1.6z"/>
<path fill="#56fc44" d="M168.6,93l3.4,-2.1 -3.4,-2 -3.4,2.1z"/>
<path fill="#b4f044" d="M96.5,93.5l3.4,-0.7 -3.4,-0.8 -3.4,0.7z"/>
<path fill="#b3f344" d="M103.4,93.7l3.4,-0.9 -3.4,-0.8 -3.4,0.9z"/>
<path fill="#b1f544" d="M110.2,93.7l3.4,-1.1 -3.4,-0.9 -3.4,1.1z"/>
<path fill="#acf744" d="M117.1,93.6l3.4,-1.2 -3.4,-1 -3.4,1.2z"/>
<path fill="#a7f944" d="M124,93.6l3.4,-1.2 -3.4,-1.2 -3.4,1.2z"/>
<path fill="#9ffa44" d="M130.8,93.7l3.4,-1.3 -3.4,-1.3 -3.4,1.2z"/>
<path fill="#95fb44" d="M137.7,93.9l3.4,-1.4 -3.4,-1.4 -3.4,1.3z"/>
<path fill="#89fb44" d="M144.6,94l3.4,-1.5 -3.4,-1.5 -3.4,1.4z"/>
<path fill="#7cfc44" d="M151.4,94.3l3.4,-1.5 -3.4,-1.7 -3.4,1.5z"/>
<path fill="#6cfc44" d="M158.3,94.6l3.4,-1.7 -3.4,-1.8 -3.4,1.6z"/>
<path fill="#5afc44" d="M165.2,95l3.4,-1.9 -3.4,-2 -3.4,1.9z"/>
<path fill="#47fc44" d="M172.1,95.2l3.4,-2.1 -3.4,-2.1 -3.4,2.1z"/>
<path fill="#b7ed44" d="M93.1,94.1l3.4,-0.5 -3.4,-0.9 -3.4,0.5z"/>
<path fill="#b6f044" d="M99.9,94.4l3.4,-0.7 -3.4,-0.8 -3.4,0.7z"/>
<path fill="#b4f344" d="M106.8,94.6l3.4,-0.9 -3.4,-0.9 -3.4,0.9z"/>
<path fill="#b0f544" d="M113.7,94.7l3.4,-1.1 -3.4,-1 -3.4,1.1z"/>
<path fill="#aaf744" d="M120.5,94.8l3.4,-1.2 -3.4,-1.2 -3.4,1.2z"/>
<path fill="#a2f944" d="M127.4,94.9l3.4,-1.2 -3.4,-1.3 -3.4,1.2z"/>
<path fill="#99fa44" d="M134.3,95.1l3.4,-1.3 -3.4,-1.4 -3.4,1.3z"/>
<path fill="#8dfb44" d="M141.2,95.4l3.4,-1.4 -3.4,-1.5 -3.4,1.4z"/>
<path fill="#80fb44" d="M148,95.8l3.4,-1.5 -3.4,-1.7 -3.4,1.5z"/>
<path fill="#70fc44" d="M154.9,96.2l3.4,-1.6 -3.4,-1.9 -3.4,1.5z"/>
<path fill="#5ffc44" d="M161.8,96.7l3.4,-1.7 -3.4,-2 -3.4,1.7z"/>
<path fill="#4cfc44" d="M168.6,97.2l3.4,-2 -3.4,-2.2 -3.4,1.9z"/>
<path fill="#44fc51" d="M175.5,97.5l3.4,-2.1 -3.4,-2.3 -3.4,2.1z"/>
<path fill="#bbe944" d="M89.6,94.5l3.4,-0.4 -3.4,-0.9 -3.4,0.4z"/>
<path fill="#baed44" d="M96.5,95l3.4,-0.6 -3.4,-0.9 -3.4,0.5z"/>
<path fill="#b8f044" d="M103.4,95.4l3.4,-0.8 -3.4,-0.9 -3.4,0.7z"/>
<path fill="#aef544" d="M117.1,95.9l3.4,-1.1 -3.4,-1.2 -3.4,1.1z"/>
<path fill="#9df944" d="M130.9,96.3l3.4,-1.2 -3.4,-1.4 -3.4,1.2z"/>
<path fill="#92fa44" d="M137.7,96.7l3.4,-1.3 -3.4,-1.6 -3.4,1.3z"/>
<path fill="#76fb44" d="M151.5,97.7l3.4,-1.5 -3.4,-1.9 -3.4,1.5z"/>
<path fill="#52fc44" d="M165.2,98.9l3.4,-1.7 -3.4,-2.2 -3.4,1.7z"/>
<path fill="#44fc4c" d="M172.1,99.5l3.4,-2 -3.4,-2.3 -3.4,2z"/>
<path fill="#44fc61" d="M178.9,99.9l3.4,-2.2 -3.4,-2.4 -3.4,2.1z"/>
<path fill="#b3f344" d="M110.2,95.7l3.4,-1 -3.4,-1 -3.4,0.9z"/>
<path fill="#a7f744" d="M124,96.1l3.4,-1.2 -3.4,-1.3 -3.4,1.2z"/>
<path fill="#85fb44" d="M144.6,97.2l3.4,-1.4 -3.4,-1.7 -3.4,1.4z"/>
<path fill="#65fc44" d="M158.3,98.3l3.4,-1.6 -3.4,-2.1 -3.4,1.6z"/>
<path fill="#c0e544" d="M86.2,94.7l3.4,-0.2 -3.4,-0.9 -3.4,0.2z"/>
<path fill="#bee944" d="M93.1,95.4l3.4,-0.4 -3.4,-0.9 -3.4,0.4z"/>
<path fill="#bbed44" d="M99.9,96l3.4,-0.6 -3.4,-1 -3.4,0.6z"/>
<path fill="#b8f044" d="M106.8,96.5l3.4,-0.8 -3.4,-1.1 -3.4,0.8z"/>
<path fill="#b2f344" d="M113.7,96.9l3.4,-1 -3.4,-1.2 -3.4,1z"/>
<path fill="#abf544" d="M120.6,97.2l3.4,-1.1 -3.4,-1.3 -3.4,1.1z"/>
<path fill="#a2f744" d="M127.4,97.5l3.4,-1.2 -3.4,-1.4 -3.4,1.2z"/>
<path fill="#97f944" d="M134.3,97.9l3.4,-1.2 -3.4,-1.6 -3.4,1.2z"/>
<path fill="#8afa44" d="M141.2,98.4l3.4,-1.3 -3.4,-1.7 -3.4,1.3z"/>
<path fill="#7bfb44" d="M148,99.1l3.4,-1.4 -3.4,-1.9 -3.4,1.4z"/>
<path fill="#6afb44" d="M154.9,99.8l3.4,-1.5 -3.4,-2.1 -3.4,1.5z"/>
<path fill="#58fc44" d="M161.8,100.5l3.4,-1.6 -3.4,-2.2 -3.4,1.6z"/>
<path fill="#44fc45" d="M168.6,101.3l3.4,-1.8 -3.4,-2.3 -3.4,1.7z"/>
<path fill="#44fc5b" d="M175.5,102l3.4,-2.1 -3.4,-2.4 -3.4,2z"/>
<path fill="#44fc72" d="M182.4,102.5l3.4,-2.2 -3.4,-2.5 -3.4,2.2z"/>
<path fill="#c2e544" d="M89.6,95.7l3.4,-0.3 -3.4,-1 -3.4,0.2z"/>
<path fill="#a7f544" d="M124,98.7l3.4,-1.1 -3.4,-1.4 -3.4,1.1z"/>
<path fill="#81fa44" d="M144.6,100.4l3.4,-1.3 -3.4,-1.9 -3.4,1.3z"/>
<path fill="#44fc6b" d="M178.9,104.6l3.4,-2.1 -3.4,-2.6 -3.4,2.1z"/>
<path fill="#c3df44" d="M82.8,94.8l3.4,-0.1 -3.4,-1 -3.4,0z"/>
<path fill="#c0e944" d="M96.5,96.5l3.4,-0.5 -3.4,-1 -3.4,0.4z"/>
<path fill="#bced44" d="M103.4,97.1l3.4,-0.6 -3.4,-1.1 -3.4,0.6z"/>
<path fill="#b7f044" d="M110.3,97.7l3.4,-0.8 -3.4,-1.2 -3.4,0.8z"/>
<path fill="#b0f344" d="M117.1,98.2l3.4,-1 -3.4,-1.3 -3.4,1z"/>
<path fill="#9cf744" d="M130.9,99.1l3.4,-1.2 -3.4,-1.6 -3.4,1.2z"/>
<path fill="#8ff944" d="M137.7,99.6l3.4,-1.2 -3.4,-1.7 -3.4,1.2z"/>
<path fill="#70fb44" d="M151.5,101.2l3.4,-1.4 -3.4,-2.1 -3.4,1.4z"/>
<path fill="#5efb44" d="M158.3,102.1l3.4,-1.6 -3.4,-2.3 -3.4,1.5z"/>
<path fill="#4afc44" d="M165.2,103l3.4,-1.7 -3.4,-2.4 -3.4,1.6z"/>
<path fill="#44fc54" d="M172.1,103.9l3.4,-1.9 -3.4,-2.5 -3.4,1.8z"/>
<path fill="#44fc84" d="M185.8,105.1l3.4,-2.3 -3.4,-2.6 -3.4,2.2z"/>
<path fill="#c7df44" d="M86.2,95.8l3.4,-0.1 -3.4,-1 -3.4,0.1z"/>
<path fill="#44fc7d" d="M182.4,107.3l3.4,-2.2 -3.4,-2.6 -3.4,2.1z"/>
<path fill="#c7da44" d="M79.3,94.7l3.4,0 -3.4,-1 -3.4,-0.1z"/>
<path fill="#c4e544" d="M93.1,96.8l3.4,-0.3 -3.4,-1 -3.4,0.3z"/>
<path fill="#c0e944" d="M100,97.6l3.4,-0.5 -3.4,-1.1 -3.4,0.5z"/>
<path fill="#bbed44" d="M106.8,98.3l3.4,-0.7 -3.4,-1.2 -3.4,0.6z"/>
<path fill="#b4f044" d="M113.7,99l3.4,-0.8 -3.4,-1.3 -3.4,0.8z"/>
<path fill="#acf344" d="M120.6,99.6l3.4,-1 -3.4,-1.4 -3.4,1z"/>
<path fill="#a1f544" d="M127.4,100.2l3.4,-1.1 -3.4,-1.5 -3.4,1.1z"/>
<path fill="#95f744" d="M134.3,100.8l3.4,-1.2 -3.4,-1.7 -3.4,1.2z"/>
<path fill="#87f944" d="M141.2,101.6l3.4,-1.2 -3.4,-1.9 -3.4,1.2z"/>
<path fill="#76fa44" d="M148,102.5l3.4,-1.3 -3.4,-2.1 -3.4,1.3z"/>
<path fill="#65fb44" d="M154.9,103.5l3.4,-1.4 -3.4,-2.3 -3.4,1.4z"/>
<path fill="#51fb44" d="M161.8,104.6l3.4,-1.6 -3.4,-2.5 -3.4,1.6z"/>
<path fill="#44fc4d" d="M168.7,105.6l3.4,-1.8 -3.4,-2.6 -3.4,1.7z"/>
<path fill="#44fc64" d="M175.5,106.6l3.4,-1.9 -3.4,-2.6 -3.4,1.9z"/>
<path fill="#44fc96" d="M189.3,107.8l3.4,-2.3 -3.4,-2.7 -3.4,2.3z"/>
<path fill="#cbd344" d="M75.9,94.7l3.4,0.1 -3.4,-1.1 -3.4,-0.1z"/>
<path fill="#cada44" d="M82.8,95.8l3.4,-0 -3.4,-1 -3.4,-0z"/>
<path fill="#c8df44" d="M89.7,96.9l3.4,-0.1 -3.4,-1.1 -3.4,0.1z"/>
<path fill="#c5e544" d="M96.5,97.9l3.4,-0.3 -3.4,-1.1 -3.4,0.3z"/>
<path fill="#c0e944" d="M103.4,98.9l3.4,-0.5 -3.4,-1.2 -3.4,0.5z"/>
<path fill="#b9ed44" d="M110.3,99.7l3.4,-0.7 -3.4,-1.3 -3.4,0.7z"/>
<path fill="#b1f044" d="M117.1,100.4l3.4,-0.8 -3.4,-1.4 -3.4,0.8z"/>
<path fill="#a7f344" d="M124,101.2l3.4,-1 -3.4,-1.5 -3.4,1z"/>
<path fill="#9af544" d="M130.9,101.9l3.4,-1.1 -3.4,-1.7 -3.4,1.1z"/>
<path fill="#8df744" d="M137.8,102.7l3.4,-1.2 -3.4,-1.9 -3.4,1.2z"/>
<path fill="#7df944" d="M144.6,103.7l3.4,-1.2 -3.4,-2.1 -3.4,1.2z"/>
<path fill="#6bfa44" d="M151.5,104.8l3.4,-1.3 -3.4,-2.3 -3.4,1.3z"/>
<path fill="#58fb44" d="M158.4,106.1l3.4,-1.5 -3.4,-2.5 -3.4,1.4z"/>
<path fill="#44fb46" d="M165.2,107.3l3.4,-1.7 -3.4,-2.6 -3.4,1.6z"/>
<path fill="#44fc5d" d="M172.1,108.4l3.4,-1.8 -3.4,-2.7 -3.4,1.8z"/>
<path fill="#44fc75" d="M179,109.3l3.4,-2 -3.4,-2.7 -3.4,1.9z"/>
<path fill="#44fc8e" d="M185.8,110l3.4,-2.2 -3.4,-2.7 -3.4,2.2z"/>
<path fill="#44fca8" d="M192.7,110.5l3.4,-2.3 -3.4,-2.6 -3.4,2.3z"/>
<path fill="#ccca44" d="M72.5,94.5l3.4,0.2 -3.4,-1.1 -3.4,-0.2z"/>
<path fill="#cdd344" d="M79.3,95.8l3.4,0 -3.4,-1.1 -3.4,-0.1z"/>
<path fill="#ccda44" d="M86.2,97l3.4,-0 -3.4,-1.1 -3.4,0z"/>
<path fill="#c9df44" d="M93.1,98.1l3.4,-0.2 -3.4,-1.2 -3.4,0.1z"/>
<path fill="#c4e544" d="M100,99.2l3.4,-0.4 -3.4,-1.3 -3.4,0.3z"/>
<path fill="#bee944" d="M106.8,100.2l3.4,-0.5 -3.4,-1.3 -3.4,0.5z"/>
<path fill="#b6ed44" d="M113.7,101.1l3.4,-0.7 -3.4,-1.4 -3.4,0.7z"/>
<path fill="#acf044" d="M120.6,102l3.4,-0.8 -3.4,-1.5 -3.4,0.8z"/>
<path fill="#93f544" d="M134.3,103.8l3.4,-1.1 -3.4,-1.9 -3.4,1.1z"/>
<path fill="#72f944" d="M148.1,106l3.4,-1.2 -3.4,-2.3 -3.4,1.2z"/>
<path fill="#5ffa44" d="M154.9,107.4l3.4,-1.3 -3.4,-2.5 -3.4,1.3z"/>
<path fill="#4afb44" d="M161.8,108.9l3.4,-1.5 -3.4,-2.7 -3.4,1.5z"/>
<path fill="#44fb56" d="M168.7,110.1l3.4,-1.7 -3.4,-2.7 -3.4,1.7z"/>
<path fill="#44fc6d" d="M175.5,111.1l3.4,-1.8 -3.4,-2.7 -3.4,1.8z"/>
<path fill="#44fc87" d="M182.4,112l3.4,-2 -3.4,-2.7 -3.4,2z"/>
<path fill="#44fca0" d="M189.3,112.7l3.4,-2.2 -3.4,-2.7 -3.4,2.2z"/>
<path fill="#44fcbc" d="M196.1,113l3.4,-2.3 -3.4,-2.6 -3.4,2.3z"/>
<path fill="#a1f344" d="M127.5,102.9l3.4,-0.9 -3.4,-1.7 -3.4,1z"/>
<path fill="#83f744" d="M141.2,104.9l3.4,-1.1 -3.4,-2.1 -3.4,1.2z"/>
<path fill="#c3b844" d="M69,94.3l3.4,0.2 -3.4,-1.1 -3.4,-0.3z"/>
<path fill="#ccc844" d="M75.9,95.6l3.4,0.1 -3.4,-1.1 -3.4,-0.2z"/>
<path fill="#ced344" d="M82.8,97l3.4,0 -3.4,-1.1 -3.4,-0z"/>
<path fill="#ccda44" d="M89.7,98.2l3.4,-0.1 -3.4,-1.2 -3.4,0z"/>
<path fill="#c8df44" d="M96.5,99.4l3.4,-0.2 -3.4,-1.3 -3.4,0.2z"/>
<path fill="#c3e544" d="M103.4,100.6l3.4,-0.4 -3.4,-1.3 -3.4,0.4z"/>
<path fill="#bbe944" d="M110.3,101.6l3.4,-0.5 -3.4,-1.4 -3.4,0.5z"/>
<path fill="#b1ed44" d="M117.2,102.6l3.4,-0.7 -3.4,-1.5 -3.4,0.7z"/>
<path fill="#a6f044" d="M124,103.7l3.4,-0.8 -3.4,-1.7 -3.4,0.8z"/>
<path fill="#99f344" d="M130.9,104.8l3.4,-0.9 -3.4,-1.9 -3.4,0.9z"/>
<path fill="#8af544" d="M137.8,105.9l3.4,-1.1 -3.4,-2.1 -3.4,1.1z"/>
<path fill="#79f744" d="M144.6,107.2l3.4,-1.1 -3.4,-2.3 -3.4,1.1z"/>
<path fill="#66f944" d="M151.5,108.6l3.4,-1.2 -3.4,-2.6 -3.4,1.2z"/>
<path fill="#51fa44" d="M158.4,110.2l3.4,-1.4 -3.4,-2.8 -3.4,1.3z"/>
<path fill="#44fb4e" d="M165.2,111.7l3.4,-1.6 -3.4,-2.8 -3.4,1.5z"/>
<path fill="#44fb65" d="M172.1,112.9l3.4,-1.8 -3.4,-2.7 -3.4,1.7z"/>
<path fill="#44fc7f" d="M179,113.9l3.4,-1.9 -3.4,-2.7 -3.4,1.8z"/>
<path fill="#44fc99" d="M185.8,114.7l3.4,-2 -3.4,-2.7 -3.4,2z"/>
<path fill="#44fcb4" d="M192.7,115.2l3.4,-2.2 -3.4,-2.6 -3.4,2.2z"/>
<path fill="#44fcd0" d="M199.6,115.6l3.4,-2.3 -3.4,-2.5 -3.4,2.3z"/>
<path fill="#c3b644" d="M72.5,95.5l3.4,0.2 -3.4,-1.2 -3.4,-0.2z"/>
<path fill="#c0e544" d="M106.9,102l3.4,-0.4 -3.4,-1.4 -3.4,0.4z"/>
<path fill="#44fa46" d="M161.8,113.1l3.4,-1.4 -3.4,-2.8 -3.4,1.4z"/>
<path fill="#44fcc9" d="M196.2,117.8l3.4,-2.2 -3.4,-2.5 -3.4,2.2z"/>
<path fill="#ccc744" d="M79.4,96.9l3.4,0.1 -3.4,-1.2 -3.4,-0.1z"/>
<path fill="#cfd344" d="M86.2,98.2l3.4,-0 -3.4,-1.2 -3.4,-0z"/>
<path fill="#ccda44" d="M93.1,99.5l3.4,-0.1 -3.4,-1.3 -3.4,0.1z"/>
<path fill="#c7df44" d="M100,100.8l3.4,-0.2 -3.4,-1.4 -3.4,0.2z"/>
<path fill="#b7e944" d="M113.7,103.2l3.4,-0.5 -3.4,-1.5 -3.4,0.5z"/>
<path fill="#aced44" d="M120.6,104.3l3.4,-0.7 -3.4,-1.7 -3.4,0.7z"/>
<path fill="#9ff044" d="M127.5,105.5l3.4,-0.8 -3.4,-1.9 -3.4,0.8z"/>
<path fill="#90f344" d="M134.3,106.8l3.4,-0.9 -3.4,-2.1 -3.4,0.9z"/>
<path fill="#80f544" d="M141.2,108.2l3.4,-1 -3.4,-2.3 -3.4,1.1z"/>
<path fill="#6df744" d="M148.1,109.8l3.4,-1.1 -3.4,-2.6 -3.4,1.1z"/>
<path fill="#59f944" d="M154.9,111.5l3.4,-1.3 -3.4,-2.8 -3.4,1.2z"/>
<path fill="#44fb5d" d="M168.7,114.5l3.4,-1.6 -3.4,-2.8 -3.4,1.6z"/>
<path fill="#44fb77" d="M175.6,115.6l3.4,-1.8 -3.4,-2.7 -3.4,1.8z"/>
<path fill="#44fc91" d="M182.4,116.5l3.4,-1.9 -3.4,-2.7 -3.4,1.9z"/>
<path fill="#44fcad" d="M189.3,117.3l3.4,-2 -3.4,-2.6 -3.4,2z"/>
<path fill="#c3b544" d="M75.9,96.7l3.4,0.2 -3.4,-1.2 -3.4,-0.2z"/>
<path fill="#ced344" d="M89.7,99.5l3.4,-0 -3.4,-1.3 -3.4,0z"/>
<path fill="#c4df44" d="M103.4,102.3l3.4,-0.2 -3.4,-1.5 -3.4,0.2z"/>
<path fill="#bce544" d="M110.3,103.6l3.4,-0.4 -3.4,-1.5 -3.4,0.4z"/>
<path fill="#a5ed44" d="M124,106.2l3.4,-0.7 -3.4,-1.9 -3.4,0.7z"/>
<path fill="#74f544" d="M144.7,110.8l3.4,-1.1 -3.4,-2.6 -3.4,1z"/>
<path fill="#4bf944" d="M158.4,114.4l3.4,-1.3 -3.4,-2.8 -3.4,1.3z"/>
<path fill="#44fa55" d="M165.3,115.9l3.4,-1.4 -3.4,-2.8 -3.4,1.4z"/>
<path fill="#44fb89" d="M179,118.3l3.4,-1.8 -3.4,-2.7 -3.4,1.8z"/>
<path fill="#44fcc1" d="M192.7,119.8l3.4,-2 -3.4,-2.5 -3.4,2z"/>
<path fill="#ccc644" d="M82.8,98.1l3.4,0.1 -3.4,-1.3 -3.4,-0.1z"/>
<path fill="#cada44" d="M96.6,100.9l3.4,-0.1 -3.4,-1.4 -3.4,0.1z"/>
<path fill="#b2e944" d="M117.2,104.9l3.4,-0.5 -3.4,-1.7 -3.4,0.5z"/>
<path fill="#97f044" d="M130.9,107.6l3.4,-0.8 -3.4,-2.1 -3.4,0.8z"/>
<path fill="#87f344" d="M137.8,109.1l3.4,-0.9 -3.4,-2.3 -3.4,0.9z"/>
<path fill="#60f744" d="M151.5,112.7l3.4,-1.2 -3.4,-2.9 -3.4,1.1z"/>
<path fill="#44fb6f" d="M172.1,117.2l3.4,-1.6 -3.4,-2.8 -3.4,1.6z"/>
<path fill="#44fca4" d="M185.9,119.1l3.4,-1.9 -3.4,-2.6 -3.4,1.9z"/>
<path fill="#c7da44" d="M100,102.4l3.4,-0.1 -3.4,-1.5 -3.4,0.1z"/>
<path fill="#abe944" d="M120.6,106.7l3.4,-0.5 -3.4,-1.9 -3.4,0.5z"/>
<path fill="#68f544" d="M148.1,113.8l3.4,-1.1 -3.4,-2.9 -3.4,1.1z"/>
<path fill="#44fa67" d="M168.7,118.7l3.4,-1.4 -3.4,-2.8 -3.4,1.4z"/>
<path fill="#c3b544" d="M79.4,98l3.4,0.1 -3.4,-1.3 -3.4,-0.2z"/>
<path fill="#ccc744" d="M86.3,99.5l3.4,0.1 -3.4,-1.3 -3.4,-0.1z"/>
<path fill="#cdd344" d="M93.1,101l3.4,-0 -3.4,-1.4 -3.4,0z"/>
<path fill="#c0df44" d="M106.9,103.8l3.4,-0.2 -3.4,-1.5 -3.4,0.2z"/>
<path fill="#b7e544" d="M113.7,105.2l3.4,-0.4 -3.4,-1.7 -3.4,0.4z"/>
<path fill="#9ded44" d="M127.5,108.3l3.4,-0.7 -3.4,-2.1 -3.4,0.7z"/>
<path fill="#8df044" d="M134.4,109.9l3.4,-0.8 -3.4,-2.3 -3.4,0.8z"/>
<path fill="#7cf344" d="M141.2,111.7l3.4,-0.9 -3.4,-2.6 -3.4,0.9z"/>
<path fill="#52f744" d="M155,115.5l3.4,-1.2 -3.4,-2.9 -3.4,1.2z"/>
<path fill="#44f94e" d="M161.8,117.2l3.4,-1.3 -3.4,-2.8 -3.4,1.3z"/>
<path fill="#44fb80" d="M175.6,119.9l3.4,-1.6 -3.4,-2.7 -3.4,1.6z"/>
<path fill="#44fb9c" d="M182.4,120.9l3.4,-1.8 -3.4,-2.6 -3.4,1.8z"/>
<path fill="#44fcb9" d="M189.3,121.7l3.4,-1.9 -3.4,-2.6 -3.4,1.9z"/>
<path fill="#c3b644" d="M82.8,99.4l3.4,0.1 -3.4,-1.3 -3.4,-0.1z"/>
<path fill="#cad344" d="M96.6,102.4l3.4,-0 -3.4,-1.5 -3.4,0z"/>
<path fill="#c3da44" d="M103.4,103.9l3.4,-0.1 -3.4,-1.5 -3.4,0.1z"/>
<path fill="#b0e544" d="M117.2,107.1l3.4,-0.4 -3.4,-1.9 -3.4,0.4z"/>
<path fill="#a3e944" d="M124.1,108.8l3.4,-0.5 -3.4,-2.1 -3.4,0.5z"/>
<path fill="#94ed44" d="M130.9,110.5l3.4,-0.6 -3.4,-2.3 -3.4,0.7z"/>
<path fill="#82f044" d="M137.8,112.5l3.4,-0.8 -3.4,-2.6 -3.4,0.8z"/>
<path fill="#70f344" d="M144.7,114.7l3.4,-1 -3.4,-2.9 -3.4,0.9z"/>
<path fill="#5af544" d="M151.5,116.6l3.4,-1.1 -3.4,-2.9 -3.4,1.1z"/>
<path fill="#44f95f" d="M165.3,119.9l3.4,-1.3 -3.4,-2.8 -3.4,1.3z"/>
<path fill="#44fa78" d="M172.1,121.3l3.4,-1.4 -3.4,-2.7 -3.4,1.4z"/>
<path fill="#44fbb0" d="M185.9,123.5l3.4,-1.8 -3.4,-2.6 -3.4,1.8z"/>
<path fill="#ccc944" d="M89.7,100.9l3.4,0.1 -3.4,-1.4 -3.4,-0.1z"/>
<path fill="#bbdf44" d="M110.3,105.5l3.4,-0.3 -3.4,-1.7 -3.4,0.2z"/>
<path fill="#44f746" d="M158.4,118.3l3.4,-1.2 -3.4,-2.8 -3.4,1.2z"/>
<path fill="#44fb94" d="M179,122.5l3.4,-1.6 -3.4,-2.6 -3.4,1.6z"/>
<path fill="#c3b844" d="M86.3,100.8l3.4,0.1 -3.4,-1.4 -3.4,-0.1z"/>
<path fill="#cccc44" d="M93.1,102.4l3.4,0 -3.4,-1.5 -3.4,-0.1z"/>
<path fill="#c6d344" d="M100,104l3.4,-0 -3.4,-1.5 -3.4,0z"/>
<path fill="#bfda44" d="M106.9,105.6l3.4,-0.1 -3.4,-1.7 -3.4,0.1z"/>
<path fill="#b5df44" d="M113.8,107.4l3.4,-0.3 -3.4,-1.9 -3.4,0.3z"/>
<path fill="#a8e544" d="M120.6,109.2l3.4,-0.4 -3.4,-2.1 -3.4,0.4z"/>
<path fill="#9ae944" d="M127.5,111.1l3.4,-0.5 -3.4,-2.3 -3.4,0.5z"/>
<path fill="#89ed44" d="M134.4,113.2l3.4,-0.7 -3.4,-2.6 -3.4,0.6z"/>
<path fill="#77f044" d="M141.2,115.6l3.4,-0.8 -3.4,-3 -3.4,0.8z"/>
<path fill="#62f344" d="M148.1,117.6l3.4,-1 -3.4,-2.9 -3.4,1z"/>
<path fill="#4bf544" d="M155,119.4l3.4,-1.1 -3.4,-2.8 -3.4,1.1z"/>
<path fill="#44f756" d="M161.8,121.1l3.4,-1.2 -3.4,-2.8 -3.4,1.2z"/>
<path fill="#44f970" d="M168.7,122.6l3.4,-1.2 -3.4,-2.7 -3.4,1.3z"/>
<path fill="#44fa8c" d="M175.6,123.9l3.4,-1.4 -3.4,-2.6 -3.4,1.4z"/>
<path fill="#44fba8" d="M182.4,125.1l3.4,-1.6 -3.4,-2.6 -3.4,1.6z"/>
<path fill="#c3bb44" d="M89.7,102.3l3.4,0.1 -3.4,-1.5 -3.4,-0.1z"/>
<path fill="#44fa9f" d="M179,126.5l3.4,-1.4 -3.4,-2.6 -3.4,1.4z"/>
<path fill="#c8cc44" d="M96.6,103.9l3.4,0.1 -3.4,-1.5 -3.4,-0z"/>
<path fill="#c1d344" d="M103.5,105.7l3.4,-0 -3.4,-1.7 -3.4,0z"/>
<path fill="#b8da44" d="M110.3,107.5l3.4,-0.1 -3.4,-1.9 -3.4,0.1z"/>
<path fill="#aedf44" d="M117.2,109.4l3.4,-0.3 -3.4,-2.1 -3.4,0.3z"/>
<path fill="#9fe544" d="M124.1,111.5l3.4,-0.4 -3.4,-2.3 -3.4,0.4z"/>
<path fill="#90e944" d="M130.9,113.8l3.4,-0.6 -3.4,-2.7 -3.4,0.5z"/>
<path fill="#7eed44" d="M137.8,116.3l3.4,-0.7 -3.4,-3 -3.4,0.7z"/>
<path fill="#69f044" d="M144.7,118.5l3.4,-0.9 -3.4,-2.9 -3.4,0.8z"/>
<path fill="#53f344" d="M151.6,120.4l3.4,-1 -3.4,-2.8 -3.4,1z"/>
<path fill="#44f54d" d="M158.4,122.1l3.4,-1.1 -3.4,-2.7 -3.4,1.1z"/>
<path fill="#44f767" d="M165.3,123.7l3.4,-1.1 -3.4,-2.7 -3.4,1.2z"/>
<path fill="#44f983" d="M172.2,125.1l3.4,-1.2 -3.4,-2.6 -3.4,1.2z"/>
<path fill="#c3bf44" d="M93.2,103.8l3.4,0.1 -3.4,-1.5 -3.4,-0.1z"/>
<path fill="#bbd344" d="M106.9,107.5l3.4,-0 -3.4,-1.9 -3.4,0z"/>
<path fill="#a5df44" d="M120.6,111.7l3.4,-0.3 -3.4,-2.3 -3.4,0.3z"/>
<path fill="#96e544" d="M127.5,114.2l3.4,-0.4 -3.4,-2.7 -3.4,0.4z"/>
<path fill="#84e944" d="M134.4,116.9l3.4,-0.6 -3.4,-3.1 -3.4,0.6z"/>
<path fill="#71ed44" d="M141.3,119.2l3.4,-0.7 -3.4,-2.9 -3.4,0.7z"/>
<path fill="#5bf044" d="M148.1,121.2l3.4,-0.8 -3.4,-2.8 -3.4,0.9z"/>
<path fill="#44f55f" d="M161.9,124.7l3.4,-1 -3.4,-2.6 -3.4,1.1z"/>
<path fill="#44f996" d="M175.6,127.7l3.4,-1.2 -3.4,-2.6 -3.4,1.2z"/>
<path fill="#c3cc44" d="M100,105.6l3.4,0.1 -3.4,-1.7 -3.4,-0.1z"/>
<path fill="#b1da44" d="M113.8,109.6l3.4,-0.1 -3.4,-2.1 -3.4,0.1z"/>
<path fill="#44f345" d="M155,123.1l3.4,-0.9 -3.4,-2.7 -3.4,1z"/>
<path fill="#44f77a" d="M168.7,126.2l3.4,-1.1 -3.4,-2.6 -3.4,1.1z"/>
<path fill="#8be544" d="M131,117.3l3.4,-0.5 -3.4,-3.1 -3.4,0.4z"/>
<path fill="#78e944" d="M137.8,119.8l3.4,-0.6 -3.4,-2.9 -3.4,0.6z"/>
<path fill="#c3c344" d="M96.6,105.5l3.4,0.1 -3.4,-1.7 -3.4,-0.1z"/>
<path fill="#bdcc44" d="M103.5,107.5l3.4,0.1 -3.4,-1.9 -3.4,-0.1z"/>
<path fill="#b4d344" d="M110.3,109.6l3.4,-0 -3.4,-2.1 -3.4,0z"/>
<path fill="#a9da44" d="M117.2,111.9l3.4,-0.1 -3.4,-2.3 -3.4,0.1z"/>
<path fill="#9bdf44" d="M124.1,114.5l3.4,-0.3 -3.4,-2.7 -3.4,0.3z"/>
<path fill="#63ed44" d="M144.7,122l3.4,-0.7 -3.4,-2.8 -3.4,0.7z"/>
<path fill="#4cf044" d="M151.6,123.9l3.4,-0.8 -3.4,-2.7 -3.4,0.8z"/>
<path fill="#44f356" d="M158.4,125.7l3.4,-0.9 -3.4,-2.6 -3.4,0.9z"/>
<path fill="#44f571" d="M165.3,127.2l3.4,-1 -3.4,-2.5 -3.4,1z"/>
<path fill="#44f78e" d="M172.2,128.7l3.4,-1.1 -3.4,-2.5 -3.4,1.1z"/>
<path fill="#bdc344" d="M100,107.4l3.4,0.1 -3.4,-1.9 -3.4,-0.1z"/>
<path fill="#acd344" d="M113.8,111.9l3.4,-0 -3.4,-2.3 -3.4,0z"/>
<path fill="#a0da44" d="M120.7,114.6l3.4,-0.2 -3.4,-2.7 -3.4,0.1z"/>
<path fill="#90df44" d="M127.5,117.7l3.4,-0.3 -3.4,-3.2 -3.4,0.3z"/>
<path fill="#7ee544" d="M134.4,120.3l3.4,-0.5 -3.4,-2.9 -3.4,0.5z"/>
<path fill="#6ae944" d="M141.3,122.6l3.4,-0.6 -3.4,-2.8 -3.4,0.6z"/>
<path fill="#54ed44" d="M148.1,124.6l3.4,-0.7 -3.4,-2.7 -3.4,0.7z"/>
<path fill="#44f04e" d="M155,126.5l3.4,-0.8 -3.4,-2.6 -3.4,0.8z"/>
<path fill="#44f585" d="M168.8,129.7l3.4,-1 -3.4,-2.5 -3.4,1z"/>
<path fill="#b6cc44" d="M106.9,109.5l3.4,0.1 -3.4,-2.1 -3.4,-0.1z"/>
<path fill="#44f369" d="M161.9,128.1l3.4,-0.9 -3.4,-2.5 -3.4,0.9z"/>
<path fill="#b7c344" d="M103.5,109.4l3.4,0.1 -3.4,-2 -3.4,-0.1z"/>
<path fill="#afcc44" d="M110.4,111.8l3.4,0.1 -3.4,-2.3 -3.4,-0.1z"/>
<path fill="#a3d344" d="M117.2,114.7l3.4,-0 -3.4,-2.8 -3.4,0z"/>
<path fill="#95da44" d="M124.1,117.9l3.4,-0.2 -3.4,-3.2 -3.4,0.2z"/>
<path fill="#84df44" d="M131,120.7l3.4,-0.4 -3.4,-3 -3.4,0.3z"/>
<path fill="#71e544" d="M137.9,123.1l3.4,-0.5 -3.4,-2.8 -3.4,0.5z"/>
<path fill="#5be944" d="M144.7,125.2l3.4,-0.6 -3.4,-2.7 -3.4,0.6z"/>
<path fill="#44ed46" d="M151.6,127.2l3.4,-0.7 -3.4,-2.6 -3.4,0.7z"/>
<path fill="#44f060" d="M158.5,128.9l3.4,-0.8 -3.4,-2.5 -3.4,0.8z"/>
<path fill="#44f37c" d="M165.3,130.5l3.4,-0.9 -3.4,-2.5 -3.4,0.9z"/>
<path fill="#afc344" d="M106.9,111.7l3.4,0.1 -3.4,-2.3 -3.4,-0.1z"/>
<path fill="#a6cc44" d="M113.8,114.6l3.4,0.1 -3.4,-2.8 -3.4,-0.1z"/>
<path fill="#99d344" d="M120.7,118l3.4,-0.1 -3.4,-3.3 -3.4,0z"/>
<path fill="#8ada44" d="M127.6,120.9l3.4,-0.2 -3.4,-3 -3.4,0.2z"/>
<path fill="#77df44" d="M134.4,123.5l3.4,-0.4 -3.4,-2.8 -3.4,0.4z"/>
<path fill="#63e544" d="M141.3,125.7l3.4,-0.5 -3.4,-2.7 -3.4,0.5z"/>
<path fill="#4be944" d="M148.2,127.8l3.4,-0.6 -3.4,-2.5 -3.4,0.6z"/>
<path fill="#44ed58" d="M155,129.6l3.4,-0.7 -3.4,-2.4 -3.4,0.7z"/>
<path fill="#44f073" d="M161.9,131.3l3.4,-0.8 -3.4,-2.4 -3.4,0.8z"/>
<path fill="#a7c344" d="M110.4,114.5l3.4,0.1 -3.4,-2.8 -3.4,-0.1z"/>
<path fill="#9ccc44" d="M117.3,117.9l3.4,0 -3.4,-3.3 -3.4,-0.1z"/>
<path fill="#8ed344" d="M124.1,121l3.4,-0.1 -3.4,-3 -3.4,0.1z"/>
<path fill="#7dda44" d="M131,123.7l3.4,-0.2 -3.4,-2.8 -3.4,0.2z"/>
<path fill="#69df44" d="M137.9,126.1l3.4,-0.4 -3.4,-2.7 -3.4,0.4z"/>
<path fill="#53e544" d="M144.7,128.2l3.4,-0.5 -3.4,-2.5 -3.4,0.5z"/>
<path fill="#44e94f" d="M151.6,130.1l3.4,-0.6 -3.4,-2.4 -3.4,0.6z"/>
<path fill="#44ed6a" d="M158.5,131.9l3.4,-0.7 -3.4,-2.4 -3.4,0.7z"/>
<path fill="#9ec344" d="M113.8,117.9l3.4,0 -3.4,-3.3 -3.4,-0.1z"/>
<path fill="#92cc44" d="M120.7,121l3.4,-0 -3.4,-3 -3.4,-0z"/>
<path fill="#44e547" d="M148.2,130.6l3.4,-0.5 -3.4,-2.4 -3.4,0.5z"/>
<path fill="#44e961" d="M155,132.5l3.4,-0.6 -3.4,-2.4 -3.4,0.6z"/>
<path fill="#82d344" d="M127.6,123.8l3.4,-0.1 -3.4,-2.8 -3.4,0.1z"/>
<path fill="#6fda44" d="M134.4,126.3l3.4,-0.2 -3.4,-2.7 -3.4,0.2z"/>
<path fill="#5adf44" d="M141.3,128.6l3.4,-0.4 -3.4,-2.5 -3.4,0.4z"/>
<path fill="#94c344" d="M117.3,121l3.4,0 -3.4,-3.1 -3.4,-0z"/>
<path fill="#44e559" d="M151.6,133l3.4,-0.5 -3.4,-2.4 -3.4,0.5z"/>
<path fill="#86cc44" d="M124.1,123.8l3.4,-0 -3.4,-2.8 -3.4,0z"/>
<path fill="#75d344" d="M131,126.4l3.4,-0.1 -3.4,-2.6 -3.4,0.1z"/>
<path fill="#60da44" d="M137.9,128.8l3.4,-0.2 -3.4,-2.5 -3.4,0.2z"/>
<path fill="#49df44" d="M144.8,131l3.4,-0.4 -3.4,-2.4 -3.4,0.4z"/>
<path fill="#89c344" d="M120.7,123.8l3.4,0 -3.4,-2.8 -3.4,-0z"/>
<path fill="#79cc44" d="M127.6,126.4l3.4,0 -3.4,-2.6 -3.4,0z"/>
<path fill="#66d344" d="M134.5,128.9l3.4,-0.1 -3.4,-2.5 -3.4,0.1z"/>
<path fill="#51da44" d="M141.3,131.2l3.4,-0.2 -3.4,-2.4 -3.4,0.2z"/>
<path fill="#44df51" d="M148.2,133.3l3.4,-0.3 -3.4,-2.3 -3.4,0.4z"/>
<path fill="#6ccc44" d="M131,128.9l3.4,0 -3.4,-2.5 -3.4,-0z"/>
<path fill="#57d344" d="M137.9,131.2l3.4,-0 -3.4,-2.3 -3.4,0.1z"/>
<path fill="#7dc344" d="M124.2,126.4l3.4,0 -3.4,-2.6 -3.4,-0z"/>
<path fill="#44da49" d="M144.8,133.5l3.4,-0.2 -3.4,-2.3 -3.4,0.2z"/>
<path fill="#70c344" d="M127.6,128.8l3.4,0 -3.4,-2.4 -3.4,-0z"/>
<path fill="#5dcc44" d="M134.5,131.1l3.4,0.1 -3.4,-2.3 -3.4,-0z"/>
<path fill="#47d344" d="M141.3,133.5l3.4,-0 -3.4,-2.3 -3.4,0z"/>
<path fill="#62c344" d="M131.1,131.1l3.4,0.1 -3.4,-2.3 -3.4,-0z"/>
<path fill="#4dcc44" d="M137.9,133.4l3.4,0.1 -3.4,-2.3 -3.4,-0.1z"/>
<path fill="#53c344" d="M134.5,133.3l3.4,0.1 -3.4,-2.3 -3.4,-0.1z"/>
<g fill="none" stroke="#000" stroke-opacity="0.34" stroke-width="0.42">
<polyline points="134.5,133.3 131.1,131.1 127.6,128.8 124.2,126.4 120.7,123.8 117.3,121 113.8,117.9 110.4,114.5 106.9,111.7 103.5,109.4 100,107.4 96.6,105.5 93.2,103.8 89.7,102.3 86.3,100.8 82.8,99.4 79.4,98 75.9,96.7 72.5,95.5 69,94.3 65.6,93.1"/>
<polyline points="137.9,133.4 134.5,131.1 131,128.9 127.6,126.4 124.1,123.8 120.7,121 117.3,117.9 113.8,114.6 110.4,111.8 106.9,109.5 103.5,107.5 100,105.6 96.6,103.9 93.1,102.4 89.7,100.9 86.3,99.5 82.8,98.1 79.4,96.9 75.9,95.6 72.5,94.5 69,93.4"/>
<polyline points="141.3,133.5 137.9,131.2 134.5,128.9 131,126.4 127.6,123.8 124.1,121 120.7,118 117.2,114.7 113.8,111.9 110.3,109.6 106.9,107.5 103.5,105.7 100,104 96.6,102.4 93.1,101 89.7,99.5 86.2,98.2 82.8,97 79.3,95.8 75.9,94.7 72.5,93.6"/>
<polyline points="144.8,133.5 141.3,131.2 137.9,128.8 134.4,126.3 131,123.7 127.6,120.9 124.1,117.9 120.7,114.6 117.2,111.9 113.8,109.6 110.3,107.5 106.9,105.6 103.4,103.9 100,102.4 96.6,100.9 93.1,99.5 89.7,98.2 86.2,97 82.8,95.8 79.3,94.7 75.9,93.7"/>
<polyline points="148.2,133.3 144.8,131 141.3,128.6 137.9,126.1 134.4,123.5 131,120.7 127.5,117.7 124.1,114.5 120.6,111.7 117.2,109.4 113.8,107.4 110.3,105.5 106.9,103.8 103.4,102.3 100,100.8 96.5,99.4 93.1,98.1 89.7,96.9 86.2,95.8 82.8,94.8 79.3,93.7"/>
<polyline points="151.6,133 148.2,130.6 144.7,128.2 141.3,125.7 137.9,123.1 134.4,120.3 131,117.3 127.5,114.2 124.1,111.5 120.6,109.2 117.2,107.1 113.7,105.2 110.3,103.6 106.9,102 103.4,100.6 100,99.2 96.5,97.9 93.1,96.8 89.6,95.7 86.2,94.7 82.8,93.7"/>
<polyline points="155,132.5 151.6,130.1 148.2,127.8 144.7,125.2 141.3,122.6 137.8,119.8 134.4,116.9 130.9,113.8 127.5,111.1 124.1,108.8 120.6,106.7 117.2,104.9 113.7,103.2 110.3,101.6 106.8,100.2 103.4,98.9 100,97.6 96.5,96.5 93.1,95.4 89.6,94.5 86.2,93.5"/>
<polyline points="158.5,131.9 155,129.6 151.6,127.2 148.1,124.6 144.7,122 141.3,119.2 137.8,116.3 134.4,113.2 130.9,110.5 127.5,108.3 124,106.2 120.6,104.3 117.2,102.6 113.7,101.1 110.3,99.7 106.8,98.3 103.4,97.1 99.9,96 96.5,95 93.1,94.1 89.6,93.2"/>
<polyline points="161.9,131.3 158.5,128.9 155,126.5 151.6,123.9 148.1,121.2 144.7,118.5 141.2,115.6 137.8,112.5 134.4,109.9 130.9,107.6 127.5,105.5 124,103.7 120.6,102 117.1,100.4 113.7,99 110.3,97.7 106.8,96.5 103.4,95.4 99.9,94.4 96.5,93.5 93,92.7"/>
<polyline points="165.3,130.5 161.9,128.1 158.4,125.7 155,123.1 151.6,120.4 148.1,117.6 144.7,114.7 141.2,111.7 137.8,109.1 134.3,106.8 130.9,104.8 127.5,102.9 124,101.2 120.6,99.6 117.1,98.2 113.7,96.9 110.2,95.7 106.8,94.6 103.4,93.7 99.9,92.9 96.5,92"/>
<polyline points="168.8,129.7 165.3,127.2 161.9,124.7 158.4,122.1 155,119.4 151.5,116.6 148.1,113.8 144.7,110.8 141.2,108.2 137.8,105.9 134.3,103.8 130.9,101.9 127.4,100.2 124,98.7 120.6,97.2 117.1,95.9 113.7,94.7 110.2,93.7 106.8,92.8 103.3,92 99.9,91.2"/>
<polyline points="172.2,128.7 168.7,126.2 165.3,123.7 161.8,121.1 158.4,118.3 155,115.5 151.5,112.7 148.1,109.8 144.6,107.2 141.2,104.9 137.8,102.7 134.3,100.8 130.9,99.1 127.4,97.5 124,96.1 120.5,94.8 117.1,93.6 113.7,92.6 110.2,91.7 106.8,90.9 103.3,90.1"/>
<polyline points="175.6,127.7 172.2,125.1 168.7,122.6 165.3,119.9 161.8,117.2 158.4,114.4 154.9,111.5 151.5,108.6 148.1,106 144.6,103.7 141.2,101.6 137.7,99.6 134.3,97.9 130.9,96.3 127.4,94.9 124,93.6 120.5,92.4 117.1,91.4 113.6,90.5 110.2,89.8 106.8,89"/>
<polyline points="179,126.5 175.6,123.9 172.1,121.3 168.7,118.7 165.3,115.9 161.8,113.1 158.4,110.2 154.9,107.4 151.5,104.8 148,102.5 144.6,100.4 141.2,98.4 137.7,96.7 134.3,95.1 130.8,93.7 127.4,92.4 124,91.2 120.5,90.2 117.1,89.4 113.6,88.7 110.2,87.9"/>
<polyline points="182.4,125.1 179,122.5 175.6,119.9 172.1,117.2 168.7,114.5 165.2,111.7 161.8,108.9 158.4,106.1 154.9,103.5 151.5,101.2 148,99.1 144.6,97.2 141.2,95.4 137.7,93.9 134.3,92.5 130.8,91.2 127.4,90 123.9,89 120.5,88.3 117.1,87.6 113.6,86.9"/>
<polyline points="185.9,123.5 182.4,120.9 179,118.3 175.6,115.6 172.1,112.9 168.7,110.1 165.2,107.3 161.8,104.6 158.3,102.1 154.9,99.8 151.5,97.7 148,95.8 144.6,94 141.1,92.5 137.7,91.1 134.3,89.9 130.8,88.7 127.4,87.8 123.9,87.1 120.5,86.5 117,85.8"/>
<polyline points="189.3,121.7 185.9,119.1 182.4,116.5 179,113.9 175.5,111.1 172.1,108.4 168.7,105.6 165.2,103 161.8,100.5 158.3,98.3 154.9,96.2 151.4,94.3 148,92.6 144.6,91.1 141.1,89.7 137.7,88.5 134.2,87.4 130.8,86.6 127.4,85.9 123.9,85.3 120.5,84.8"/>
<polyline points="192.7,119.8 189.3,117.3 185.8,114.7 182.4,112 179,109.3 175.5,106.6 172.1,103.9 168.6,101.3 165.2,98.9 161.8,96.7 158.3,94.6 154.9,92.7 151.4,91.1 148,89.6 144.6,88.3 141.1,87.1 137.7,86.1 134.2,85.3 130.8,84.7 127.4,84.2 123.9,83.7"/>
<polyline points="196.2,117.8 192.7,115.2 189.3,112.7 185.8,110 182.4,107.3 178.9,104.6 175.5,102 172.1,99.5 168.6,97.2 165.2,95 161.7,92.9 158.3,91.1 154.9,89.5 151.4,88 148,86.8 144.5,85.6 141.1,84.7 137.7,83.9 134.2,83.4 130.8,83 127.3,82.6"/>
<polyline points="199.6,115.6 196.1,113 192.7,110.5 189.3,107.8 185.8,105.1 182.4,102.5 178.9,99.9 175.5,97.5 172.1,95.2 168.6,93 165.2,91 161.7,89.2 158.3,87.6 154.9,86.2 151.4,85 148,83.9 144.5,82.9 141.1,82.3 137.7,81.8 134.2,81.4 130.8,81.1"/>
<polyline points="203,113.3 199.6,110.8 196.1,108.2 192.7,105.5 189.2,102.9 185.8,100.3 182.4,97.7 178.9,95.4 175.5,93.1 172,91 168.6,89 165.2,87.2 161.7,85.6 158.3,84.2 154.8,83 151.4,81.9 148,81 144.5,80.4 141.1,80 137.6,79.7 134.2,79.4"/>
<polyline points="134.5,133.3 137.9,133.4 141.3,133.5 144.8,133.5 148.2,133.3 151.6,133 155,132.5 158.5,131.9 161.9,131.3 165.3,130.5 168.8,129.7 172.2,128.7 175.6,127.7 179,126.5 182.4,125.1 185.9,123.5 189.3,121.7 192.7,119.8 196.2,117.8 199.6,115.6 203,113.3"/>
<polyline points="131.1,131.1 134.5,131.1 137.9,131.2 141.3,131.2 144.8,131 148.2,130.6 151.6,130.1 155,129.6 158.5,128.9 161.9,128.1 165.3,127.2 168.7,126.2 172.2,125.1 175.6,123.9 179,122.5 182.4,120.9 185.9,119.1 189.3,117.3 192.7,115.2 196.1,113 199.6,110.8"/>
<polyline points="127.6,128.8 131,128.9 134.5,128.9 137.9,128.8 141.3,128.6 144.7,128.2 148.2,127.8 151.6,127.2 155,126.5 158.4,125.7 161.9,124.7 165.3,123.7 168.7,122.6 172.1,121.3 175.6,119.9 179,118.3 182.4,116.5 185.8,114.7 189.3,112.7 192.7,110.5 196.1,108.2"/>
<polyline points="124.2,126.4 127.6,126.4 131,126.4 134.4,126.3 137.9,126.1 141.3,125.7 144.7,125.2 148.1,124.6 151.6,123.9 155,123.1 158.4,122.1 161.8,121.1 165.3,119.9 168.7,118.7 172.1,117.2 175.6,115.6 179,113.9 182.4,112 185.8,110 189.3,107.8 192.7,105.5"/>
<polyline points="120.7,123.8 124.1,123.8 127.6,123.8 131,123.7 134.4,123.5 137.9,123.1 141.3,122.6 144.7,122 148.1,121.2 151.6,120.4 155,119.4 158.4,118.3 161.8,117.2 165.3,115.9 168.7,114.5 172.1,112.9 175.5,111.1 179,109.3 182.4,107.3 185.8,105.1 189.2,102.9"/>
<polyline points="117.3,121 120.7,121 124.1,121 127.6,120.9 131,120.7 134.4,120.3 137.8,119.8 141.3,119.2 144.7,118.5 148.1,117.6 151.5,116.6 155,115.5 158.4,114.4 161.8,113.1 165.2,111.7 168.7,110.1 172.1,108.4 175.5,106.6 178.9,104.6 182.4,102.5 185.8,100.3"/>
<polyline points="113.8,117.9 117.3,117.9 120.7,118 124.1,117.9 127.5,117.7 131,117.3 134.4,116.9 137.8,116.3 141.2,115.6 144.7,114.7 148.1,113.8 151.5,112.7 154.9,111.5 158.4,110.2 161.8,108.9 165.2,107.3 168.7,105.6 172.1,103.9 175.5,102 178.9,99.9 182.4,97.7"/>
<polyline points="110.4,114.5 113.8,114.6 117.2,114.7 120.7,114.6 124.1,114.5 127.5,114.2 130.9,113.8 134.4,113.2 137.8,112.5 141.2,111.7 144.7,110.8 148.1,109.8 151.5,108.6 154.9,107.4 158.4,106.1 161.8,104.6 165.2,103 168.6,101.3 172.1,99.5 175.5,97.5 178.9,95.4"/>
<polyline points="106.9,111.7 110.4,111.8 113.8,111.9 117.2,111.9 120.6,111.7 124.1,111.5 127.5,111.1 130.9,110.5 134.4,109.9 137.8,109.1 141.2,108.2 144.6,107.2 148.1,106 151.5,104.8 154.9,103.5 158.3,102.1 161.8,100.5 165.2,98.9 168.6,97.2 172.1,95.2 175.5,93.1"/>
<polyline points="103.5,109.4 106.9,109.5 110.3,109.6 113.8,109.6 117.2,109.4 120.6,109.2 124.1,108.8 127.5,108.3 130.9,107.6 134.3,106.8 137.8,105.9 141.2,104.9 144.6,103.7 148,102.5 151.5,101.2 154.9,99.8 158.3,98.3 161.8,96.7 165.2,95 168.6,93 172,91"/>
<polyline points="100,107.4 103.5,107.5 106.9,107.5 110.3,107.5 113.8,107.4 117.2,107.1 120.6,106.7 124,106.2 127.5,105.5 130.9,104.8 134.3,103.8 137.8,102.7 141.2,101.6 144.6,100.4 148,99.1 151.5,97.7 154.9,96.2 158.3,94.6 161.7,92.9 165.2,91 168.6,89"/>
<polyline points="96.6,105.5 100,105.6 103.5,105.7 106.9,105.6 110.3,105.5 113.7,105.2 117.2,104.9 120.6,104.3 124,103.7 127.5,102.9 130.9,101.9 134.3,100.8 137.7,99.6 141.2,98.4 144.6,97.2 148,95.8 151.4,94.3 154.9,92.7 158.3,91.1 161.7,89.2 165.2,87.2"/>
<polyline points="93.2,103.8 96.6,103.9 100,104 103.4,103.9 106.9,103.8 110.3,103.6 113.7,103.2 117.2,102.6 120.6,102 124,101.2 127.4,100.2 130.9,99.1 134.3,97.9 137.7,96.7 141.2,95.4 144.6,94 148,92.6 151.4,91.1 154.9,89.5 158.3,87.6 161.7,85.6"/>
<polyline points="89.7,102.3 93.1,102.4 96.6,102.4 100,102.4 103.4,102.3 106.9,102 110.3,101.6 113.7,101.1 117.1,100.4 120.6,99.6 124,98.7 127.4,97.5 130.9,96.3 134.3,95.1 137.7,93.9 141.1,92.5 144.6,91.1 148,89.6 151.4,88 154.9,86.2 158.3,84.2"/>
<polyline points="86.3,100.8 89.7,100.9 93.1,101 96.6,100.9 100,100.8 103.4,100.6 106.8,100.2 110.3,99.7 113.7,99 117.1,98.2 120.6,97.2 124,96.1 127.4,94.9 130.8,93.7 134.3,92.5 137.7,91.1 141.1,89.7 144.6,88.3 148,86.8 151.4,85 154.8,83"/>
<polyline points="82.8,99.4 86.3,99.5 89.7,99.5 93.1,99.5 96.5,99.4 100,99.2 103.4,98.9 106.8,98.3 110.3,97.7 113.7,96.9 117.1,95.9 120.5,94.8 124,93.6 127.4,92.4 130.8,91.2 134.3,89.9 137.7,88.5 141.1,87.1 144.5,85.6 148,83.9 151.4,81.9"/>
<polyline points="79.4,98 82.8,98.1 86.2,98.2 89.7,98.2 93.1,98.1 96.5,97.9 100,97.6 103.4,97.1 106.8,96.5 110.2,95.7 113.7,94.7 117.1,93.6 120.5,92.4 124,91.2 127.4,90 130.8,88.7 134.2,87.4 137.7,86.1 141.1,84.7 144.5,82.9 148,81"/>
<polyline points="75.9,96.7 79.4,96.9 82.8,97 86.2,97 89.7,96.9 93.1,96.8 96.5,96.5 99.9,96 103.4,95.4 106.8,94.6 110.2,93.7 113.7,92.6 117.1,91.4 120.5,90.2 123.9,89 127.4,87.8 130.8,86.6 134.2,85.3 137.7,83.9 141.1,82.3 144.5,80.4"/>
<polyline points="72.5,95.5 75.9,95.6 79.3,95.8 82.8,95.8 86.2,95.8 89.6,95.7 93.1,95.4 96.5,95 99.9,94.4 103.4,93.7 106.8,92.8 110.2,91.7 113.6,90.5 117.1,89.4 120.5,88.3 123.9,87.1 127.4,85.9 130.8,84.7 134.2,83.4 137.7,81.8 141.1,80"/>
<polyline points="69,94.3 72.5,94.5 75.9,94.7 79.3,94.7 82.8,94.8 86.2,94.7 89.6,94.5 93.1,94.1 96.5,93.5 99.9,92.9 103.3,92 106.8,90.9 110.2,89.8 113.6,88.7 117.1,87.6 120.5,86.5 123.9,85.3 127.4,84.2 130.8,83 134.2,81.4 137.6,79.7"/>
<polyline points="65.6,93.1 69,93.4 72.5,93.6 75.9,93.7 79.3,93.7 82.8,93.7 86.2,93.5 89.6,93.2 93,92.7 96.5,92 99.9,91.2 103.3,90.1 106.8,89 110.2,87.9 113.6,86.9 117,85.8 120.5,84.8 123.9,83.7 127.3,82.6 130.8,81.1 134.2,79.4"/>
</g>
<rect x="132.7" y="101.1" width="3" height="4" rx="0.8" fill="#b00000"/>
<line x1="289.6" y1="69.1" x2="292.9" y2="145" stroke="#bdbdbd" stroke-width="0.9"/>
<line x1="305" y1="65.6" x2="307.6" y2="140.3" stroke="#bdbdbd" stroke-width="0.9"/>
<line x1="320.4" y1="62.1" x2="322.3" y2="135.5" stroke="#bdbdbd" stroke-width="0.9"/>
<line x1="335.7" y1="58.5" x2="337.1" y2="130.8" stroke="#bdbdbd" stroke-width="0.9"/>
<line x1="351.1" y1="55" x2="351.8" y2="126" stroke="#bdbdbd" stroke-width="0.9"/>
<line x1="366.5" y1="51.5" x2="366.5" y2="121.3" stroke="#bdbdbd" stroke-width="0.9"/>
<line x1="289.6" y1="69.1" x2="366.5" y2="51.5" stroke="#7a7a7a" stroke-width="0.5"/>
<line x1="290.3" y1="84.3" x2="366.5" y2="65.5" stroke="#7a7a7a" stroke-width="0.5"/>
<line x1="290.9" y1="99.5" x2="366.5" y2="79.4" stroke="#7a7a7a" stroke-width="0.5"/>
<line x1="291.6" y1="114.6" x2="366.5" y2="93.4" stroke="#7a7a7a" stroke-width="0.5"/>
<line x1="292.2" y1="129.8" x2="366.5" y2="107.3" stroke="#7a7a7a" stroke-width="0.5"/>
<line x1="292.9" y1="145" x2="366.5" y2="121.3" stroke="#7a7a7a" stroke-width="0.5"/>
<line x1="366.5" y1="51.5" x2="366.5" y2="121.3" stroke="#bdbdbd" stroke-width="0.9"/>
<line x1="379.4" y1="54.5" x2="378.9" y2="125" stroke="#bdbdbd" stroke-width="0.9"/>
<line x1="392.3" y1="57.4" x2="391.4" y2="128.7" stroke="#bdbdbd" stroke-width="0.9"/>
<line x1="405.2" y1="60.4" x2="403.9" y2="132.4" stroke="#bdbdbd" stroke-width="0.9"/>
<line x1="418.2" y1="63.3" x2="416.3" y2="136.2" stroke="#bdbdbd" stroke-width="0.9"/>
<line x1="431.1" y1="66.2" x2="428.8" y2="139.9" stroke="#bdbdbd" stroke-width="0.9"/>
<line x1="444" y1="69.2" x2="441.2" y2="143.6" stroke="#bdbdbd" stroke-width="0.9"/>
<line x1="366.5" y1="51.5" x2="444" y2="69.2" stroke="#7a7a7a" stroke-width="0.5"/>
<line x1="366.5" y1="65.5" x2="443.4" y2="84.1" stroke="#7a7a7a" stroke-width="0.5"/>
<line x1="366.5" y1="79.4" x2="442.9" y2="99" stroke="#7a7a7a" stroke-width="0.5"/>
<line x1="366.5" y1="93.4" x2="442.3" y2="113.8" stroke="#7a7a7a" stroke-width="0.5"/>
<line x1="366.5" y1="107.3" x2="441.8" y2="128.7" stroke="#7a7a7a" stroke-width="0.5"/>
<line x1="366.5" y1="121.3" x2="441.2" y2="143.6" stroke="#7a7a7a" stroke-width="0.5"/>
<line x1="289.6" y1="69.1" x2="366.5" y2="51.5" stroke="#808080" stroke-width="0.5"/>
<line x1="366.5" y1="51.5" x2="444" y2="69.2" stroke="#808080" stroke-width="0.5"/>
<line x1="289.6" y1="69.1" x2="293.5" y2="168.9" stroke="#707070" stroke-width="0.6"/>
<line x1="366.5" y1="51.5" x2="366.7" y2="141.8" stroke="#b4b4b4" stroke-width="0.8"/>
<line x1="444" y1="69.2" x2="439.8" y2="169" stroke="#b4b4b4" stroke-width="0.8"/>
<circle cx="289.6" cy="69.1" r="0.6" fill="#111"/>
<text x="288" y="70.1" font-size="2.9" fill="#666" text-anchor="end" >1.5</text>
<circle cx="290.3" cy="84.3" r="0.6" fill="#111"/>
<text x="288.7" y="85.3" font-size="2.9" fill="#666" text-anchor="end" >1.4</text>
<circle cx="290.9" cy="99.5" r="0.6" fill="#111"/>
<text x="289.3" y="100.5" font-size="2.9" fill="#666" text-anchor="end" >1.3</text>
<circle cx="291.6" cy="114.6" r="0.6" fill="#111"/>
<text x="290" y="115.7" font-size="2.9" fill="#666" text-anchor="end" >1.2</text>
<circle cx="292.2" cy="129.8" r="0.6" fill="#111"/>
<text x="290.6" y="130.9" font-size="2.9" fill="#666" text-anchor="end" >1.1</text>
<circle cx="292.9" cy="145" r="0.6" fill="#111"/>
<text x="291.3" y="146" font-size="2.9" fill="#666" text-anchor="end" >1</text>
<polygon points="293.5,168.9 366.7,141.8 439.8,169 367,204.4" fill="#6b6b6b" stroke="#555" stroke-width="0.4"/>
<clipPath id="fl2"><polygon points="293.5,168.9 366.7,141.8 439.8,169 367,204.4"/></clipPath>
<g clip-path="url(#fl2)">
<path d="M301.2,165.2 C301.7,166.1 302.9,168.6 304.0,170.5 C305.1,172.4 307.0,175.6 307.6,176.6" fill="none" stroke="#30c8c8" stroke-width="1"/>
<path d="M311.5,163.0 C311.8,164.1 312.3,167.2 313.2,169.5 C314.1,171.8 315.2,174.5 316.8,176.6 C318.4,178.7 320.3,180.4 322.5,182.0 C324.7,183.6 327.2,184.8 329.9,186.2 C332.6,187.6 335.4,189.1 338.5,190.6 C341.6,192.1 345.1,193.6 348.3,195.0 C351.5,196.4 354.4,197.9 357.5,199.3 C360.6,200.7 365.2,202.9 366.7,203.6" fill="none" stroke="#30c0b0" stroke-width="1"/>
<path d="M323.4,159.5 C323.5,160.5 323.4,163.5 323.8,165.5 C324.2,167.5 325.0,169.4 326.0,171.4 C327.0,173.4 328.5,175.6 330.0,177.6 C331.5,179.6 332.9,181.4 335.2,183.2 C337.4,185.0 340.4,186.8 343.5,188.3 C346.6,189.8 350.0,191.1 353.6,192.4 C357.2,193.7 361.1,195.1 365.0,196.2 C368.9,197.3 374.1,198.5 377.2,199.0 C380.3,199.5 382.7,199.2 383.8,199.2" fill="none" stroke="#38c088" stroke-width="1"/>
<path d="M339.1,155.6 C339.0,156.7 338.4,160.2 338.4,162.4 C338.4,164.6 338.4,166.7 339.1,168.7 C339.8,170.7 341.2,172.7 342.7,174.5 C344.2,176.3 346.0,177.7 348.3,179.3 C350.6,180.9 353.4,182.7 356.5,184.2 C359.6,185.7 363.4,187.2 366.7,188.4 C370.0,189.6 373.0,190.5 376.5,191.4 C380.0,192.3 384.9,193.2 387.7,193.7 C390.4,194.2 392.1,194.4 393.0,194.5" fill="none" stroke="#40c060" stroke-width="1"/>
<path d="M372.0,147.2 C370.8,147.6 366.7,148.6 364.5,149.6 C362.3,150.6 360.2,151.7 358.8,153.0 C357.4,154.3 356.6,156.1 356.2,157.6 C355.8,159.1 355.9,160.6 356.2,162.2 C356.5,163.8 357.3,165.7 358.2,167.2 C359.1,168.7 359.8,169.9 361.5,171.4 C363.2,172.9 365.8,174.6 368.4,175.9 C371.0,177.2 374.0,178.2 377.2,179.3 C380.4,180.5 384.2,181.7 387.7,182.8 C391.2,183.9 395.1,185.0 398.2,185.8 C401.3,186.7 404.8,187.6 406.1,187.9" fill="none" stroke="#48c840" stroke-width="1"/>
</g>
<circle cx="293.5" cy="168.9" r="0.55" fill="#111"/>
<text x="291.5" y="171.9" font-size="3.0" fill="#555" text-anchor="end" >33</text>
<circle cx="305.8" cy="174.8" r="0.55" fill="#111"/>
<text x="303.8" y="177.8" font-size="3.0" fill="#555" text-anchor="end" >32</text>
<circle cx="318" cy="180.7" r="0.55" fill="#111"/>
<text x="316" y="183.7" font-size="3.0" fill="#555" text-anchor="end" >31</text>
<circle cx="330.2" cy="186.7" r="0.55" fill="#111"/>
<text x="328.2" y="189.6" font-size="3.0" fill="#555" text-anchor="end" >30</text>
<circle cx="342.5" cy="192.6" r="0.55" fill="#111"/>
<text x="340.5" y="195.5" font-size="3.0" fill="#555" text-anchor="end" >29</text>
<circle cx="354.8" cy="198.5" r="0.55" fill="#111"/>
<text x="352.8" y="201.5" font-size="3.0" fill="#555" text-anchor="end" >28</text>
<circle cx="367" cy="204.4" r="0.55" fill="#111"/>
<text x="365" y="207.4" font-size="3.0" fill="#555" text-anchor="end" >27</text>
<circle cx="367" cy="204.4" r="0.55" fill="#111"/>
<text x="368.4" y="207.4" font-size="3.0" fill="#555" >35</text>
<circle cx="381.6" cy="197.3" r="0.55" fill="#111"/>
<text x="383" y="200.3" font-size="3.0" fill="#555" >37</text>
<circle cx="396.1" cy="190.2" r="0.55" fill="#111"/>
<text x="397.5" y="193.2" font-size="3.0" fill="#555" >39</text>
<circle cx="410.7" cy="183.2" r="0.55" fill="#111"/>
<text x="412.1" y="186.1" font-size="3.0" fill="#555" >41</text>
<circle cx="425.2" cy="176.1" r="0.55" fill="#111"/>
<text x="426.6" y="179.1" font-size="3.0" fill="#555" >43</text>
<circle cx="439.8" cy="169" r="0.55" fill="#111"/>
<text x="441.2" y="172" font-size="3.0" fill="#555" >45</text>
<text x="302.3" y="198.8" font-size="3.6" fill="#444" text-anchor="middle" textLength="19.5" lengthAdjust="spacingAndGlyphs" >C: Temp (0 C)</text>
<text x="430.1" y="198.8" font-size="3.6" fill="#444" text-anchor="middle" textLength="14.5" lengthAdjust="spacingAndGlyphs" >B: MP (%)</text>
<text x="265.8" y="120.6" font-size="3.6" fill="#444" text-anchor="middle" textLength="12" lengthAdjust="spacingAndGlyphs"  transform="rotate(-90 265.8 120.6)">TF (num)</text>
<text x="379.1" y="25.1" font-size="5.6" fill="#333" text-anchor="middle" textLength="25.3" lengthAdjust="spacingAndGlyphs" >3D Surface</text>
<polygon points="366.6,153 370.4,149 374.1,145.1 377.9,141.3 381.6,137.7 385.4,134.2 389.1,131 392.9,128.1 396.6,125.4 400.4,123 404.2,120.8 407.9,118.8 411.7,117 415.4,115.4 419.2,114 422.9,112.8 426.7,111.9 430.4,111.2 434.2,110.5 437.9,109.9 441.7,109.3 441.7,109.3 437.9,108.2 434.2,107.1 430.4,105.9 426.7,104.8 422.9,103.7 419.2,102.5 415.4,101.4 411.7,100.3 407.9,99.2 404.1,98.2 400.4,97.2 396.6,96.3 392.9,95.5 389.1,94.7 385.4,94.1 381.6,93.7 377.9,93.3 374.1,93 370.4,92.8 366.6,92.7 366.6,92.7 362.9,93.1 359.2,93.7 355.5,94.5 351.8,95.4 348.2,96.5 344.5,97.8 340.8,99.4 337.1,101.2 333.4,103.1 329.7,105.2 326,107.5 322.3,109.8 318.6,112.4 314.9,115 311.2,117.6 307.6,120.2 303.9,122.8 300.2,125.4 296.5,127.9 292.8,130.4 292.8,130.4 296.5,131.4 300.2,132.3 303.9,133 307.6,133.6 311.2,134.3 314.9,135 318.6,135.8 322.3,136.6 326,137.5 329.7,138.5 333.4,139.6 337.1,140.8 340.8,142.2 344.5,143.8 348.2,145.3 351.8,146.8 355.5,148.3 359.2,149.7 362.9,151.3 366.6,153" fill="#00cd19"/>
<path fill="#6bea44" d="M366.7,93.2l3.7,-0.5 -3.8,-0.1 -3.7,0.4z"/>
<path fill="#68ea44" d="M363,93.8l3.7,-0.6 -3.8,-0.1 -3.7,0.6z"/>
<path fill="#6deb44" d="M370.4,93.5l3.7,-0.5 -3.8,-0.2 -3.7,0.5z"/>
<path fill="#64ea44" d="M359.3,94.7l3.7,-0.8 -3.7,-0.2 -3.7,0.8z"/>
<path fill="#6aeb44" d="M366.7,94.1l3.7,-0.6 -3.8,-0.2 -3.7,0.6z"/>
<path fill="#6eec44" d="M374.2,93.8l3.7,-0.5 -3.8,-0.3 -3.7,0.5z"/>
<path fill="#66eb44" d="M363,94.9l3.7,-0.8 -3.7,-0.2 -3.7,0.8z"/>
<path fill="#6cec44" d="M370.5,94.4l3.7,-0.6 -3.8,-0.3 -3.7,0.6z"/>
<path fill="#5fea44" d="M355.6,95.6l3.7,-0.9 -3.7,-0.2 -3.7,0.9z"/>
<path fill="#71ed44" d="M377.9,94.2l3.7,-0.5 -3.8,-0.4 -3.7,0.5z"/>
<path fill="#59ea44" d="M351.9,96.7l3.7,-1.1 -3.7,-0.2 -3.7,1.1z"/>
<path fill="#61eb44" d="M359.3,95.9l3.7,-1 -3.7,-0.3 -3.7,0.9z"/>
<path fill="#68ec44" d="M366.8,95.3l3.7,-0.8 -3.7,-0.3 -3.7,0.8z"/>
<path fill="#6ded44" d="M374.2,94.8l3.7,-0.6 -3.8,-0.4 -3.7,0.6z"/>
<path fill="#72ee44" d="M381.7,94.6l3.7,-0.5 -3.8,-0.5 -3.7,0.5z"/>
<path fill="#5ceb44" d="M355.6,97l3.7,-1.1 -3.7,-0.3 -3.7,1.1z"/>
<path fill="#6fee44" d="M378,95.3l3.7,-0.6 -3.8,-0.5 -3.7,0.6z"/>
<path fill="#53ea44" d="M348.2,98.1l3.7,-1.4 -3.7,-0.2 -3.7,1.3z"/>
<path fill="#63ec44" d="M363.1,96.2l3.7,-0.9 -3.7,-0.3 -3.7,1z"/>
<path fill="#69ed44" d="M370.5,95.6l3.7,-0.8 -3.7,-0.4 -3.7,0.8z"/>
<path fill="#73ee44" d="M385.4,95.3l3.7,-0.5 -3.8,-0.6 -3.7,0.5z"/>
<path fill="#4cea44" d="M344.5,99.7l3.7,-1.6 -3.7,-0.2 -3.7,1.6z"/>
<path fill="#55eb44" d="M351.9,98.4l3.7,-1.4 -3.7,-0.3 -3.7,1.4z"/>
<path fill="#5dec44" d="M359.4,97.3l3.7,-1.1 -3.7,-0.3 -3.7,1.1z"/>
<path fill="#65ed44" d="M366.8,96.6l3.7,-0.9 -3.7,-0.4 -3.7,0.9z"/>
<path fill="#6bee44" d="M374.3,96.1l3.7,-0.8 -3.7,-0.5 -3.7,0.8z"/>
<path fill="#70ee44" d="M381.7,95.9l3.7,-0.6 -3.8,-0.6 -3.7,0.6z"/>
<path fill="#75ef44" d="M389.2,96l3.7,-0.5 -3.8,-0.7 -3.7,0.5z"/>
<path fill="#44ea46" d="M340.8,101.5l3.7,-1.8 -3.7,-0.3 -3.7,1.8z"/>
<path fill="#4eeb44" d="M348.2,100l3.7,-1.6 -3.7,-0.3 -3.7,1.6z"/>
<path fill="#57ec44" d="M355.7,98.7l3.7,-1.4 -3.7,-0.3 -3.7,1.4z"/>
<path fill="#5fed44" d="M363.1,97.7l3.7,-1.1 -3.7,-0.4 -3.7,1.1z"/>
<path fill="#66ee44" d="M370.5,97l3.7,-0.9 -3.7,-0.5 -3.7,0.9z"/>
<path fill="#6cee44" d="M378,96.7l3.7,-0.8 -3.7,-0.6 -3.7,0.8z"/>
<path fill="#71ef44" d="M385.5,96.6l3.7,-0.6 -3.8,-0.7 -3.7,0.6z"/>
<path fill="#76f044" d="M392.9,96.8l3.7,-0.5 -3.8,-0.8 -3.7,0.5z"/>
<path fill="#46eb44" d="M344.5,101.8l3.7,-1.8 -3.7,-0.3 -3.7,1.8z"/>
<path fill="#50ec44" d="M352,100.3l3.7,-1.6 -3.7,-0.3 -3.7,1.6z"/>
<path fill="#60ee44" d="M366.8,98.1l3.7,-1.1 -3.7,-0.4 -3.7,1.1z"/>
<path fill="#6def44" d="M381.7,97.4l3.7,-0.8 -3.7,-0.7 -3.7,0.8z"/>
<path fill="#72f044" d="M389.2,97.4l3.7,-0.6 -3.8,-0.8 -3.7,0.6z"/>
<path fill="#44ea4f" d="M337.1,103.4l3.7,-1.9 -3.7,-0.3 -3.7,1.9z"/>
<path fill="#59ed44" d="M359.4,99l3.7,-1.4 -3.7,-0.3 -3.7,1.4z"/>
<path fill="#67ee44" d="M374.3,97.6l3.7,-0.9 -3.7,-0.6 -3.7,0.9z"/>
<path fill="#78f144" d="M396.7,97.7l3.7,-0.5 -3.8,-0.9 -3.7,0.5z"/>
<path fill="#44ea59" d="M333.4,105.6l3.7,-2.1 -3.7,-0.3 -3.7,2.1z"/>
<path fill="#44eb4c" d="M340.8,103.7l3.7,-2 -3.7,-0.3 -3.7,1.9z"/>
<path fill="#48ec44" d="M348.3,102.1l3.7,-1.8 -3.7,-0.3 -3.7,1.8z"/>
<path fill="#52ed44" d="M355.7,100.6l3.7,-1.6 -3.7,-0.3 -3.7,1.6z"/>
<path fill="#5aee44" d="M363.1,99.4l3.7,-1.3 -3.7,-0.4 -3.7,1.4z"/>
<path fill="#61ee44" d="M370.6,98.6l3.7,-1.1 -3.7,-0.6 -3.7,1.1z"/>
<path fill="#68ef44" d="M378,98.2l3.7,-0.9 -3.7,-0.7 -3.7,0.9z"/>
<path fill="#6df044" d="M385.5,98.1l3.7,-0.7 -3.7,-0.8 -3.7,0.8z"/>
<path fill="#73f144" d="M393,98.3l3.7,-0.6 -3.8,-0.9 -3.7,0.6z"/>
<path fill="#79f144" d="M400.4,98.7l3.7,-0.5 -3.8,-1 -3.7,0.5z"/>
<path fill="#44eb56" d="M337.1,105.9l3.7,-2.1 -3.7,-0.3 -3.7,2.1z"/>
<path fill="#52ee44" d="M359.4,101l3.7,-1.6 -3.7,-0.4 -3.7,1.6z"/>
<path fill="#62ef44" d="M374.3,99.3l3.7,-1.1 -3.7,-0.7 -3.7,1.1z"/>
<path fill="#74f144" d="M396.7,99.2l3.7,-0.6 -3.8,-1 -3.7,0.6z"/>
<path fill="#44ea63" d="M329.7,107.8l3.7,-2.3 -3.7,-0.3 -3.7,2.3z"/>
<path fill="#44ec4a" d="M344.6,104l3.7,-2 -3.7,-0.3 -3.7,2z"/>
<path fill="#49ed44" d="M352,102.4l3.7,-1.8 -3.7,-0.3 -3.7,1.8z"/>
<path fill="#5bee44" d="M366.9,100l3.7,-1.3 -3.7,-0.5 -3.7,1.3z"/>
<path fill="#68f044" d="M381.8,99l3.7,-0.8 -3.7,-0.8 -3.7,0.9z"/>
<path fill="#6ef144" d="M389.2,99l3.7,-0.7 -3.7,-0.9 -3.7,0.7z"/>
<path fill="#7af244" d="M404.2,99.7l3.7,-0.5 -3.8,-1 -3.7,0.5z"/>
<path fill="#44ea6e" d="M326,110.2l3.7,-2.4 -3.7,-0.4 -3.7,2.4z"/>
<path fill="#44eb60" d="M333.4,108.2l3.7,-2.3 -3.7,-0.3 -3.7,2.3z"/>
<path fill="#44ec54" d="M340.9,106.2l3.7,-2.1 -3.7,-0.3 -3.7,2.1z"/>
<path fill="#44ed48" d="M348.3,104.4l3.7,-1.9 -3.7,-0.3 -3.7,2z"/>
<path fill="#4aee44" d="M355.7,102.8l3.7,-1.8 -3.7,-0.4 -3.7,1.8z"/>
<path fill="#53ee44" d="M363.2,101.5l3.7,-1.6 -3.7,-0.5 -3.7,1.6z"/>
<path fill="#5bef44" d="M370.6,100.6l3.7,-1.3 -3.7,-0.7 -3.7,1.3z"/>
<path fill="#62f044" d="M378.1,100l3.7,-1 -3.7,-0.8 -3.7,1.1z"/>
<path fill="#68f144" d="M385.5,99.8l3.7,-0.8 -3.7,-0.9 -3.7,0.8z"/>
<path fill="#6ef144" d="M393,99.9l3.7,-0.7 -3.7,-1 -3.7,0.7z"/>
<path fill="#75f244" d="M400.5,100.3l3.7,-0.6 -3.8,-1 -3.7,0.6z"/>
<path fill="#7bf344" d="M407.9,100.8l3.7,-0.5 -3.8,-1.1 -3.7,0.5z"/>
<path fill="#44ea7a" d="M322.3,112.8l3.7,-2.6 -3.7,-0.4 -3.7,2.5z"/>
<path fill="#44eb6c" d="M329.8,110.6l3.7,-2.4 -3.7,-0.4 -3.7,2.4z"/>
<path fill="#44ec5f" d="M337.2,108.5l3.7,-2.3 -3.7,-0.3 -3.7,2.3z"/>
<path fill="#44ed52" d="M344.6,106.5l3.7,-2.1 -3.7,-0.3 -3.7,2.1z"/>
<path fill="#44ee48" d="M352,104.7l3.7,-1.9 -3.7,-0.4 -3.7,1.9z"/>
<path fill="#4bee44" d="M359.5,103.3l3.7,-1.8 -3.7,-0.5 -3.7,1.8z"/>
<path fill="#54ef44" d="M366.9,102.1l3.7,-1.5 -3.7,-0.6 -3.7,1.6z"/>
<path fill="#5bf044" d="M374.3,101.3l3.7,-1.3 -3.7,-0.7 -3.7,1.3z"/>
<path fill="#62f144" d="M381.8,100.8l3.7,-1 -3.7,-0.8 -3.7,1z"/>
<path fill="#68f144" d="M389.3,100.7l3.7,-0.8 -3.7,-0.9 -3.7,0.8z"/>
<path fill="#6ff244" d="M396.7,101l3.7,-0.7 -3.7,-1 -3.7,0.7z"/>
<path fill="#75f344" d="M404.2,101.4l3.7,-0.6 -3.8,-1.1 -3.7,0.6z"/>
<path fill="#7df444" d="M411.7,101.9l3.7,-0.5 -3.8,-1.1 -3.7,0.5z"/>
<path fill="#44ea87" d="M318.6,115.5l3.7,-2.7 -3.7,-0.4 -3.7,2.6z"/>
<path fill="#44eb78" d="M326.1,113.2l3.7,-2.6 -3.7,-0.4 -3.7,2.6z"/>
<path fill="#44ec6a" d="M333.5,110.9l3.7,-2.4 -3.7,-0.3 -3.7,2.4z"/>
<path fill="#44ee51" d="M348.3,106.8l3.7,-2.1 -3.7,-0.4 -3.7,2.1z"/>
<path fill="#4bef44" d="M363.2,103.9l3.7,-1.7 -3.7,-0.6 -3.7,1.8z"/>
<path fill="#54f044" d="M370.6,102.8l3.7,-1.5 -3.7,-0.7 -3.7,1.5z"/>
<path fill="#62f144" d="M385.5,101.7l3.7,-1 -3.7,-0.9 -3.7,1z"/>
<path fill="#6ff344" d="M400.5,102l3.7,-0.7 -3.7,-1.1 -3.7,0.7z"/>
<path fill="#76f444" d="M408,102.5l3.7,-0.6 -3.8,-1.1 -3.7,0.6z"/>
<path fill="#7ef444" d="M415.4,103l3.7,-0.5 -3.8,-1.1 -3.7,0.5z"/>
<path fill="#44ed5d" d="M340.9,108.8l3.7,-2.3 -3.7,-0.3 -3.7,2.3z"/>
<path fill="#44ee47" d="M355.7,105.2l3.7,-1.9 -3.7,-0.5 -3.7,1.9z"/>
<path fill="#5bf144" d="M378.1,102.1l3.7,-1.3 -3.7,-0.8 -3.7,1.3z"/>
<path fill="#68f244" d="M393,101.7l3.7,-0.8 -3.7,-1 -3.7,0.8z"/>
<path fill="#44ea96" d="M315,118.1l3.7,-2.7 -3.7,-0.5 -3.7,2.6z"/>
<path fill="#44eb85" d="M322.4,115.9l3.7,-2.7 -3.7,-0.4 -3.7,2.7z"/>
<path fill="#44ec76" d="M329.8,113.5l3.7,-2.6 -3.7,-0.3 -3.7,2.6z"/>
<path fill="#44ed69" d="M337.2,111.2l3.7,-2.4 -3.7,-0.3 -3.7,2.4z"/>
<path fill="#44ee5c" d="M344.6,109.1l3.7,-2.3 -3.7,-0.4 -3.7,2.3z"/>
<path fill="#44ee50" d="M352,107.3l3.7,-2.1 -3.7,-0.5 -3.7,2.1z"/>
<path fill="#44ef46" d="M359.5,105.8l3.7,-1.9 -3.7,-0.6 -3.7,1.9z"/>
<path fill="#4bf044" d="M366.9,104.5l3.7,-1.7 -3.7,-0.7 -3.7,1.7z"/>
<path fill="#53f144" d="M374.4,103.6l3.7,-1.5 -3.7,-0.8 -3.7,1.5z"/>
<path fill="#5af144" d="M381.8,103l3.7,-1.2 -3.7,-0.9 -3.7,1.3z"/>
<path fill="#61f244" d="M389.3,102.7l3.7,-1 -3.7,-1 -3.7,1z"/>
<path fill="#67f344" d="M396.7,102.8l3.7,-0.8 -3.7,-1.1 -3.7,0.8z"/>
<path fill="#6ef444" d="M404.2,103.1l3.7,-0.6 -3.7,-1.1 -3.7,0.7z"/>
<path fill="#76f444" d="M411.7,103.6l3.7,-0.6 -3.8,-1.2 -3.7,0.6z"/>
<path fill="#7ff544" d="M419.2,104.2l3.7,-0.5 -3.8,-1.1 -3.7,0.5z"/>
<path fill="#44eb94" d="M318.7,118.6l3.7,-2.7 -3.7,-0.4 -3.7,2.7z"/>
<path fill="#44ef50" d="M355.8,107.9l3.7,-2.1 -3.7,-0.6 -3.7,2.1z"/>
<path fill="#52f144" d="M378.1,104.5l3.7,-1.5 -3.7,-0.9 -3.7,1.5z"/>
<path fill="#76f544" d="M415.4,104.8l3.7,-0.6 -3.8,-1.2 -3.7,0.6z"/>
<path fill="#44eaa4" d="M311.3,120.8l3.7,-2.7 -3.7,-0.5 -3.7,2.6z"/>
<path fill="#44ec83" d="M326.1,116.2l3.7,-2.7 -3.7,-0.3 -3.7,2.7z"/>
<path fill="#44ed75" d="M333.5,113.8l3.7,-2.6 -3.7,-0.3 -3.7,2.6z"/>
<path fill="#44ee68" d="M340.9,111.6l3.7,-2.4 -3.7,-0.4 -3.7,2.4z"/>
<path fill="#44ee5c" d="M348.3,109.6l3.7,-2.3 -3.7,-0.5 -3.7,2.3z"/>
<path fill="#44f047" d="M363.2,106.4l3.7,-1.9 -3.7,-0.7 -3.7,1.9z"/>
<path fill="#4af144" d="M370.6,105.3l3.7,-1.7 -3.7,-0.8 -3.7,1.7z"/>
<path fill="#59f244" d="M385.6,103.9l3.7,-1.2 -3.7,-1 -3.7,1.2z"/>
<path fill="#60f344" d="M393,103.7l3.7,-1 -3.7,-1 -3.7,1z"/>
<path fill="#66f444" d="M400.5,103.9l3.7,-0.7 -3.7,-1.1 -3.7,0.8z"/>
<path fill="#6ef444" d="M408,104.3l3.7,-0.6 -3.7,-1.2 -3.7,0.6z"/>
<path fill="#80f644" d="M422.9,105.3l3.7,-0.5 -3.8,-1.1 -3.7,0.5z"/>
<path fill="#44eba3" d="M315,121.4l3.7,-2.7 -3.7,-0.5 -3.7,2.7z"/>
<path fill="#76f644" d="M419.2,106l3.7,-0.6 -3.8,-1.1 -3.7,0.6z"/>
<path fill="#44eab4" d="M307.6,123.5l3.7,-2.7 -3.7,-0.6 -3.7,2.6z"/>
<path fill="#44ec92" d="M322.4,119l3.7,-2.8 -3.7,-0.3 -3.7,2.7z"/>
<path fill="#44ed82" d="M329.8,116.6l3.7,-2.7 -3.7,-0.3 -3.7,2.7z"/>
<path fill="#44ee74" d="M337.2,114.2l3.7,-2.6 -3.7,-0.4 -3.7,2.6z"/>
<path fill="#44ee67" d="M344.6,112l3.7,-2.4 -3.7,-0.5 -3.7,2.4z"/>
<path fill="#44ef5b" d="M352,110.1l3.7,-2.3 -3.7,-0.5 -3.7,2.3z"/>
<path fill="#44f051" d="M359.5,108.5l3.7,-2.1 -3.7,-0.6 -3.7,2.1z"/>
<path fill="#44f148" d="M366.9,107.1l3.7,-1.9 -3.7,-0.7 -3.7,1.9z"/>
<path fill="#49f144" d="M374.4,106.1l3.7,-1.7 -3.7,-0.9 -3.7,1.7z"/>
<path fill="#51f244" d="M381.8,105.4l3.7,-1.4 -3.7,-0.9 -3.7,1.5z"/>
<path fill="#58f344" d="M389.3,104.9l3.7,-1.2 -3.7,-1 -3.7,1.2z"/>
<path fill="#5ef444" d="M396.8,104.8l3.7,-0.9 -3.7,-1.1 -3.7,1z"/>
<path fill="#65f444" d="M404.2,105l3.7,-0.7 -3.7,-1.2 -3.7,0.7z"/>
<path fill="#6df544" d="M411.7,105.5l3.7,-0.6 -3.7,-1.2 -3.7,0.6z"/>
<path fill="#81f744" d="M426.7,106.5l3.7,-0.5 -3.8,-1.1 -3.7,0.5z"/>
<path fill="#44eac4" d="M303.9,126.2l3.7,-2.7 -3.7,-0.7 -3.7,2.6z"/>
<path fill="#44ebb2" d="M311.3,124.1l3.7,-2.8 -3.7,-0.5 -3.7,2.7z"/>
<path fill="#44eca0" d="M318.7,121.8l3.7,-2.8 -3.7,-0.4 -3.7,2.7z"/>
<path fill="#44ed90" d="M326.1,119.3l3.7,-2.8 -3.7,-0.3 -3.7,2.8z"/>
<path fill="#44ee81" d="M333.5,116.9l3.7,-2.7 -3.7,-0.4 -3.7,2.7z"/>
<path fill="#44ee74" d="M340.9,114.6l3.7,-2.6 -3.7,-0.5 -3.7,2.6z"/>
<path fill="#44ef66" d="M348.3,112.6l3.7,-2.4 -3.7,-0.5 -3.7,2.4z"/>
<path fill="#44f05c" d="M355.8,110.7l3.7,-2.3 -3.7,-0.6 -3.7,2.3z"/>
<path fill="#44f152" d="M363.2,109.2l3.7,-2.1 -3.7,-0.7 -3.7,2.1z"/>
<path fill="#44f149" d="M370.6,108l3.7,-1.8 -3.7,-0.8 -3.7,1.9z"/>
<path fill="#48f244" d="M378.1,107l3.7,-1.6 -3.7,-0.9 -3.7,1.7z"/>
<path fill="#4ff344" d="M385.6,106.4l3.7,-1.4 -3.7,-1 -3.7,1.4z"/>
<path fill="#56f444" d="M393,106l3.7,-1.2 -3.7,-1.1 -3.7,1.2z"/>
<path fill="#5df444" d="M400.5,106l3.7,-0.9 -3.7,-1.2 -3.7,0.9z"/>
<path fill="#64f544" d="M408,106.2l3.7,-0.7 -3.7,-1.2 -3.7,0.7z"/>
<path fill="#6cf644" d="M415.5,106.6l3.7,-0.6 -3.7,-1.1 -3.7,0.6z"/>
<path fill="#76f744" d="M422.9,107.1l3.7,-0.6 -3.8,-1.1 -3.7,0.6z"/>
<path fill="#82f744" d="M430.4,107.6l3.7,-0.5 -3.8,-1.1 -3.7,0.5z"/>
<path fill="#44ead5" d="M300.2,128.8l3.7,-2.6 -3.7,-0.8 -3.7,2.5z"/>
<path fill="#44ebc3" d="M307.6,126.9l3.7,-2.7 -3.7,-0.6 -3.7,2.7z"/>
<path fill="#44ecb0" d="M315,124.6l3.7,-2.8 -3.7,-0.4 -3.7,2.8z"/>
<path fill="#44ed9f" d="M322.4,122.2l3.7,-2.8 -3.7,-0.3 -3.7,2.8z"/>
<path fill="#44ee8f" d="M329.8,119.7l3.7,-2.8 -3.7,-0.4 -3.7,2.8z"/>
<path fill="#44ee80" d="M337.2,117.4l3.7,-2.7 -3.7,-0.5 -3.7,2.7z"/>
<path fill="#44ef73" d="M344.6,115.2l3.7,-2.6 -3.7,-0.5 -3.7,2.6z"/>
<path fill="#44f067" d="M352,113.2l3.7,-2.4 -3.7,-0.6 -3.7,2.4z"/>
<path fill="#44f153" d="M366.9,110l3.7,-2 -3.7,-0.8 -3.7,2.1z"/>
<path fill="#46f344" d="M381.8,108l3.7,-1.6 -3.7,-1 -3.7,1.6z"/>
<path fill="#4df444" d="M389.3,107.4l3.7,-1.4 -3.7,-1.1 -3.7,1.4z"/>
<path fill="#53f444" d="M396.8,107.2l3.7,-1.2 -3.7,-1.2 -3.7,1.2z"/>
<path fill="#5af544" d="M404.2,107.1l3.7,-0.9 -3.7,-1.2 -3.7,0.9z"/>
<path fill="#62f644" d="M411.7,107.3l3.7,-0.7 -3.7,-1.1 -3.7,0.7z"/>
<path fill="#6bf744" d="M419.2,107.7l3.7,-0.6 -3.7,-1.1 -3.7,0.6z"/>
<path fill="#76f744" d="M426.7,108.3l3.7,-0.6 -3.8,-1.1 -3.7,0.6z"/>
<path fill="#83f844" d="M434.2,108.8l3.8,-0.6 -3.8,-1.1 -3.7,0.5z"/>
<path fill="#44f15d" d="M359.5,111.4l3.7,-2.2 -3.7,-0.7 -3.7,2.3z"/>
<path fill="#44f24a" d="M374.4,108.8l3.7,-1.8 -3.7,-0.9 -3.7,1.8z"/>
<path fill="#44eae7" d="M296.5,131.4l3.7,-2.6 -3.7,-0.9 -3.7,2.5z"/>
<path fill="#44ebd4" d="M303.9,129.6l3.7,-2.7 -3.7,-0.7 -3.7,2.6z"/>
<path fill="#44ecc1" d="M311.3,127.4l3.7,-2.8 -3.7,-0.5 -3.7,2.7z"/>
<path fill="#44edaf" d="M318.7,125l3.7,-2.9 -3.7,-0.4 -3.7,2.8z"/>
<path fill="#44ee9f" d="M326.1,122.6l3.7,-2.9 -3.7,-0.4 -3.7,2.8z"/>
<path fill="#44ee8e" d="M333.5,120.2l3.7,-2.8 -3.7,-0.5 -3.7,2.8z"/>
<path fill="#44ef81" d="M340.9,117.9l3.7,-2.7 -3.7,-0.5 -3.7,2.7z"/>
<path fill="#44f073" d="M348.3,115.7l3.7,-2.6 -3.7,-0.6 -3.7,2.6z"/>
<path fill="#44f168" d="M355.8,113.8l3.7,-2.4 -3.7,-0.7 -3.7,2.4z"/>
<path fill="#44f15d" d="M363.2,112.2l3.7,-2.2 -3.7,-0.8 -3.7,2.2z"/>
<path fill="#44f255" d="M370.6,110.9l3.7,-2 -3.7,-0.9 -3.7,2z"/>
<path fill="#44f34d" d="M378.1,109.8l3.7,-1.8 -3.7,-1 -3.7,1.8z"/>
<path fill="#44f446" d="M385.6,109.1l3.7,-1.6 -3.7,-1.1 -3.7,1.6z"/>
<path fill="#4af444" d="M393,108.6l3.7,-1.4 -3.7,-1.2 -3.7,1.4z"/>
<path fill="#50f544" d="M400.5,108.3l3.7,-1.2 -3.7,-1.2 -3.7,1.2z"/>
<path fill="#57f644" d="M408,108.3l3.7,-0.9 -3.7,-1.1 -3.7,0.9z"/>
<path fill="#60f744" d="M415.5,108.5l3.7,-0.7 -3.7,-1.1 -3.7,0.7z"/>
<path fill="#69f744" d="M422.9,108.9l3.7,-0.6 -3.7,-1.1 -3.7,0.6z"/>
<path fill="#75f844" d="M430.4,109.4l3.8,-0.6 -3.8,-1.1 -3.7,0.6z"/>
<path fill="#84f944" d="M437.9,109.9l3.8,-0.6 -3.8,-1.1 -3.8,0.6z"/>
<path fill="#44ebe6" d="M300.2,132.3l3.7,-2.7 -3.7,-0.8 -3.7,2.6z"/>
<path fill="#44ef8e" d="M337.2,120.7l3.7,-2.8 -3.7,-0.5 -3.7,2.8z"/>
<path fill="#46f544" d="M396.8,109.7l3.7,-1.4 -3.7,-1.2 -3.7,1.4z"/>
<path fill="#75f944" d="M434.2,110.5l3.8,-0.7 -3.8,-1.1 -3.8,0.6z"/>
<path fill="#44ecd2" d="M307.6,130.2l3.7,-2.8 -3.7,-0.5 -3.7,2.7z"/>
<path fill="#44edc0" d="M315,127.9l3.7,-2.9 -3.7,-0.4 -3.7,2.8z"/>
<path fill="#44eeae" d="M322.4,125.5l3.7,-2.9 -3.7,-0.4 -3.7,2.9z"/>
<path fill="#44ee9e" d="M329.8,123.1l3.7,-2.9 -3.7,-0.5 -3.7,2.9z"/>
<path fill="#44f080" d="M344.6,118.5l3.7,-2.7 -3.7,-0.6 -3.7,2.7z"/>
<path fill="#44f174" d="M352,116.4l3.7,-2.6 -3.7,-0.7 -3.7,2.6z"/>
<path fill="#44f169" d="M359.5,114.6l3.7,-2.4 -3.7,-0.8 -3.7,2.4z"/>
<path fill="#44f260" d="M366.9,113.1l3.7,-2.2 -3.7,-0.9 -3.7,2.2z"/>
<path fill="#44f357" d="M374.4,111.8l3.7,-2 -3.7,-1 -3.7,2z"/>
<path fill="#44f44f" d="M381.8,110.9l3.7,-1.8 -3.7,-1.1 -3.7,1.8z"/>
<path fill="#44f449" d="M389.3,110.2l3.7,-1.6 -3.7,-1.1 -3.7,1.6z"/>
<path fill="#4df644" d="M404.2,109.5l3.7,-1.2 -3.7,-1.1 -3.7,1.2z"/>
<path fill="#54f744" d="M411.7,109.4l3.7,-0.9 -3.7,-1.1 -3.7,0.9z"/>
<path fill="#5df744" d="M419.2,109.6l3.7,-0.7 -3.7,-1.1 -3.7,0.7z"/>
<path fill="#68f844" d="M426.7,110l3.8,-0.6 -3.7,-1.1 -3.7,0.6z"/>
<path fill="#44ece5" d="M303.9,133l3.7,-2.8 -3.7,-0.6 -3.7,2.7z"/>
<path fill="#44eebe" d="M318.7,128.4l3.7,-2.9 -3.7,-0.5 -3.7,2.9z"/>
<path fill="#44ef9d" d="M333.5,123.7l3.7,-2.9 -3.7,-0.5 -3.7,2.9z"/>
<path fill="#44f08e" d="M340.9,121.3l3.7,-2.8 -3.7,-0.6 -3.7,2.8z"/>
<path fill="#44f175" d="M355.8,117.2l3.7,-2.6 -3.7,-0.8 -3.7,2.6z"/>
<path fill="#44f45a" d="M378.1,112.9l3.7,-2 -3.7,-1.1 -3.7,2z"/>
<path fill="#44f54d" d="M393,111.4l3.7,-1.6 -3.7,-1.2 -3.7,1.6z"/>
<path fill="#44f646" d="M400.5,110.9l3.7,-1.4 -3.7,-1.1 -3.7,1.4z"/>
<path fill="#51f744" d="M415.4,110.5l3.7,-0.9 -3.7,-1.1 -3.7,0.9z"/>
<path fill="#66f944" d="M430.4,111.2l3.8,-0.6 -3.7,-1.2 -3.8,0.6z"/>
<path fill="#44edd1" d="M311.3,130.7l3.7,-2.9 -3.7,-0.5 -3.7,2.8z"/>
<path fill="#44eead" d="M326.1,126l3.7,-3 -3.7,-0.5 -3.7,2.9z"/>
<path fill="#44f181" d="M348.3,119.2l3.7,-2.7 -3.7,-0.7 -3.7,2.7z"/>
<path fill="#44f26b" d="M363.2,115.4l3.7,-2.4 -3.7,-0.9 -3.7,2.4z"/>
<path fill="#44f362" d="M370.6,114l3.7,-2.2 -3.7,-0.9 -3.7,2.2z"/>
<path fill="#44f453" d="M385.6,112l3.7,-1.8 -3.7,-1.1 -3.7,1.8z"/>
<path fill="#49f744" d="M408,110.6l3.7,-1.2 -3.7,-1.1 -3.7,1.2z"/>
<path fill="#5af844" d="M422.9,110.7l3.8,-0.7 -3.7,-1.1 -3.7,0.7z"/>
<path fill="#44efad" d="M329.8,126.7l3.7,-3 -3.7,-0.6 -3.7,3z"/>
<path fill="#44f182" d="M352,119.9l3.7,-2.7 -3.7,-0.8 -3.7,2.7z"/>
<path fill="#44f45d" d="M381.8,114l3.7,-2 -3.7,-1.1 -3.7,2z"/>
<path fill="#44f74a" d="M404.2,112l3.7,-1.4 -3.7,-1.1 -3.7,1.4z"/>
<path fill="#44ede4" d="M307.6,133.6l3.7,-2.9 -3.7,-0.6 -3.7,2.8z"/>
<path fill="#44eed0" d="M315,131.3l3.7,-2.9 -3.7,-0.5 -3.7,2.9z"/>
<path fill="#44eebe" d="M322.4,129l3.7,-3 -3.7,-0.6 -3.7,2.9z"/>
<path fill="#44f09d" d="M337.2,124.3l3.7,-3 -3.7,-0.6 -3.7,2.9z"/>
<path fill="#44f18f" d="M344.6,122l3.7,-2.9 -3.7,-0.7 -3.7,2.8z"/>
<path fill="#44f277" d="M359.5,118l3.7,-2.6 -3.7,-0.8 -3.7,2.6z"/>
<path fill="#44f36d" d="M366.9,116.4l3.7,-2.4 -3.7,-0.9 -3.7,2.4z"/>
<path fill="#44f465" d="M374.4,115l3.7,-2.2 -3.7,-1.1 -3.7,2.2z"/>
<path fill="#44f556" d="M389.3,113.2l3.7,-1.8 -3.7,-1.1 -3.7,1.8z"/>
<path fill="#44f650" d="M396.7,112.5l3.7,-1.6 -3.7,-1.1 -3.7,1.6z"/>
<path fill="#45f744" d="M411.7,111.7l3.7,-1.2 -3.7,-1.1 -3.7,1.2z"/>
<path fill="#4ef844" d="M419.2,111.6l3.8,-0.9 -3.7,-1.1 -3.7,0.9z"/>
<path fill="#57f944" d="M426.7,111.9l3.8,-0.7 -3.7,-1.2 -3.8,0.7z"/>
<path fill="#44eee2" d="M311.2,134.3l3.7,-2.9 -3.7,-0.6 -3.7,2.9z"/>
<path fill="#44efbd" d="M326.1,129.7l3.7,-3 -3.7,-0.6 -3.7,3z"/>
<path fill="#44f0ac" d="M333.5,127.3l3.7,-3 -3.7,-0.6 -3.7,3z"/>
<path fill="#44f190" d="M348.3,122.8l3.7,-2.9 -3.7,-0.8 -3.7,2.9z"/>
<path fill="#44f283" d="M355.7,120.8l3.7,-2.7 -3.7,-0.8 -3.7,2.7z"/>
<path fill="#44f379" d="M363.2,118.9l3.7,-2.6 -3.7,-0.9 -3.7,2.6z"/>
<path fill="#44f470" d="M370.6,117.4l3.7,-2.4 -3.7,-1.1 -3.7,2.4z"/>
<path fill="#44f468" d="M378.1,116.2l3.7,-2.2 -3.7,-1.1 -3.7,2.2z"/>
<path fill="#44f561" d="M385.5,115.1l3.7,-2 -3.7,-1.1 -3.7,2z"/>
<path fill="#44f755" d="M400.5,113.6l3.7,-1.6 -3.7,-1.1 -3.7,1.6z"/>
<path fill="#44f74f" d="M408,113.1l3.7,-1.4 -3.7,-1.1 -3.7,1.4z"/>
<path fill="#49f944" d="M422.9,112.8l3.8,-0.9 -3.7,-1.2 -3.8,0.9z"/>
<path fill="#44eecf" d="M318.6,132l3.7,-3 -3.7,-0.6 -3.7,2.9z"/>
<path fill="#44f19d" d="M340.9,125l3.7,-3 -3.7,-0.7 -3.7,3z"/>
<path fill="#44f65b" d="M393,114.3l3.7,-1.8 -3.7,-1.1 -3.7,1.8z"/>
<path fill="#44f848" d="M415.4,112.8l3.8,-1.2 -3.7,-1.1 -3.7,1.2z"/>
<path fill="#44eee2" d="M314.9,135l3.7,-3 -3.7,-0.7 -3.7,2.9z"/>
<path fill="#44efce" d="M322.3,132.7l3.7,-3 -3.7,-0.7 -3.7,3z"/>
<path fill="#44f0bc" d="M329.8,130.4l3.7,-3.1 -3.7,-0.7 -3.7,3z"/>
<path fill="#44f1ac" d="M337.2,128.1l3.7,-3.1 -3.7,-0.7 -3.7,3z"/>
<path fill="#44f19d" d="M344.6,125.8l3.7,-3 -3.7,-0.8 -3.7,3z"/>
<path fill="#44f291" d="M352,123.6l3.7,-2.9 -3.7,-0.8 -3.7,2.9z"/>
<path fill="#44f385" d="M359.5,121.7l3.7,-2.8 -3.7,-0.9 -3.7,2.7z"/>
<path fill="#44f47b" d="M366.9,120l3.7,-2.6 -3.7,-1.1 -3.7,2.6z"/>
<path fill="#44f473" d="M374.3,118.6l3.7,-2.4 -3.7,-1.1 -3.7,2.4z"/>
<path fill="#44f56c" d="M381.8,117.3l3.7,-2.2 -3.7,-1.1 -3.7,2.2z"/>
<path fill="#44f666" d="M389.3,116.2l3.7,-2 -3.7,-1.1 -3.7,2z"/>
<path fill="#44f760" d="M396.7,115.4l3.7,-1.8 -3.7,-1.1 -3.7,1.8z"/>
<path fill="#44f75a" d="M404.2,114.7l3.7,-1.6 -3.7,-1.1 -3.7,1.6z"/>
<path fill="#44f854" d="M411.7,114.2l3.8,-1.4 -3.7,-1.1 -3.7,1.4z"/>
<path fill="#44f94d" d="M419.2,114l3.8,-1.2 -3.7,-1.2 -3.8,1.2z"/>
<path fill="#44efe0" d="M318.6,135.8l3.7,-3.1 -3.7,-0.7 -3.7,3z"/>
<path fill="#44f95a" d="M415.4,115.4l3.8,-1.4 -3.7,-1.2 -3.8,1.4z"/>
<path fill="#44f0cd" d="M326,133.5l3.7,-3.1 -3.7,-0.7 -3.7,3z"/>
<path fill="#44f1bc" d="M333.4,131.2l3.7,-3.1 -3.7,-0.8 -3.7,3.1z"/>
<path fill="#44f1ac" d="M340.9,128.9l3.7,-3.1 -3.7,-0.8 -3.7,3.1z"/>
<path fill="#44f29e" d="M348.3,126.7l3.7,-3 -3.7,-0.9 -3.7,3z"/>
<path fill="#44f392" d="M355.7,124.6l3.7,-2.9 -3.7,-0.9 -3.7,2.9z"/>
<path fill="#44f488" d="M363.2,122.8l3.7,-2.8 -3.7,-1.1 -3.7,2.8z"/>
<path fill="#44f47e" d="M370.6,121.2l3.7,-2.6 -3.7,-1.2 -3.7,2.6z"/>
<path fill="#44f577" d="M378.1,119.7l3.7,-2.4 -3.7,-1.2 -3.7,2.4z"/>
<path fill="#44f670" d="M385.5,118.4l3.7,-2.2 -3.7,-1.1 -3.7,2.2z"/>
<path fill="#44f76b" d="M393,117.3l3.7,-2 -3.7,-1.1 -3.7,2z"/>
<path fill="#44f765" d="M400.5,116.5l3.7,-1.8 -3.7,-1.1 -3.7,1.8z"/>
<path fill="#44f860" d="M407.9,115.8l3.8,-1.6 -3.7,-1.1 -3.7,1.6z"/>
<path fill="#44f0df" d="M322.3,136.6l3.7,-3.1 -3.7,-0.8 -3.7,3.1z"/>
<path fill="#44f1bc" d="M337.1,132.1l3.7,-3.1 -3.7,-0.8 -3.7,3.1z"/>
<path fill="#44f39f" d="M352,127.7l3.7,-3.1 -3.7,-1 -3.7,3z"/>
<path fill="#44f494" d="M359.4,125.7l3.7,-2.9 -3.7,-1.1 -3.7,2.9z"/>
<path fill="#44f48a" d="M366.9,124l3.7,-2.8 -3.7,-1.2 -3.7,2.8z"/>
<path fill="#44f582" d="M374.3,122.4l3.7,-2.6 -3.7,-1.2 -3.7,2.6z"/>
<path fill="#44f67b" d="M381.8,120.9l3.7,-2.4 -3.7,-1.1 -3.7,2.4z"/>
<path fill="#44f770" d="M396.7,118.4l3.7,-2 -3.7,-1.1 -3.7,2z"/>
<path fill="#44f966" d="M411.7,117l3.8,-1.6 -3.7,-1.2 -3.8,1.6z"/>
<path fill="#44f1cc" d="M329.7,134.3l3.7,-3.1 -3.7,-0.8 -3.7,3.1z"/>
<path fill="#44f2ad" d="M344.6,129.9l3.7,-3.2 -3.7,-0.9 -3.7,3.1z"/>
<path fill="#44f775" d="M389.2,119.5l3.7,-2.2 -3.7,-1.1 -3.7,2.2z"/>
<path fill="#44f86b" d="M404.2,117.6l3.8,-1.8 -3.7,-1.1 -3.7,1.8z"/>
<path fill="#44f496" d="M363.1,126.9l3.7,-3 -3.7,-1.2 -3.7,2.9z"/>
<path fill="#44f58d" d="M370.6,125.2l3.7,-2.8 -3.7,-1.2 -3.7,2.8z"/>
<path fill="#44f1de" d="M326,137.5l3.7,-3.2 -3.7,-0.9 -3.7,3.1z"/>
<path fill="#44f1cb" d="M333.4,135.3l3.7,-3.2 -3.7,-0.9 -3.7,3.1z"/>
<path fill="#44f2bc" d="M340.8,133.1l3.7,-3.2 -3.7,-0.9 -3.7,3.1z"/>
<path fill="#44f3ad" d="M348.3,130.9l3.7,-3.2 -3.7,-1 -3.7,3.2z"/>
<path fill="#44f4a0" d="M355.7,128.8l3.7,-3.1 -3.7,-1.1 -3.7,3.1z"/>
<path fill="#44f686" d="M378,123.5l3.7,-2.6 -3.7,-1.1 -3.7,2.6z"/>
<path fill="#44f780" d="M385.5,122l3.7,-2.4 -3.7,-1.1 -3.7,2.4z"/>
<path fill="#44f77a" d="M393,120.6l3.7,-2.2 -3.7,-1.1 -3.7,2.2z"/>
<path fill="#44f876" d="M400.4,119.6l3.8,-2 -3.7,-1.1 -3.7,2z"/>
<path fill="#44f972" d="M407.9,118.8l3.8,-1.8 -3.7,-1.2 -3.8,1.8z"/>
<path fill="#44f1dc" d="M329.7,138.5l3.7,-3.2 -3.7,-0.9 -3.7,3.2z"/>
<path fill="#44f3bb" d="M344.5,134.1l3.7,-3.2 -3.7,-1 -3.7,3.2z"/>
<path fill="#44f4ae" d="M352,132.1l3.7,-3.3 -3.7,-1.2 -3.7,3.2z"/>
<path fill="#44f4a2" d="M359.4,130.1l3.7,-3.2 -3.7,-1.2 -3.7,3.1z"/>
<path fill="#44f599" d="M366.8,128.2l3.7,-3 -3.7,-1.2 -3.7,3z"/>
<path fill="#44f691" d="M374.3,126.3l3.7,-2.8 -3.7,-1.1 -3.7,2.8z"/>
<path fill="#44f78a" d="M381.7,124.6l3.7,-2.6 -3.7,-1.1 -3.7,2.6z"/>
<path fill="#44f785" d="M389.2,123l3.7,-2.4 -3.7,-1.1 -3.7,2.4z"/>
<path fill="#44f97d" d="M404.2,120.8l3.8,-2 -3.7,-1.2 -3.8,2z"/>
<path fill="#44f2cb" d="M337.1,136.3l3.7,-3.2 -3.7,-1 -3.7,3.2z"/>
<path fill="#44f880" d="M396.7,121.8l3.8,-2.2 -3.7,-1.1 -3.7,2.2z"/>
<path fill="#44f2db" d="M333.4,139.6l3.7,-3.3 -3.7,-1 -3.7,3.2z"/>
<path fill="#44f3ca" d="M340.8,137.4l3.7,-3.3 -3.7,-1.1 -3.7,3.2z"/>
<path fill="#44f4bb" d="M348.2,135.4l3.7,-3.3 -3.7,-1.2 -3.7,3.2z"/>
<path fill="#44f4af" d="M355.7,133.4l3.7,-3.3 -3.7,-1.3 -3.7,3.3z"/>
<path fill="#44f5a4" d="M363.1,131.4l3.7,-3.2 -3.7,-1.2 -3.7,3.2z"/>
<path fill="#44f69b" d="M370.5,129.3l3.7,-3 -3.7,-1.1 -3.7,3z"/>
<path fill="#44f795" d="M378,127.4l3.7,-2.8 -3.7,-1.1 -3.7,2.8z"/>
<path fill="#44f790" d="M385.5,125.7l3.7,-2.6 -3.7,-1.1 -3.7,2.6z"/>
<path fill="#44f88b" d="M392.9,124.2l3.8,-2.4 -3.7,-1.1 -3.7,2.4z"/>
<path fill="#44f987" d="M400.4,123l3.8,-2.2 -3.7,-1.2 -3.8,2.2z"/>
<path fill="#44f3da" d="M337.1,140.8l3.7,-3.4 -3.7,-1.2 -3.7,3.3z"/>
<path fill="#44f4ca" d="M344.5,138.8l3.7,-3.4 -3.7,-1.3 -3.7,3.3z"/>
<path fill="#44f4bc" d="M351.9,136.8l3.7,-3.4 -3.7,-1.3 -3.7,3.3z"/>
<path fill="#44f5b0" d="M359.4,134.8l3.7,-3.4 -3.7,-1.3 -3.7,3.3z"/>
<path fill="#44f6a7" d="M366.8,132.6l3.7,-3.3 -3.7,-1.2 -3.7,3.2z"/>
<path fill="#44f79f" d="M374.3,130.5l3.7,-3.1 -3.7,-1.1 -3.7,3z"/>
<path fill="#44f799" d="M381.7,128.5l3.7,-2.9 -3.7,-1.1 -3.7,2.8z"/>
<path fill="#44f895" d="M389.2,126.8l3.8,-2.7 -3.7,-1.1 -3.7,2.6z"/>
<path fill="#44f991" d="M396.6,125.4l3.8,-2.5 -3.7,-1.2 -3.8,2.4z"/>
<path fill="#44f4d8" d="M340.8,142.2l3.7,-3.5 -3.7,-1.3 -3.7,3.4z"/>
<path fill="#44f4c9" d="M348.2,140.2l3.7,-3.4 -3.7,-1.4 -3.7,3.4z"/>
<path fill="#44f5bc" d="M355.6,138.2l3.7,-3.4 -3.7,-1.3 -3.7,3.4z"/>
<path fill="#44f6b2" d="M363.1,136l3.7,-3.4 -3.7,-1.2 -3.7,3.4z"/>
<path fill="#44f7a9" d="M370.5,133.8l3.7,-3.3 -3.7,-1.1 -3.7,3.3z"/>
<path fill="#44f7a3" d="M378,131.6l3.7,-3.1 -3.7,-1.1 -3.7,3.1z"/>
<path fill="#44f89e" d="M385.4,129.7l3.8,-2.9 -3.7,-1.1 -3.7,2.9z"/>
<path fill="#44f99b" d="M392.9,128.1l3.8,-2.7 -3.7,-1.3 -3.8,2.7z"/>
<path fill="#44f4d7" d="M344.5,143.8l3.7,-3.5 -3.7,-1.5 -3.7,3.5z"/>
<path fill="#44f5c8" d="M351.9,141.7l3.7,-3.5 -3.7,-1.4 -3.7,3.4z"/>
<path fill="#44f8a7" d="M381.7,132.8l3.8,-3.1 -3.7,-1.2 -3.7,3.1z"/>
<path fill="#44f9a3" d="M389.1,131l3.8,-2.9 -3.7,-1.3 -3.8,2.9z"/>
<path fill="#44f6bd" d="M359.3,139.5l3.7,-3.5 -3.7,-1.3 -3.7,3.4z"/>
<path fill="#44f7b4" d="M366.8,137.3l3.7,-3.5 -3.7,-1.2 -3.7,3.4z"/>
<path fill="#44f7ac" d="M374.2,135l3.7,-3.4 -3.7,-1.2 -3.7,3.3z"/>
<path fill="#44f5d5" d="M348.2,145.3l3.7,-3.6 -3.7,-1.5 -3.7,3.5z"/>
<path fill="#44f9ac" d="M385.4,134.2l3.8,-3.2 -3.7,-1.3 -3.8,3.1z"/>
<path fill="#44f6c8" d="M355.6,143.1l3.7,-3.6 -3.7,-1.3 -3.7,3.5z"/>
<path fill="#44f7bd" d="M363,140.8l3.7,-3.6 -3.7,-1.3 -3.7,3.5z"/>
<path fill="#44f7b5" d="M370.5,138.5l3.7,-3.5 -3.7,-1.2 -3.7,3.5z"/>
<path fill="#44f8b0" d="M377.9,136.2l3.8,-3.4 -3.7,-1.2 -3.7,3.4z"/>
<path fill="#44f6d3" d="M351.8,146.8l3.7,-3.7 -3.7,-1.4 -3.7,3.6z"/>
<path fill="#44f7c8" d="M359.3,144.5l3.7,-3.7 -3.7,-1.3 -3.7,3.6z"/>
<path fill="#44f7bf" d="M366.7,142.2l3.7,-3.6 -3.7,-1.3 -3.7,3.6z"/>
<path fill="#44f8b8" d="M374.2,139.8l3.8,-3.6 -3.7,-1.2 -3.7,3.5z"/>
<path fill="#44f9b4" d="M381.6,137.7l3.8,-3.5 -3.7,-1.4 -3.8,3.4z"/>
<path fill="#44f7c8" d="M363,145.9l3.7,-3.7 -3.7,-1.3 -3.7,3.7z"/>
<path fill="#44f8c0" d="M370.4,143.5l3.8,-3.7 -3.7,-1.3 -3.7,3.6z"/>
<path fill="#44f7d2" d="M355.5,148.3l3.7,-3.8 -3.7,-1.4 -3.7,3.7z"/>
<path fill="#44f9bb" d="M377.9,141.3l3.8,-3.7 -3.7,-1.4 -3.8,3.6z"/>
<path fill="#44f7d0" d="M359.2,149.7l3.7,-3.9 -3.7,-1.4 -3.7,3.8z"/>
<path fill="#44f8c8" d="M366.7,147.3l3.8,-3.8 -3.7,-1.4 -3.7,3.7z"/>
<path fill="#44f9c1" d="M374.1,145.1l3.8,-3.8 -3.7,-1.5 -3.8,3.7z"/>
<path fill="#44f8cf" d="M362.9,151.3l3.8,-3.9 -3.7,-1.4 -3.7,3.9z"/>
<path fill="#44f9c7" d="M370.4,149l3.8,-3.9 -3.7,-1.6 -3.8,3.8z"/>
<path fill="#44f9cd" d="M366.6,153l3.8,-4 -3.7,-1.6 -3.8,3.9z"/>
<g fill="none" stroke="#000" stroke-opacity="0.34" stroke-width="0.42">
<polyline points="366.6,153 362.9,151.3 359.2,149.7 355.5,148.3 351.8,146.8 348.2,145.3 344.5,143.8 340.8,142.2 337.1,140.8 333.4,139.6 329.7,138.5 326,137.5 322.3,136.6 318.6,135.8 314.9,135 311.2,134.3 307.6,133.6 303.9,133 300.2,132.3 296.5,131.4 292.8,130.4"/>
<polyline points="370.4,149 366.7,147.3 363,145.9 359.3,144.5 355.6,143.1 351.9,141.7 348.2,140.2 344.5,138.8 340.8,137.4 337.1,136.3 333.4,135.3 329.7,134.3 326,133.5 322.3,132.7 318.6,132 315,131.3 311.3,130.7 307.6,130.2 303.9,129.6 300.2,128.8 296.5,127.9"/>
<polyline points="374.1,145.1 370.4,143.5 366.7,142.2 363,140.8 359.3,139.5 355.6,138.2 351.9,136.8 348.2,135.4 344.5,134.1 340.8,133.1 337.1,132.1 333.4,131.2 329.8,130.4 326.1,129.7 322.4,129 318.7,128.4 315,127.9 311.3,127.4 307.6,126.9 303.9,126.2 300.2,125.4"/>
<polyline points="377.9,141.3 374.2,139.8 370.5,138.5 366.8,137.3 363.1,136 359.4,134.8 355.7,133.4 352,132.1 348.3,130.9 344.6,129.9 340.9,128.9 337.2,128.1 333.5,127.3 329.8,126.7 326.1,126 322.4,125.5 318.7,125 315,124.6 311.3,124.1 307.6,123.5 303.9,122.8"/>
<polyline points="381.6,137.7 377.9,136.2 374.2,135 370.5,133.8 366.8,132.6 363.1,131.4 359.4,130.1 355.7,128.8 352,127.7 348.3,126.7 344.6,125.8 340.9,125 337.2,124.3 333.5,123.7 329.8,123.1 326.1,122.6 322.4,122.2 318.7,121.8 315,121.4 311.3,120.8 307.6,120.2"/>
<polyline points="385.4,134.2 381.7,132.8 378,131.6 374.3,130.5 370.5,129.3 366.8,128.2 363.1,126.9 359.4,125.7 355.7,124.6 352,123.6 348.3,122.8 344.6,122 340.9,121.3 337.2,120.7 333.5,120.2 329.8,119.7 326.1,119.3 322.4,119 318.7,118.6 315,118.1 311.2,117.6"/>
<polyline points="389.1,131 385.4,129.7 381.7,128.5 378,127.4 374.3,126.3 370.6,125.2 366.9,124 363.2,122.8 359.5,121.7 355.7,120.8 352,119.9 348.3,119.2 344.6,118.5 340.9,117.9 337.2,117.4 333.5,116.9 329.8,116.6 326.1,116.2 322.4,115.9 318.6,115.5 314.9,115"/>
<polyline points="392.9,128.1 389.2,126.8 385.5,125.7 381.7,124.6 378,123.5 374.3,122.4 370.6,121.2 366.9,120 363.2,118.9 359.5,118 355.8,117.2 352,116.4 348.3,115.7 344.6,115.2 340.9,114.6 337.2,114.2 333.5,113.8 329.8,113.5 326.1,113.2 322.3,112.8 318.6,112.4"/>
<polyline points="396.6,125.4 392.9,124.2 389.2,123 385.5,122 381.8,120.9 378.1,119.7 374.3,118.6 370.6,117.4 366.9,116.4 363.2,115.4 359.5,114.6 355.8,113.8 352,113.2 348.3,112.6 344.6,112 340.9,111.6 337.2,111.2 333.5,110.9 329.8,110.6 326,110.2 322.3,109.8"/>
<polyline points="400.4,123 396.7,121.8 393,120.6 389.2,119.5 385.5,118.4 381.8,117.3 378.1,116.2 374.4,115 370.6,114 366.9,113.1 363.2,112.2 359.5,111.4 355.8,110.7 352,110.1 348.3,109.6 344.6,109.1 340.9,108.8 337.2,108.5 333.4,108.2 329.7,107.8 326,107.5"/>
<polyline points="404.2,120.8 400.4,119.6 396.7,118.4 393,117.3 389.3,116.2 385.5,115.1 381.8,114 378.1,112.9 374.4,111.8 370.6,110.9 366.9,110 363.2,109.2 359.5,108.5 355.8,107.9 352,107.3 348.3,106.8 344.6,106.5 340.9,106.2 337.1,105.9 333.4,105.6 329.7,105.2"/>
<polyline points="407.9,118.8 404.2,117.6 400.5,116.5 396.7,115.4 393,114.3 389.3,113.2 385.6,112 381.8,110.9 378.1,109.8 374.4,108.8 370.6,108 366.9,107.1 363.2,106.4 359.5,105.8 355.7,105.2 352,104.7 348.3,104.4 344.6,104 340.8,103.7 337.1,103.4 333.4,103.1"/>
<polyline points="411.7,117 407.9,115.8 404.2,114.7 400.5,113.6 396.7,112.5 393,111.4 389.3,110.2 385.6,109.1 381.8,108 378.1,107 374.4,106.1 370.6,105.3 366.9,104.5 363.2,103.9 359.5,103.3 355.7,102.8 352,102.4 348.3,102.1 344.5,101.8 340.8,101.5 337.1,101.2"/>
<polyline points="415.4,115.4 411.7,114.2 408,113.1 404.2,112 400.5,110.9 396.8,109.7 393,108.6 389.3,107.4 385.6,106.4 381.8,105.4 378.1,104.5 374.4,103.6 370.6,102.8 366.9,102.1 363.2,101.5 359.4,101 355.7,100.6 352,100.3 348.2,100 344.5,99.7 340.8,99.4"/>
<polyline points="419.2,114 415.4,112.8 411.7,111.7 408,110.6 404.2,109.5 400.5,108.3 396.8,107.2 393,106 389.3,104.9 385.6,103.9 381.8,103 378.1,102.1 374.3,101.3 370.6,100.6 366.9,100 363.1,99.4 359.4,99 355.7,98.7 351.9,98.4 348.2,98.1 344.5,97.8"/>
<polyline points="422.9,112.8 419.2,111.6 415.4,110.5 411.7,109.4 408,108.3 404.2,107.1 400.5,106 396.8,104.8 393,103.7 389.3,102.7 385.5,101.7 381.8,100.8 378.1,100 374.3,99.3 370.6,98.6 366.8,98.1 363.1,97.7 359.4,97.3 355.6,97 351.9,96.7 348.2,96.5"/>
<polyline points="426.7,111.9 422.9,110.7 419.2,109.6 415.5,108.5 411.7,107.3 408,106.2 404.2,105 400.5,103.9 396.7,102.8 393,101.7 389.3,100.7 385.5,99.8 381.8,99 378,98.2 374.3,97.6 370.5,97 366.8,96.6 363.1,96.2 359.3,95.9 355.6,95.6 351.8,95.4"/>
<polyline points="430.4,111.2 426.7,110 422.9,108.9 419.2,107.7 415.5,106.6 411.7,105.5 408,104.3 404.2,103.1 400.5,102 396.7,101 393,99.9 389.2,99 385.5,98.1 381.7,97.4 378,96.7 374.3,96.1 370.5,95.6 366.8,95.3 363,94.9 359.3,94.7 355.5,94.5"/>
<polyline points="434.2,110.5 430.4,109.4 426.7,108.3 422.9,107.1 419.2,106 415.4,104.8 411.7,103.6 408,102.5 404.2,101.4 400.5,100.3 396.7,99.2 393,98.3 389.2,97.4 385.5,96.6 381.7,95.9 378,95.3 374.2,94.8 370.5,94.4 366.7,94.1 363,93.8 359.2,93.7"/>
<polyline points="437.9,109.9 434.2,108.8 430.4,107.6 426.7,106.5 422.9,105.3 419.2,104.2 415.4,103 411.7,101.9 407.9,100.8 404.2,99.7 400.4,98.7 396.7,97.7 392.9,96.8 389.2,96 385.4,95.3 381.7,94.6 377.9,94.2 374.2,93.8 370.4,93.5 366.7,93.2 362.9,93.1"/>
<polyline points="441.7,109.3 437.9,108.2 434.2,107.1 430.4,105.9 426.7,104.8 422.9,103.7 419.2,102.5 415.4,101.4 411.7,100.3 407.9,99.2 404.1,98.2 400.4,97.2 396.6,96.3 392.9,95.5 389.1,94.7 385.4,94.1 381.6,93.7 377.9,93.3 374.1,93 370.4,92.8 366.6,92.7"/>
<polyline points="366.6,153 370.4,149 374.1,145.1 377.9,141.3 381.6,137.7 385.4,134.2 389.1,131 392.9,128.1 396.6,125.4 400.4,123 404.2,120.8 407.9,118.8 411.7,117 415.4,115.4 419.2,114 422.9,112.8 426.7,111.9 430.4,111.2 434.2,110.5 437.9,109.9 441.7,109.3"/>
<polyline points="362.9,151.3 366.7,147.3 370.4,143.5 374.2,139.8 377.9,136.2 381.7,132.8 385.4,129.7 389.2,126.8 392.9,124.2 396.7,121.8 400.4,119.6 404.2,117.6 407.9,115.8 411.7,114.2 415.4,112.8 419.2,111.6 422.9,110.7 426.7,110 430.4,109.4 434.2,108.8 437.9,108.2"/>
<polyline points="359.2,149.7 363,145.9 366.7,142.2 370.5,138.5 374.2,135 378,131.6 381.7,128.5 385.5,125.7 389.2,123 393,120.6 396.7,118.4 400.5,116.5 404.2,114.7 408,113.1 411.7,111.7 415.4,110.5 419.2,109.6 422.9,108.9 426.7,108.3 430.4,107.6 434.2,107.1"/>
<polyline points="355.5,148.3 359.3,144.5 363,140.8 366.8,137.3 370.5,133.8 374.3,130.5 378,127.4 381.7,124.6 385.5,122 389.2,119.5 393,117.3 396.7,115.4 400.5,113.6 404.2,112 408,110.6 411.7,109.4 415.5,108.5 419.2,107.7 422.9,107.1 426.7,106.5 430.4,105.9"/>
<polyline points="351.8,146.8 355.6,143.1 359.3,139.5 363.1,136 366.8,132.6 370.5,129.3 374.3,126.3 378,123.5 381.8,120.9 385.5,118.4 389.3,116.2 393,114.3 396.7,112.5 400.5,110.9 404.2,109.5 408,108.3 411.7,107.3 415.5,106.6 419.2,106 422.9,105.3 426.7,104.8"/>
<polyline points="348.2,145.3 351.9,141.7 355.6,138.2 359.4,134.8 363.1,131.4 366.8,128.2 370.6,125.2 374.3,122.4 378.1,119.7 381.8,117.3 385.5,115.1 389.3,113.2 393,111.4 396.8,109.7 400.5,108.3 404.2,107.1 408,106.2 411.7,105.5 415.4,104.8 419.2,104.2 422.9,103.7"/>
<polyline points="344.5,143.8 348.2,140.2 351.9,136.8 355.7,133.4 359.4,130.1 363.1,126.9 366.9,124 370.6,121.2 374.3,118.6 378.1,116.2 381.8,114 385.6,112 389.3,110.2 393,108.6 396.8,107.2 400.5,106 404.2,105 408,104.3 411.7,103.6 415.4,103 419.2,102.5"/>
<polyline points="340.8,142.2 344.5,138.8 348.2,135.4 352,132.1 355.7,128.8 359.4,125.7 363.2,122.8 366.9,120 370.6,117.4 374.4,115 378.1,112.9 381.8,110.9 385.6,109.1 389.3,107.4 393,106 396.8,104.8 400.5,103.9 404.2,103.1 408,102.5 411.7,101.9 415.4,101.4"/>
<polyline points="337.1,140.8 340.8,137.4 344.5,134.1 348.3,130.9 352,127.7 355.7,124.6 359.5,121.7 363.2,118.9 366.9,116.4 370.6,114 374.4,111.8 378.1,109.8 381.8,108 385.6,106.4 389.3,104.9 393,103.7 396.7,102.8 400.5,102 404.2,101.4 407.9,100.8 411.7,100.3"/>
<polyline points="333.4,139.6 337.1,136.3 340.8,133.1 344.6,129.9 348.3,126.7 352,123.6 355.7,120.8 359.5,118 363.2,115.4 366.9,113.1 370.6,110.9 374.4,108.8 378.1,107 381.8,105.4 385.6,103.9 389.3,102.7 393,101.7 396.7,101 400.5,100.3 404.2,99.7 407.9,99.2"/>
<polyline points="329.7,138.5 333.4,135.3 337.1,132.1 340.9,128.9 344.6,125.8 348.3,122.8 352,119.9 355.8,117.2 359.5,114.6 363.2,112.2 366.9,110 370.6,108 374.4,106.1 378.1,104.5 381.8,103 385.5,101.7 389.3,100.7 393,99.9 396.7,99.2 400.4,98.7 404.1,98.2"/>
<polyline points="326,137.5 329.7,134.3 333.4,131.2 337.2,128.1 340.9,125 344.6,122 348.3,119.2 352,116.4 355.8,113.8 359.5,111.4 363.2,109.2 366.9,107.1 370.6,105.3 374.4,103.6 378.1,102.1 381.8,100.8 385.5,99.8 389.2,99 393,98.3 396.7,97.7 400.4,97.2"/>
<polyline points="322.3,136.6 326,133.5 329.8,130.4 333.5,127.3 337.2,124.3 340.9,121.3 344.6,118.5 348.3,115.7 352,113.2 355.8,110.7 359.5,108.5 363.2,106.4 366.9,104.5 370.6,102.8 374.3,101.3 378.1,100 381.8,99 385.5,98.1 389.2,97.4 392.9,96.8 396.6,96.3"/>
<polyline points="318.6,135.8 322.3,132.7 326.1,129.7 329.8,126.7 333.5,123.7 337.2,120.7 340.9,117.9 344.6,115.2 348.3,112.6 352,110.1 355.8,107.9 359.5,105.8 363.2,103.9 366.9,102.1 370.6,100.6 374.3,99.3 378,98.2 381.7,97.4 385.5,96.6 389.2,96 392.9,95.5"/>
<polyline points="314.9,135 318.6,132 322.4,129 326.1,126 329.8,123.1 333.5,120.2 337.2,117.4 340.9,114.6 344.6,112 348.3,109.6 352,107.3 355.7,105.2 359.5,103.3 363.2,101.5 366.9,100 370.6,98.6 374.3,97.6 378,96.7 381.7,95.9 385.4,95.3 389.1,94.7"/>
<polyline points="311.2,134.3 315,131.3 318.7,128.4 322.4,125.5 326.1,122.6 329.8,119.7 333.5,116.9 337.2,114.2 340.9,111.6 344.6,109.1 348.3,106.8 352,104.7 355.7,102.8 359.4,101 363.1,99.4 366.8,98.1 370.5,97 374.3,96.1 378,95.3 381.7,94.6 385.4,94.1"/>
<polyline points="307.6,133.6 311.3,130.7 315,127.9 318.7,125 322.4,122.2 326.1,119.3 329.8,116.6 333.5,113.8 337.2,111.2 340.9,108.8 344.6,106.5 348.3,104.4 352,102.4 355.7,100.6 359.4,99 363.1,97.7 366.8,96.6 370.5,95.6 374.2,94.8 377.9,94.2 381.6,93.7"/>
<polyline points="303.9,133 307.6,130.2 311.3,127.4 315,124.6 318.7,121.8 322.4,119 326.1,116.2 329.8,113.5 333.5,110.9 337.2,108.5 340.9,106.2 344.6,104 348.3,102.1 352,100.3 355.7,98.7 359.4,97.3 363.1,96.2 366.8,95.3 370.5,94.4 374.2,93.8 377.9,93.3"/>
<polyline points="300.2,132.3 303.9,129.6 307.6,126.9 311.3,124.1 315,121.4 318.7,118.6 322.4,115.9 326.1,113.2 329.8,110.6 333.4,108.2 337.1,105.9 340.8,103.7 344.5,101.8 348.2,100 351.9,98.4 355.6,97 359.3,95.9 363,94.9 366.7,94.1 370.4,93.5 374.1,93"/>
<polyline points="296.5,131.4 300.2,128.8 303.9,126.2 307.6,123.5 311.3,120.8 315,118.1 318.6,115.5 322.3,112.8 326,110.2 329.7,107.8 333.4,105.6 337.1,103.4 340.8,101.5 344.5,99.7 348.2,98.1 351.9,96.7 355.6,95.6 359.3,94.7 363,93.8 366.7,93.2 370.4,92.8"/>
<polyline points="292.8,130.4 296.5,127.9 300.2,125.4 303.9,122.8 307.6,120.2 311.2,117.6 314.9,115 318.6,112.4 322.3,109.8 326,107.5 329.7,105.2 333.4,103.1 337.1,101.2 340.8,99.4 344.5,97.8 348.2,96.5 351.8,95.4 355.5,94.5 359.2,93.7 362.9,93.1 366.6,92.7"/>
</g>
<rect x="365" y="106.9" width="3" height="4" rx="0.8" fill="#b00000"/>
<line x1="531.6" y1="69.5" x2="534.9" y2="144.8" stroke="#bdbdbd" stroke-width="0.9"/>
<line x1="544.2" y1="66.5" x2="547" y2="140.9" stroke="#bdbdbd" stroke-width="0.9"/>
<line x1="556.8" y1="63.5" x2="559" y2="136.9" stroke="#bdbdbd" stroke-width="0.9"/>
<line x1="569.5" y1="60.5" x2="571.1" y2="133" stroke="#bdbdbd" stroke-width="0.9"/>
<line x1="582.1" y1="57.4" x2="583.2" y2="129.1" stroke="#bdbdbd" stroke-width="0.9"/>
<line x1="594.7" y1="54.4" x2="595.2" y2="125.1" stroke="#bdbdbd" stroke-width="0.9"/>
<line x1="607.3" y1="51.4" x2="607.3" y2="121.2" stroke="#bdbdbd" stroke-width="0.9"/>
<line x1="531.6" y1="69.5" x2="607.3" y2="51.4" stroke="#7a7a7a" stroke-width="0.5"/>
<line x1="532.3" y1="84.6" x2="607.3" y2="65.4" stroke="#7a7a7a" stroke-width="0.5"/>
<line x1="532.9" y1="99.6" x2="607.3" y2="79.3" stroke="#7a7a7a" stroke-width="0.5"/>
<line x1="533.6" y1="114.7" x2="607.3" y2="93.3" stroke="#7a7a7a" stroke-width="0.5"/>
<line x1="534.2" y1="129.7" x2="607.3" y2="107.2" stroke="#7a7a7a" stroke-width="0.5"/>
<line x1="534.9" y1="144.8" x2="607.3" y2="121.2" stroke="#7a7a7a" stroke-width="0.5"/>
<line x1="607.3" y1="51.4" x2="607.3" y2="121.2" stroke="#bdbdbd" stroke-width="0.9"/>
<line x1="619.8" y1="54.2" x2="619.5" y2="125.2" stroke="#bdbdbd" stroke-width="0.9"/>
<line x1="632.2" y1="57.1" x2="631.7" y2="129.2" stroke="#bdbdbd" stroke-width="0.9"/>
<line x1="644.7" y1="60" x2="644" y2="133.2" stroke="#bdbdbd" stroke-width="0.9"/>
<line x1="657.2" y1="62.8" x2="656.2" y2="137.1" stroke="#bdbdbd" stroke-width="0.9"/>
<line x1="669.6" y1="65.7" x2="668.4" y2="141.1" stroke="#bdbdbd" stroke-width="0.9"/>
<line x1="682.1" y1="68.5" x2="680.6" y2="145.1" stroke="#bdbdbd" stroke-width="0.9"/>
<line x1="607.3" y1="51.4" x2="682.1" y2="68.5" stroke="#7a7a7a" stroke-width="0.5"/>
<line x1="607.3" y1="65.4" x2="681.8" y2="83.8" stroke="#7a7a7a" stroke-width="0.5"/>
<line x1="607.3" y1="79.3" x2="681.5" y2="99.1" stroke="#7a7a7a" stroke-width="0.5"/>
<line x1="607.3" y1="93.3" x2="681.2" y2="114.5" stroke="#7a7a7a" stroke-width="0.5"/>
<line x1="607.3" y1="107.2" x2="680.9" y2="129.8" stroke="#7a7a7a" stroke-width="0.5"/>
<line x1="607.3" y1="121.2" x2="680.6" y2="145.1" stroke="#7a7a7a" stroke-width="0.5"/>
<line x1="531.6" y1="69.5" x2="607.3" y2="51.4" stroke="#808080" stroke-width="0.5"/>
<line x1="607.3" y1="51.4" x2="682.1" y2="68.5" stroke="#808080" stroke-width="0.5"/>
<line x1="531.6" y1="69.5" x2="535.5" y2="169.2" stroke="#707070" stroke-width="0.6"/>
<line x1="607.3" y1="51.4" x2="607.8" y2="142" stroke="#b4b4b4" stroke-width="0.8"/>
<line x1="682.1" y1="68.5" x2="679.1" y2="169.4" stroke="#b4b4b4" stroke-width="0.8"/>
<circle cx="531.6" cy="69.5" r="0.6" fill="#111"/>
<text x="530" y="70.5" font-size="2.9" fill="#666" text-anchor="end" >1.5</text>
<circle cx="532.3" cy="84.6" r="0.6" fill="#111"/>
<text x="530.7" y="85.6" font-size="2.9" fill="#666" text-anchor="end" >1.4</text>
<circle cx="532.9" cy="99.6" r="0.6" fill="#111"/>
<text x="531.3" y="100.7" font-size="2.9" fill="#666" text-anchor="end" >1.3</text>
<circle cx="533.6" cy="114.7" r="0.6" fill="#111"/>
<text x="532" y="115.7" font-size="2.9" fill="#666" text-anchor="end" >1.2</text>
<circle cx="534.2" cy="129.7" r="0.6" fill="#111"/>
<text x="532.6" y="130.8" font-size="2.9" fill="#666" text-anchor="end" >1.1</text>
<circle cx="534.9" cy="144.8" r="0.6" fill="#111"/>
<text x="533.3" y="145.8" font-size="2.9" fill="#666" text-anchor="end" >1</text>
<polygon points="535.5,169.2 607.8,142 679.1,169.4 606.9,204.2" fill="#6b6b6b" stroke="#555" stroke-width="0.4"/>
<clipPath id="fl3"><polygon points="535.5,169.2 607.8,142 679.1,169.4 606.9,204.2"/></clipPath>
<g clip-path="url(#fl3)">
<path d="M537.9,169.2 C541.0,170.2 549.9,173.1 556.3,175.5 C562.6,177.9 570.5,181.0 576.0,183.4 C581.5,185.8 585.9,188.3 589.1,189.9 C592.3,191.5 592.9,191.4 595.0,192.8 C597.1,194.2 599.9,196.4 601.6,198.1 C603.4,199.8 604.9,201.9 605.5,202.7" fill="none" stroke="#c0c020" stroke-width="1"/>
<path d="M541.8,166.9 C545.3,167.8 556.1,170.2 562.9,172.2 C569.7,174.2 576.7,176.7 582.6,178.8 C588.5,180.9 594.1,182.8 598.3,184.7 C602.4,186.5 605.1,188.1 607.5,189.9 C609.9,191.7 611.1,193.6 612.5,195.5 C613.9,197.4 615.1,200.5 615.6,201.5" fill="none" stroke="#a0c828" stroke-width="1"/>
<path d="M548.4,164.3 C551.9,165.0 562.6,166.9 569.4,168.3 C576.2,169.7 582.8,171.6 589.1,172.9 C595.4,174.2 602.1,175.1 607.0,176.3 C611.9,177.5 615.7,178.5 618.7,180.2 C621.7,181.8 623.5,184.1 625.2,186.2 C627.0,188.3 628.5,191.7 629.2,192.8" fill="none" stroke="#60c030" stroke-width="1"/>
<path d="M556.3,161.0 C559.6,161.3 569.5,162.6 576.0,163.0 C582.5,163.4 590.1,163.6 595.0,163.3 C599.9,163.0 602.2,162.5 605.5,161.3 C608.8,160.1 612.5,158.5 614.7,156.0 C616.9,153.5 618.0,147.8 618.7,146.2" fill="none" stroke="#50b830" stroke-width="1"/>
<path d="M566.8,157.1 C569.4,157.0 577.9,156.9 582.6,156.4 C587.3,155.9 591.6,155.2 595.0,154.1 C598.4,152.9 600.6,151.4 602.9,149.5 C605.2,147.6 607.8,144.0 608.8,142.9" fill="none" stroke="#48b830" stroke-width="1"/>
<path d="M629.2,150.8 C629.6,152.6 630.3,158.2 631.8,161.3 C633.3,164.4 635.3,166.9 638.4,169.2 C641.5,171.5 646.5,173.7 650.2,175.1 C653.9,176.5 659.0,177.3 660.7,177.7" fill="none" stroke="#50b830" stroke-width="1"/>
<path d="M644.3,156.0 C645.9,157.2 650.7,161.2 654.1,163.3 C657.5,165.4 661.5,167.1 664.6,168.5 C667.7,169.9 671.2,171.2 672.5,171.8" fill="none" stroke="#60c030" stroke-width="1"/>
</g>
<circle cx="535.5" cy="169.2" r="0.55" fill="#111"/>
<text x="533.5" y="172.2" font-size="3.0" fill="#555" text-anchor="end" >33</text>
<circle cx="547.4" cy="175" r="0.55" fill="#111"/>
<text x="545.4" y="178" font-size="3.0" fill="#555" text-anchor="end" >32</text>
<circle cx="559.3" cy="180.9" r="0.55" fill="#111"/>
<text x="557.3" y="183.8" font-size="3.0" fill="#555" text-anchor="end" >31</text>
<circle cx="571.2" cy="186.7" r="0.55" fill="#111"/>
<text x="569.2" y="189.7" font-size="3.0" fill="#555" text-anchor="end" >30</text>
<circle cx="583.1" cy="192.5" r="0.55" fill="#111"/>
<text x="581.1" y="195.5" font-size="3.0" fill="#555" text-anchor="end" >29</text>
<circle cx="595" cy="198.4" r="0.55" fill="#111"/>
<text x="593" y="201.3" font-size="3.0" fill="#555" text-anchor="end" >28</text>
<circle cx="606.9" cy="204.2" r="0.55" fill="#111"/>
<text x="604.9" y="207.2" font-size="3.0" fill="#555" text-anchor="end" >27</text>
<circle cx="606.9" cy="204.2" r="0.55" fill="#111"/>
<text x="608.3" y="207.2" font-size="3.0" fill="#555" >0.27</text>
<circle cx="618.9" cy="198.4" r="0.55" fill="#111"/>
<text x="620.3" y="201.4" font-size="3.0" fill="#555" >0.28</text>
<circle cx="631" cy="192.6" r="0.55" fill="#111"/>
<text x="632.4" y="195.6" font-size="3.0" fill="#555" >0.29</text>
<circle cx="643" cy="186.8" r="0.55" fill="#111"/>
<text x="644.4" y="189.8" font-size="3.0" fill="#555" >0.3</text>
<circle cx="655" cy="181" r="0.55" fill="#111"/>
<text x="656.4" y="184" font-size="3.0" fill="#555" >0.31</text>
<circle cx="667.1" cy="175.2" r="0.55" fill="#111"/>
<text x="668.5" y="178.2" font-size="3.0" fill="#555" >0.32</text>
<circle cx="679.1" cy="169.4" r="0.55" fill="#111"/>
<text x="680.5" y="172.4" font-size="3.0" fill="#555" >0.33</text>
<text x="544.1" y="199.7" font-size="3.6" fill="#444" text-anchor="middle" textLength="19.3" lengthAdjust="spacingAndGlyphs" >C: Temp (0 C)</text>
<text x="670.2" y="199.7" font-size="3.6" fill="#444" text-anchor="middle" textLength="20.5" lengthAdjust="spacingAndGlyphs" >A: FR (m/min)</text>
<text x="507.9" y="120.6" font-size="3.6" fill="#444" text-anchor="middle" textLength="12" lengthAdjust="spacingAndGlyphs"  transform="rotate(-90 507.9 120.6)">TF (num)</text>
<text x="619.7" y="25.2" font-size="5.6" fill="#333" text-anchor="middle" textLength="24.8" lengthAdjust="spacingAndGlyphs" >3D Surface</text>
<polygon points="607.6,128.8 611.3,128.8 615,128.7 618.7,128.6 622.3,128.3 626,127.8 629.7,127.1 633.4,126.3 637.1,125.2 640.8,124 644.5,122.6 648.1,121.2 651.8,119.6 655.5,118 659.2,116.2 662.9,114.4 666.6,112.4 670.2,110.4 673.9,108.2 677.6,105.9 681.3,103.3 681.3,103.3 677.6,101.7 673.9,100.4 670.2,99.5 666.5,98.8 662.8,98.1 659.2,97.4 655.5,96.9 651.8,96.3 648.1,95.9 644.4,95.4 640.7,95 637,94.7 633.3,94.4 629.6,94.2 626,94 622.3,93.8 618.6,93.8 614.9,93.8 611.2,93.9 607.5,94 607.5,94 603.8,95.2 600,96.6 596.3,98 592.6,99.4 588.9,100.8 585.1,102 581.4,103.3 577.7,104.4 574,105.4 570.2,106.3 566.5,106.9 562.8,107.3 559.1,107.4 555.4,107.3 551.6,106.9 547.9,106.3 544.2,105.5 540.5,104.6 536.7,103.7 533,102.6 533,102.6 536.7,103.9 540.5,105.1 544.2,106.1 547.9,106.9 551.6,107.7 555.4,108.7 559.1,109.7 562.8,110.9 566.6,112.1 570.3,113.5 574,115.1 577.8,116.6 581.5,118.3 585.2,120 589,121.7 592.7,123.2 596.4,124.4 600.1,125.7 603.9,127.1 607.6,128.8" fill="#50c800"/>
<path fill="#5bd744" d="M607.5,95.2l3.7,-1.3 -3.7,0.1 -3.7,1.2z"/>
<path fill="#53d744" d="M603.7,96.6l3.7,-1.4 -3.7,-0 -3.7,1.4z"/>
<path fill="#62da44" d="M611.2,95.2l3.7,-1.4 -3.7,0.1 -3.7,1.3z"/>
<path fill="#4dd744" d="M600,98.1l3.7,-1.5 -3.7,-0.1 -3.7,1.4z"/>
<path fill="#5ada44" d="M607.4,96.7l3.7,-1.5 -3.7,-0 -3.7,1.4z"/>
<path fill="#68dc44" d="M614.9,95.2l3.7,-1.5 -3.7,0 -3.7,1.4z"/>
<path fill="#54da44" d="M603.7,98.3l3.7,-1.6 -3.7,-0.1 -3.7,1.5z"/>
<path fill="#61dc44" d="M611.1,96.8l3.7,-1.6 -3.7,-0 -3.7,1.5z"/>
<path fill="#48d744" d="M596.3,99.6l3.7,-1.5 -3.7,-0.1 -3.7,1.4z"/>
<path fill="#6fdf44" d="M618.5,95.4l3.7,-1.5 -3.7,-0 -3.7,1.5z"/>
<path fill="#44d744" d="M592.6,101l3.7,-1.4 -3.7,-0.2 -3.7,1.3z"/>
<path fill="#4fda44" d="M600,99.8l3.7,-1.5 -3.7,-0.1 -3.7,1.5z"/>
<path fill="#5adc44" d="M607.4,98.4l3.7,-1.6 -3.7,-0.1 -3.7,1.6z"/>
<path fill="#67df44" d="M614.8,97l3.7,-1.6 -3.7,-0.1 -3.7,1.6z"/>
<path fill="#76e144" d="M622.2,95.5l3.7,-1.6 -3.7,-0.1 -3.7,1.5z"/>
<path fill="#4bda44" d="M596.3,101.3l3.7,-1.5 -3.7,-0.2 -3.7,1.4z"/>
<path fill="#6ee144" d="M618.5,97.2l3.7,-1.6 -3.7,-0.2 -3.7,1.6z"/>
<path fill="#44d747" d="M588.9,102.4l3.7,-1.3 -3.7,-0.3 -3.7,1.3z"/>
<path fill="#56dc44" d="M603.7,100l3.7,-1.6 -3.7,-0.1 -3.7,1.5z"/>
<path fill="#61df44" d="M611.1,98.6l3.7,-1.6 -3.7,-0.2 -3.7,1.6z"/>
<path fill="#7ce344" d="M625.9,95.8l3.7,-1.7 -3.7,-0.2 -3.7,1.6z"/>
<path fill="#44d648" d="M585.1,103.6l3.7,-1.3 -3.7,-0.3 -3.7,1.2z"/>
<path fill="#48d944" d="M592.6,102.6l3.7,-1.4 -3.7,-0.2 -3.7,1.3z"/>
<path fill="#51dc44" d="M600,101.5l3.7,-1.5 -3.7,-0.2 -3.7,1.5z"/>
<path fill="#5cdf44" d="M607.4,100.2l3.7,-1.6 -3.7,-0.2 -3.7,1.6z"/>
<path fill="#68e144" d="M614.8,98.9l3.7,-1.7 -3.7,-0.2 -3.7,1.6z"/>
<path fill="#75e344" d="M622.2,97.5l3.7,-1.7 -3.7,-0.3 -3.7,1.6z"/>
<path fill="#83e644" d="M629.6,96.1l3.7,-1.7 -3.7,-0.3 -3.7,1.7z"/>
<path fill="#44d647" d="M581.4,104.8l3.7,-1.1 -3.7,-0.4 -3.7,1.1z"/>
<path fill="#47d944" d="M588.8,104l3.7,-1.3 -3.7,-0.3 -3.7,1.3z"/>
<path fill="#4fdc44" d="M596.3,102.9l3.7,-1.4 -3.7,-0.2 -3.7,1.4z"/>
<path fill="#58df44" d="M603.7,101.7l3.7,-1.5 -3.7,-0.2 -3.7,1.5z"/>
<path fill="#63e144" d="M611.1,100.5l3.7,-1.6 -3.7,-0.3 -3.7,1.6z"/>
<path fill="#6fe344" d="M618.5,99.2l3.7,-1.7 -3.7,-0.3 -3.7,1.7z"/>
<path fill="#7be644" d="M625.9,97.9l3.7,-1.7 -3.7,-0.3 -3.7,1.7z"/>
<path fill="#89e844" d="M633.3,96.5l3.7,-1.8 -3.7,-0.3 -3.7,1.7z"/>
<path fill="#48d944" d="M585.1,105.2l3.7,-1.2 -3.7,-0.3 -3.7,1.1z"/>
<path fill="#4edc44" d="M592.5,104.3l3.7,-1.4 -3.7,-0.3 -3.7,1.3z"/>
<path fill="#5fe144" d="M607.4,102l3.7,-1.5 -3.7,-0.3 -3.7,1.5z"/>
<path fill="#76e644" d="M622.2,99.6l3.7,-1.7 -3.7,-0.4 -3.7,1.7z"/>
<path fill="#82e844" d="M629.6,98.3l3.7,-1.8 -3.7,-0.4 -3.7,1.7z"/>
<path fill="#44d546" d="M577.7,105.8l3.7,-1.1 -3.7,-0.4 -3.7,1z"/>
<path fill="#56de44" d="M600,103.2l3.7,-1.5 -3.7,-0.2 -3.7,1.4z"/>
<path fill="#6ae344" d="M614.8,100.9l3.7,-1.7 -3.7,-0.3 -3.7,1.6z"/>
<path fill="#90ea44" d="M637,96.9l3.7,-1.9 -3.7,-0.3 -3.7,1.8z"/>
<path fill="#45d444" d="M574,106.8l3.7,-0.9 -3.7,-0.5 -3.7,0.9z"/>
<path fill="#49d844" d="M581.4,106.3l3.7,-1.1 -3.7,-0.4 -3.7,1.1z"/>
<path fill="#4edb44" d="M588.8,105.5l3.7,-1.2 -3.7,-0.3 -3.7,1.2z"/>
<path fill="#55de44" d="M596.2,104.6l3.7,-1.4 -3.7,-0.3 -3.7,1.4z"/>
<path fill="#5de144" d="M603.7,103.5l3.7,-1.5 -3.7,-0.3 -3.7,1.5z"/>
<path fill="#66e344" d="M611.1,102.4l3.7,-1.6 -3.7,-0.4 -3.7,1.5z"/>
<path fill="#71e644" d="M618.5,101.3l3.7,-1.7 -3.7,-0.4 -3.7,1.7z"/>
<path fill="#7ce844" d="M625.9,100.1l3.7,-1.8 -3.7,-0.4 -3.7,1.7z"/>
<path fill="#88ea44" d="M633.3,98.8l3.7,-1.8 -3.7,-0.4 -3.7,1.8z"/>
<path fill="#95ec44" d="M640.7,97.4l3.7,-1.9 -3.7,-0.4 -3.7,1.9z"/>
<path fill="#4cd744" d="M577.7,107.3l3.7,-1 -3.7,-0.4 -3.7,0.9z"/>
<path fill="#5ce144" d="M599.9,104.9l3.7,-1.4 -3.7,-0.3 -3.7,1.4z"/>
<path fill="#6de644" d="M614.8,102.9l3.7,-1.6 -3.7,-0.4 -3.7,1.6z"/>
<path fill="#8fec44" d="M637,99.3l3.7,-1.9 -3.7,-0.5 -3.7,1.8z"/>
<path fill="#49d344" d="M570.2,107.5l3.7,-0.7 -3.7,-0.5 -3.7,0.7z"/>
<path fill="#50db44" d="M585.1,106.6l3.7,-1.1 -3.7,-0.3 -3.7,1.1z"/>
<path fill="#55de44" d="M592.5,105.8l3.7,-1.3 -3.7,-0.3 -3.7,1.2z"/>
<path fill="#63e344" d="M607.4,103.9l3.7,-1.5 -3.7,-0.4 -3.7,1.5z"/>
<path fill="#78e844" d="M622.2,101.8l3.7,-1.7 -3.7,-0.4 -3.7,1.7z"/>
<path fill="#83ea44" d="M629.6,100.6l3.7,-1.8 -3.7,-0.5 -3.7,1.8z"/>
<path fill="#9bee44" d="M644.4,97.9l3.7,-2 -3.7,-0.4 -3.7,1.9z"/>
<path fill="#4ed144" d="M566.5,107.9l3.7,-0.4 -3.7,-0.6 -3.7,0.4z"/>
<path fill="#50d644" d="M573.9,108l3.7,-0.8 -3.7,-0.5 -3.7,0.7z"/>
<path fill="#52da44" d="M581.4,107.7l3.7,-1 -3.7,-0.4 -3.7,1z"/>
<path fill="#56dd44" d="M588.8,107l3.7,-1.2 -3.7,-0.3 -3.7,1.1z"/>
<path fill="#5ce044" d="M596.2,106.2l3.7,-1.3 -3.7,-0.4 -3.7,1.3z"/>
<path fill="#62e344" d="M603.6,105.4l3.7,-1.4 -3.7,-0.4 -3.7,1.4z"/>
<path fill="#6ae544" d="M611.1,104.4l3.7,-1.5 -3.7,-0.5 -3.7,1.5z"/>
<path fill="#74e844" d="M618.5,103.4l3.7,-1.6 -3.7,-0.5 -3.7,1.6z"/>
<path fill="#7eea44" d="M625.9,102.3l3.7,-1.8 -3.7,-0.5 -3.7,1.7z"/>
<path fill="#89ec44" d="M633.3,101.1l3.7,-1.8 -3.7,-0.5 -3.7,1.8z"/>
<path fill="#95ee44" d="M640.7,99.8l3.7,-2 -3.7,-0.5 -3.7,1.9z"/>
<path fill="#a1f044" d="M648.1,98.4l3.7,-2.1 -3.7,-0.5 -3.7,2z"/>
<path fill="#55cf44" d="M562.8,108.1l3.7,-0.2 -3.7,-0.6 -3.7,0.1z"/>
<path fill="#55d444" d="M570.2,108.5l3.7,-0.5 -3.7,-0.5 -3.7,0.4z"/>
<path fill="#56d844" d="M577.7,108.5l3.7,-0.8 -3.7,-0.4 -3.7,0.8z"/>
<path fill="#59dc44" d="M585.1,108l3.7,-1.1 -3.7,-0.3 -3.7,1z"/>
<path fill="#5de044" d="M592.5,107.4l3.7,-1.2 -3.7,-0.4 -3.7,1.2z"/>
<path fill="#62e344" d="M599.9,106.7l3.7,-1.3 -3.7,-0.4 -3.7,1.3z"/>
<path fill="#6ae544" d="M607.4,105.9l3.7,-1.4 -3.7,-0.5 -3.7,1.4z"/>
<path fill="#72e844" d="M614.8,105l3.7,-1.6 -3.7,-0.5 -3.7,1.5z"/>
<path fill="#7bea44" d="M622.2,104l3.7,-1.7 -3.7,-0.5 -3.7,1.6z"/>
<path fill="#85ec44" d="M629.6,102.9l3.7,-1.8 -3.7,-0.6 -3.7,1.8z"/>
<path fill="#90ee44" d="M637,101.7l3.7,-1.9 -3.7,-0.6 -3.7,1.8z"/>
<path fill="#9cf044" d="M644.4,100.5l3.7,-2 -3.7,-0.6 -3.7,2z"/>
<path fill="#a7f144" d="M651.8,99l3.7,-2.2 -3.7,-0.5 -3.7,2.1z"/>
<path fill="#5ccc44" d="M559.1,108.1l3.7,0 -3.7,-0.7 -3.7,-0.1z"/>
<path fill="#5bd244" d="M566.5,108.8l3.7,-0.3 -3.7,-0.6 -3.7,0.2z"/>
<path fill="#5bd744" d="M573.9,109l3.7,-0.6 -3.7,-0.5 -3.7,0.5z"/>
<path fill="#5fdf44" d="M588.8,108.5l3.7,-1.1 -3.7,-0.4 -3.7,1.1z"/>
<path fill="#69e544" d="M603.6,107.2l3.7,-1.3 -3.7,-0.5 -3.7,1.3z"/>
<path fill="#70e744" d="M611.1,106.4l3.7,-1.5 -3.7,-0.5 -3.7,1.4z"/>
<path fill="#82ec44" d="M625.9,104.6l3.7,-1.7 -3.7,-0.6 -3.7,1.7z"/>
<path fill="#96f044" d="M640.7,102.4l3.7,-1.9 -3.7,-0.6 -3.7,1.9z"/>
<path fill="#a1f144" d="M648.1,101.1l3.7,-2.1 -3.7,-0.6 -3.7,2z"/>
<path fill="#acf344" d="M655.5,99.7l3.7,-2.3 -3.7,-0.6 -3.7,2.2z"/>
<path fill="#5cdb44" d="M581.4,108.9l3.7,-0.9 -3.7,-0.4 -3.7,0.8z"/>
<path fill="#63e244" d="M596.2,107.9l3.7,-1.2 -3.7,-0.5 -3.7,1.2z"/>
<path fill="#79ea44" d="M618.5,105.6l3.7,-1.6 -3.7,-0.6 -3.7,1.6z"/>
<path fill="#8cee44" d="M633.3,103.6l3.7,-1.8 -3.7,-0.6 -3.7,1.8z"/>
<path fill="#63c844" d="M555.3,107.8l3.7,0.3 -3.7,-0.8 -3.7,-0.4z"/>
<path fill="#62cf44" d="M562.8,108.8l3.7,-0 -3.7,-0.7 -3.7,-0z"/>
<path fill="#61d544" d="M570.2,109.4l3.7,-0.3 -3.7,-0.5 -3.7,0.3z"/>
<path fill="#61da44" d="M577.7,109.5l3.7,-0.6 -3.7,-0.4 -3.7,0.6z"/>
<path fill="#63de44" d="M585.1,109.3l3.7,-0.9 -3.7,-0.4 -3.7,0.9z"/>
<path fill="#66e144" d="M592.5,109l3.7,-1.1 -3.7,-0.5 -3.7,1.1z"/>
<path fill="#6be444" d="M599.9,108.4l3.7,-1.2 -3.7,-0.5 -3.7,1.2z"/>
<path fill="#70e744" d="M607.3,107.8l3.7,-1.4 -3.7,-0.6 -3.7,1.3z"/>
<path fill="#78e944" d="M614.8,107.1l3.7,-1.5 -3.7,-0.6 -3.7,1.5z"/>
<path fill="#80ec44" d="M622.2,106.2l3.7,-1.6 -3.7,-0.6 -3.7,1.6z"/>
<path fill="#89ee44" d="M629.6,105.3l3.7,-1.8 -3.7,-0.7 -3.7,1.7z"/>
<path fill="#93ef44" d="M637,104.3l3.7,-1.9 -3.7,-0.7 -3.7,1.8z"/>
<path fill="#9df144" d="M644.4,103.1l3.7,-2 -3.7,-0.7 -3.7,1.9z"/>
<path fill="#a7f344" d="M651.8,101.9l3.7,-2.2 -3.7,-0.7 -3.7,2.1z"/>
<path fill="#b1f444" d="M659.2,100.4l3.7,-2.3 -3.7,-0.6 -3.7,2.3z"/>
<path fill="#69cb44" d="M559.1,108.6l3.7,0.2 -3.7,-0.7 -3.7,-0.3z"/>
<path fill="#6de444" d="M596.2,109.6l3.7,-1.1 -3.7,-0.6 -3.7,1.1z"/>
<path fill="#7feb44" d="M618.5,107.8l3.7,-1.5 -3.7,-0.7 -3.7,1.5z"/>
<path fill="#adf444" d="M655.5,102.6l3.7,-2.2 -3.7,-0.7 -3.7,2.2z"/>
<path fill="#6bc344" d="M551.6,107.2l3.7,0.6 -3.7,-0.9 -3.7,-0.6z"/>
<path fill="#67d244" d="M566.5,109.5l3.7,-0.1 -3.7,-0.6 -3.7,0z"/>
<path fill="#67d844" d="M573.9,109.9l3.7,-0.4 -3.7,-0.4 -3.7,0.3z"/>
<path fill="#68dc44" d="M581.4,110l3.7,-0.6 -3.7,-0.4 -3.7,0.6z"/>
<path fill="#6ae044" d="M588.8,109.9l3.7,-0.9 -3.7,-0.5 -3.7,0.9z"/>
<path fill="#72e744" d="M603.6,109l3.7,-1.3 -3.7,-0.6 -3.7,1.2z"/>
<path fill="#77e944" d="M611.1,108.5l3.7,-1.4 -3.7,-0.6 -3.7,1.4z"/>
<path fill="#87ee44" d="M625.9,107l3.7,-1.7 -3.7,-0.7 -3.7,1.6z"/>
<path fill="#90ef44" d="M633.3,106.1l3.7,-1.8 -3.7,-0.7 -3.7,1.8z"/>
<path fill="#9af144" d="M640.7,105l3.7,-1.9 -3.7,-0.7 -3.7,1.9z"/>
<path fill="#a3f344" d="M648.1,103.9l3.7,-2 -3.7,-0.7 -3.7,2z"/>
<path fill="#b6f644" d="M662.8,101.2l3.7,-2.4 -3.7,-0.7 -3.7,2.3z"/>
<path fill="#71c744" d="M555.3,108.1l3.7,0.5 -3.7,-0.8 -3.7,-0.6z"/>
<path fill="#b2f644" d="M659.2,103.5l3.7,-2.3 -3.7,-0.8 -3.7,2.2z"/>
<path fill="#73be44" d="M547.9,106.5l3.7,0.7 -3.7,-1 -3.7,-0.8z"/>
<path fill="#6fcf44" d="M562.8,109.3l3.7,0.2 -3.7,-0.6 -3.7,-0.2z"/>
<path fill="#6ed544" d="M570.2,110l3.7,-0.1 -3.7,-0.5 -3.7,0.1z"/>
<path fill="#6eda44" d="M577.7,110.4l3.7,-0.4 -3.7,-0.5 -3.7,0.4z"/>
<path fill="#6edf44" d="M585.1,110.6l3.7,-0.7 -3.7,-0.5 -3.7,0.6z"/>
<path fill="#70e344" d="M592.5,110.5l3.7,-0.9 -3.7,-0.6 -3.7,0.9z"/>
<path fill="#74e644" d="M599.9,110.2l3.7,-1.2 -3.7,-0.6 -3.7,1.1z"/>
<path fill="#79e944" d="M607.3,109.7l3.7,-1.3 -3.7,-0.7 -3.7,1.3z"/>
<path fill="#7feb44" d="M614.8,109.2l3.7,-1.4 -3.7,-0.7 -3.7,1.4z"/>
<path fill="#86ed44" d="M622.2,108.6l3.7,-1.6 -3.7,-0.7 -3.7,1.5z"/>
<path fill="#8eef44" d="M629.6,107.8l3.7,-1.7 -3.7,-0.8 -3.7,1.7z"/>
<path fill="#97f144" d="M637,106.9l3.7,-1.8 -3.7,-0.8 -3.7,1.8z"/>
<path fill="#a0f344" d="M644.4,105.9l3.7,-2 -3.7,-0.8 -3.7,1.9z"/>
<path fill="#a9f444" d="M651.8,104.7l3.7,-2.1 -3.7,-0.8 -3.7,2z"/>
<path fill="#baf744" d="M666.5,102l3.7,-2.5 -3.7,-0.8 -3.7,2.4z"/>
<path fill="#7bb744" d="M544.2,105.7l3.7,0.8 -3.7,-1 -3.7,-0.8z"/>
<path fill="#79c244" d="M551.6,107.5l3.7,0.6 -3.7,-0.9 -3.7,-0.7z"/>
<path fill="#77ca44" d="M559.1,108.9l3.7,0.4 -3.7,-0.7 -3.7,-0.5z"/>
<path fill="#75d244" d="M566.5,109.9l3.7,0.1 -3.7,-0.5 -3.7,-0.2z"/>
<path fill="#74d844" d="M573.9,110.6l3.7,-0.2 -3.7,-0.5 -3.7,0.1z"/>
<path fill="#74dd44" d="M581.4,111l3.7,-0.4 -3.7,-0.6 -3.7,0.4z"/>
<path fill="#75e144" d="M588.8,111.2l3.7,-0.7 -3.7,-0.6 -3.7,0.7z"/>
<path fill="#77e544" d="M596.2,111.2l3.7,-1 -3.7,-0.6 -3.7,0.9z"/>
<path fill="#7be844" d="M603.6,110.9l3.7,-1.2 -3.7,-0.7 -3.7,1.2z"/>
<path fill="#80eb44" d="M611.1,110.5l3.7,-1.3 -3.7,-0.8 -3.7,1.3z"/>
<path fill="#86ed44" d="M618.5,110l3.7,-1.5 -3.7,-0.8 -3.7,1.4z"/>
<path fill="#8def44" d="M625.9,109.4l3.7,-1.6 -3.7,-0.8 -3.7,1.6z"/>
<path fill="#96f144" d="M633.3,108.6l3.7,-1.8 -3.7,-0.8 -3.7,1.7z"/>
<path fill="#9ef344" d="M640.7,107.8l3.7,-1.9 -3.7,-0.8 -3.7,1.8z"/>
<path fill="#a7f444" d="M648.1,106.7l3.7,-2 -3.7,-0.8 -3.7,2z"/>
<path fill="#aff644" d="M655.5,105.6l3.7,-2.1 -3.7,-0.8 -3.7,2.1z"/>
<path fill="#b7f744" d="M662.8,104.3l3.7,-2.3 -3.7,-0.8 -3.7,2.3z"/>
<path fill="#bef844" d="M670.2,102.9l3.7,-2.5 -3.7,-0.9 -3.7,2.5z"/>
<path fill="#81af44" d="M540.5,104.8l3.7,0.9 -3.7,-1.1 -3.7,-1z"/>
<path fill="#81bb44" d="M547.9,106.8l3.7,0.7 -3.7,-1 -3.7,-0.8z"/>
<path fill="#7fc544" d="M555.3,108.3l3.7,0.6 -3.7,-0.7 -3.7,-0.6z"/>
<path fill="#7dce44" d="M562.8,109.5l3.7,0.4 -3.7,-0.6 -3.7,-0.4z"/>
<path fill="#7bd544" d="M570.2,110.5l3.7,0.1 -3.7,-0.6 -3.7,-0.1z"/>
<path fill="#7adb44" d="M577.7,111.2l3.7,-0.2 -3.7,-0.6 -3.7,0.2z"/>
<path fill="#7ae044" d="M585.1,111.7l3.7,-0.5 -3.7,-0.7 -3.7,0.4z"/>
<path fill="#7be444" d="M592.5,111.9l3.7,-0.8 -3.7,-0.7 -3.7,0.7z"/>
<path fill="#82ea44" d="M607.4,111.8l3.7,-1.2 -3.7,-0.8 -3.7,1.2z"/>
<path fill="#8def44" d="M622.2,110.9l3.7,-1.5 -3.7,-0.8 -3.7,1.5z"/>
<path fill="#95f144" d="M629.6,110.3l3.7,-1.7 -3.7,-0.9 -3.7,1.6z"/>
<path fill="#9df344" d="M637,109.6l3.7,-1.8 -3.7,-0.9 -3.7,1.8z"/>
<path fill="#a5f444" d="M644.4,108.7l3.7,-1.9 -3.7,-0.9 -3.7,1.9z"/>
<path fill="#adf644" d="M651.8,107.6l3.7,-2 -3.7,-0.8 -3.7,2z"/>
<path fill="#b5f744" d="M659.2,106.4l3.7,-2.1 -3.7,-0.8 -3.7,2.1z"/>
<path fill="#bcf844" d="M666.5,105.3l3.7,-2.3 -3.7,-0.9 -3.7,2.3z"/>
<path fill="#c2f944" d="M673.9,104.2l3.7,-2.5 -3.7,-1.3 -3.7,2.5z"/>
<path fill="#7ee744" d="M599.9,112l3.7,-1 -3.7,-0.7 -3.7,1z"/>
<path fill="#87ed44" d="M614.8,111.4l3.7,-1.4 -3.7,-0.8 -3.7,1.3z"/>
<path fill="#86a644" d="M536.7,103.9l3.7,1 -3.7,-1.2 -3.7,-1.1z"/>
<path fill="#88b444" d="M544.2,106l3.7,0.8 -3.7,-1 -3.7,-0.9z"/>
<path fill="#87bf44" d="M551.6,107.7l3.7,0.6 -3.7,-0.8 -3.7,-0.7z"/>
<path fill="#85c944" d="M559.1,109l3.7,0.5 -3.7,-0.6 -3.7,-0.6z"/>
<path fill="#83d144" d="M566.5,110.2l3.7,0.3 -3.7,-0.6 -3.7,-0.4z"/>
<path fill="#81d844" d="M573.9,111.2l3.7,0 -3.7,-0.7 -3.7,-0.1z"/>
<path fill="#81de44" d="M581.4,112l3.7,-0.3 -3.7,-0.7 -3.7,0.2z"/>
<path fill="#81e244" d="M588.8,112.5l3.7,-0.5 -3.7,-0.7 -3.7,0.5z"/>
<path fill="#83e644" d="M596.2,112.8l3.7,-0.8 -3.7,-0.8 -3.7,0.8z"/>
<path fill="#85ea44" d="M603.6,112.8l3.7,-1.1 -3.7,-0.8 -3.7,1z"/>
<path fill="#8aec44" d="M611.1,112.7l3.7,-1.3 -3.7,-0.9 -3.7,1.2z"/>
<path fill="#8fef44" d="M618.5,112.3l3.7,-1.4 -3.7,-0.9 -3.7,1.4z"/>
<path fill="#95f144" d="M625.9,111.8l3.7,-1.5 -3.7,-0.9 -3.7,1.5z"/>
<path fill="#9cf344" d="M633.3,111.3l3.7,-1.7 -3.7,-0.9 -3.7,1.7z"/>
<path fill="#a3f444" d="M640.7,110.5l3.7,-1.8 -3.7,-0.9 -3.7,1.8z"/>
<path fill="#acf644" d="M648.1,109.6l3.7,-2 -3.7,-0.9 -3.7,1.9z"/>
<path fill="#b4f744" d="M655.5,108.5l3.7,-2.1 -3.7,-0.9 -3.7,2z"/>
<path fill="#bbf844" d="M662.9,107.4l3.7,-2.1 -3.7,-1 -3.7,2.1z"/>
<path fill="#c1f944" d="M670.2,106.6l3.7,-2.3 -3.7,-1.3 -3.7,2.3z"/>
<path fill="#c5f944" d="M677.6,105.9l3.7,-2.6 -3.7,-1.6 -3.7,2.5z"/>
<path fill="#8dab44" d="M540.5,105.1l3.7,0.9 -3.7,-1.1 -3.7,-1z"/>
<path fill="#88db44" d="M577.7,112l3.7,-0 -3.7,-0.7 -3.7,-0z"/>
<path fill="#a3f444" d="M637,112.2l3.7,-1.7 -3.7,-0.9 -3.7,1.7z"/>
<path fill="#c5f944" d="M673.9,108.2l3.7,-2.4 -3.7,-1.6 -3.7,2.3z"/>
<path fill="#8eb844" d="M547.9,106.9l3.7,0.8 -3.7,-0.9 -3.7,-0.8z"/>
<path fill="#8dc444" d="M555.4,108.4l3.7,0.6 -3.7,-0.7 -3.7,-0.6z"/>
<path fill="#8bcd44" d="M562.8,109.7l3.7,0.5 -3.7,-0.7 -3.7,-0.5z"/>
<path fill="#89d544" d="M570.2,111l3.7,0.3 -3.7,-0.7 -3.7,-0.3z"/>
<path fill="#87e044" d="M585.1,112.8l3.7,-0.3 -3.7,-0.8 -3.7,0.3z"/>
<path fill="#88e544" d="M592.5,113.3l3.7,-0.6 -3.7,-0.8 -3.7,0.5z"/>
<path fill="#89e944" d="M599.9,113.7l3.7,-0.9 -3.7,-0.9 -3.7,0.8z"/>
<path fill="#8dec44" d="M607.4,113.8l3.7,-1.1 -3.7,-0.9 -3.7,1.1z"/>
<path fill="#90ee44" d="M614.8,113.6l3.7,-1.3 -3.7,-0.9 -3.7,1.3z"/>
<path fill="#96f144" d="M622.2,113.3l3.7,-1.4 -3.7,-0.9 -3.7,1.4z"/>
<path fill="#9cf244" d="M629.6,112.9l3.7,-1.6 -3.7,-1 -3.7,1.5z"/>
<path fill="#aaf644" d="M644.4,111.4l3.7,-1.9 -3.7,-0.9 -3.7,1.8z"/>
<path fill="#b2f744" d="M651.8,110.5l3.7,-2 -3.7,-0.9 -3.7,2z"/>
<path fill="#b9f844" d="M659.2,109.5l3.7,-2.1 -3.7,-1 -3.7,2.1z"/>
<path fill="#c0f944" d="M666.5,108.7l3.7,-2.1 -3.7,-1.3 -3.7,2.1z"/>
<path fill="#94b044" d="M544.2,106.1l3.7,0.8 -3.7,-0.9 -3.7,-0.9z"/>
<path fill="#93c844" d="M559.1,109.1l3.7,0.6 -3.7,-0.7 -3.7,-0.6z"/>
<path fill="#8fd844" d="M574,111.8l3.7,0.2 -3.7,-0.8 -3.7,-0.3z"/>
<path fill="#8ede44" d="M581.4,112.9l3.7,-0.1 -3.7,-0.8 -3.7,0z"/>
<path fill="#8ee744" d="M596.2,114.3l3.7,-0.6 -3.7,-0.9 -3.7,0.6z"/>
<path fill="#98f044" d="M618.5,114.6l3.7,-1.3 -3.7,-1 -3.7,1.3z"/>
<path fill="#a3f444" d="M633.3,113.9l3.7,-1.6 -3.7,-1 -3.7,1.6z"/>
<path fill="#aaf544" d="M640.7,113.2l3.7,-1.8 -3.7,-0.9 -3.7,1.7z"/>
<path fill="#b8f844" d="M655.5,111.5l3.7,-2 -3.7,-1 -3.7,2z"/>
<path fill="#c5f944" d="M670.2,110.4l3.7,-2.1 -3.7,-1.6 -3.7,2.1z"/>
<path fill="#94bd44" d="M551.6,107.7l3.7,0.7 -3.7,-0.7 -3.7,-0.8z"/>
<path fill="#91d144" d="M566.5,110.5l3.7,0.4 -3.7,-0.8 -3.7,-0.5z"/>
<path fill="#8de344" d="M588.8,113.7l3.7,-0.4 -3.7,-0.9 -3.7,0.3z"/>
<path fill="#90eb44" d="M603.7,114.7l3.7,-0.9 -3.7,-1 -3.7,0.9z"/>
<path fill="#93ee44" d="M611.1,114.8l3.7,-1.2 -3.7,-1 -3.7,1.1z"/>
<path fill="#9df244" d="M625.9,114.3l3.7,-1.5 -3.7,-1 -3.7,1.4z"/>
<path fill="#b1f744" d="M648.1,112.3l3.7,-1.9 -3.7,-0.9 -3.7,1.9z"/>
<path fill="#bff944" d="M662.9,110.8l3.7,-2.1 -3.7,-1.3 -3.7,2.1z"/>
<path fill="#97d444" d="M570.2,111.4l3.7,0.4 -3.7,-0.8 -3.7,-0.4z"/>
<path fill="#94e644" d="M592.5,114.7l3.7,-0.4 -3.7,-1 -3.7,0.4z"/>
<path fill="#9ff244" d="M622.2,115.7l3.7,-1.4 -3.7,-1 -3.7,1.3z"/>
<path fill="#b1f744" d="M644.4,114.1l3.7,-1.8 -3.7,-0.9 -3.7,1.8z"/>
<path fill="#9ab544" d="M547.9,106.9l3.7,0.8 -3.7,-0.8 -3.7,-0.8z"/>
<path fill="#9bc144" d="M555.4,108.5l3.7,0.7 -3.7,-0.8 -3.7,-0.7z"/>
<path fill="#99cc44" d="M562.8,110l3.7,0.5 -3.7,-0.8 -3.7,-0.6z"/>
<path fill="#95db44" d="M577.7,112.7l3.7,0.1 -3.7,-0.9 -3.7,-0.2z"/>
<path fill="#94e144" d="M585.1,113.8l3.7,-0.1 -3.7,-0.9 -3.7,0.1z"/>
<path fill="#95ea44" d="M600,115.4l3.7,-0.7 -3.7,-1 -3.7,0.6z"/>
<path fill="#97ed44" d="M607.4,115.7l3.7,-1 -3.7,-1 -3.7,0.9z"/>
<path fill="#9af044" d="M614.8,115.9l3.7,-1.2 -3.7,-1 -3.7,1.2z"/>
<path fill="#a5f444" d="M629.6,115.4l3.7,-1.5 -3.7,-1 -3.7,1.5z"/>
<path fill="#abf544" d="M637,114.8l3.7,-1.6 -3.7,-0.9 -3.7,1.6z"/>
<path fill="#b8f844" d="M651.8,113.3l3.7,-1.9 -3.7,-1 -3.7,1.9z"/>
<path fill="#bff944" d="M659.2,112.8l3.7,-2 -3.7,-1.3 -3.7,2z"/>
<path fill="#c5f944" d="M666.6,112.4l3.7,-2.1 -3.7,-1.6 -3.7,2.1z"/>
<path fill="#a1ba44" d="M551.6,107.7l3.7,0.7 -3.7,-0.8 -3.7,-0.8z"/>
<path fill="#9fcf44" d="M566.5,111l3.7,0.5 -3.7,-0.9 -3.7,-0.5z"/>
<path fill="#9dd844" d="M574,112.4l3.7,0.3 -3.7,-0.9 -3.7,-0.4z"/>
<path fill="#9be444" d="M588.8,114.9l3.7,-0.2 -3.7,-1 -3.7,0.1z"/>
<path fill="#9ae844" d="M596.2,115.9l3.7,-0.5 -3.7,-1.1 -3.7,0.4z"/>
<path fill="#9cec44" d="M603.7,116.5l3.7,-0.7 -3.7,-1.1 -3.7,0.7z"/>
<path fill="#9eef44" d="M611.1,116.9l3.7,-1 -3.7,-1.1 -3.7,1z"/>
<path fill="#a2f144" d="M618.5,117l3.7,-1.3 -3.7,-1.1 -3.7,1.2z"/>
<path fill="#a7f344" d="M625.9,116.8l3.7,-1.4 -3.7,-1 -3.7,1.4z"/>
<path fill="#b2f744" d="M640.7,115.8l3.7,-1.7 -3.7,-0.9 -3.7,1.6z"/>
<path fill="#b9f844" d="M648.1,115.1l3.7,-1.8 -3.7,-1 -3.7,1.8z"/>
<path fill="#c5f944" d="M662.9,114.4l3.7,-2 -3.7,-1.6 -3.7,2z"/>
<path fill="#a1c644" d="M559.1,109.4l3.7,0.6 -3.7,-0.9 -3.7,-0.7z"/>
<path fill="#9bde44" d="M581.4,113.8l3.7,0.1 -3.7,-1 -3.7,-0.1z"/>
<path fill="#acf544" d="M633.3,116.4l3.7,-1.5 -3.7,-1 -3.7,1.5z"/>
<path fill="#bff944" d="M655.5,114.6l3.7,-1.9 -3.7,-1.3 -3.7,1.9z"/>
<path fill="#a7bf44" d="M555.4,108.7l3.7,0.7 -3.7,-0.9 -3.7,-0.7z"/>
<path fill="#a7ca44" d="M562.8,110.4l3.7,0.6 -3.7,-0.9 -3.7,-0.6z"/>
<path fill="#a5d344" d="M570.3,112l3.7,0.4 -3.7,-1 -3.7,-0.5z"/>
<path fill="#a3db44" d="M577.7,113.5l3.7,0.3 -3.7,-1 -3.7,-0.3z"/>
<path fill="#a1e144" d="M585.1,114.9l3.7,0 -3.7,-1.1 -3.7,-0.1z"/>
<path fill="#a0e644" d="M592.5,116.1l3.7,-0.3 -3.7,-1.1 -3.7,0.2z"/>
<path fill="#a1eb44" d="M600,117l3.7,-0.5 -3.7,-1.1 -3.7,0.5z"/>
<path fill="#a2ee44" d="M607.4,117.7l3.7,-0.8 -3.7,-1.1 -3.7,0.7z"/>
<path fill="#a5f144" d="M614.8,118.1l3.7,-1.1 -3.7,-1.1 -3.7,1z"/>
<path fill="#a9f344" d="M622.2,118.1l3.7,-1.3 -3.7,-1.1 -3.7,1.3z"/>
<path fill="#aef544" d="M629.6,117.8l3.7,-1.5 -3.7,-1 -3.7,1.4z"/>
<path fill="#b3f644" d="M637,117.3l3.7,-1.6 -3.7,-0.9 -3.7,1.5z"/>
<path fill="#baf844" d="M644.4,116.8l3.7,-1.7 -3.7,-1 -3.7,1.7z"/>
<path fill="#c0f944" d="M651.8,116.4l3.7,-1.8 -3.7,-1.3 -3.7,1.8z"/>
<path fill="#c5f944" d="M659.2,116.2l3.7,-1.9 -3.7,-1.6 -3.7,1.9z"/>
<path fill="#adc344" d="M559.1,109.7l3.7,0.6 -3.7,-1 -3.7,-0.7z"/>
<path fill="#c6f944" d="M655.5,118l3.7,-1.8 -3.7,-1.6 -3.7,1.8z"/>
<path fill="#adce44" d="M566.5,111.5l3.7,0.5 -3.7,-1 -3.7,-0.6z"/>
<path fill="#abd744" d="M574,113.1l3.7,0.4 -3.7,-1.1 -3.7,-0.4z"/>
<path fill="#a9de44" d="M581.4,114.7l3.7,0.2 -3.7,-1.2 -3.7,-0.3z"/>
<path fill="#a7e444" d="M588.8,116.2l3.7,-0.1 -3.7,-1.2 -3.7,-0z"/>
<path fill="#a6e944" d="M596.3,117.4l3.7,-0.3 -3.7,-1.2 -3.7,0.3z"/>
<path fill="#a7ed44" d="M603.7,118.3l3.7,-0.6 -3.7,-1.2 -3.7,0.5z"/>
<path fill="#a9f044" d="M611.1,119l3.7,-0.9 -3.7,-1.2 -3.7,0.8z"/>
<path fill="#acf344" d="M618.5,119.3l3.7,-1.1 -3.7,-1.1 -3.7,1.1z"/>
<path fill="#b0f544" d="M625.9,119.2l3.7,-1.3 -3.7,-1 -3.7,1.3z"/>
<path fill="#b5f644" d="M633.3,118.8l3.7,-1.5 -3.7,-0.9 -3.7,1.5z"/>
<path fill="#baf844" d="M640.7,118.3l3.7,-1.6 -3.7,-1 -3.7,1.6z"/>
<path fill="#c1f944" d="M648.1,118.1l3.7,-1.7 -3.7,-1.3 -3.7,1.7z"/>
<path fill="#b4c844" d="M562.8,110.9l3.7,0.6 -3.7,-1.1 -3.7,-0.6z"/>
<path fill="#b1db44" d="M577.7,114.4l3.7,0.3 -3.7,-1.2 -3.7,-0.4z"/>
<path fill="#aee744" d="M592.6,117.5l3.7,-0.1 -3.7,-1.2 -3.7,0.1z"/>
<path fill="#adeb44" d="M600,118.7l3.7,-0.4 -3.7,-1.3 -3.7,0.3z"/>
<path fill="#adef44" d="M607.4,119.6l3.7,-0.7 -3.7,-1.3 -3.7,0.6z"/>
<path fill="#b0f244" d="M614.8,120.2l3.7,-0.9 -3.7,-1.2 -3.7,0.9z"/>
<path fill="#b3f444" d="M622.2,120.3l3.7,-1.2 -3.7,-1 -3.7,1.1z"/>
<path fill="#bcf744" d="M637,119.8l3.7,-1.5 -3.7,-1 -3.7,1.5z"/>
<path fill="#c8f944" d="M651.8,119.6l3.7,-1.6 -3.7,-1.6 -3.7,1.7z"/>
<path fill="#b3d244" d="M570.3,112.7l3.7,0.5 -3.7,-1.1 -3.7,-0.5z"/>
<path fill="#afe144" d="M585.1,116.1l3.7,0.1 -3.7,-1.3 -3.7,-0.2z"/>
<path fill="#b7f644" d="M629.6,120.1l3.7,-1.4 -3.7,-1 -3.7,1.3z"/>
<path fill="#c1f944" d="M644.4,119.6l3.7,-1.6 -3.7,-1.3 -3.7,1.6z"/>
<path fill="#b3ee44" d="M603.7,120.1l3.7,-0.5 -3.7,-1.3 -3.7,0.4z"/>
<path fill="#b4f144" d="M611.1,120.9l3.7,-0.7 -3.7,-1.2 -3.7,0.7z"/>
<path fill="#b9cd44" d="M566.6,112.1l3.7,0.5 -3.7,-1.2 -3.7,-0.6z"/>
<path fill="#b8d644" d="M574,114l3.7,0.4 -3.7,-1.3 -3.7,-0.5z"/>
<path fill="#b6de44" d="M581.4,115.8l3.7,0.2 -3.7,-1.3 -3.7,-0.3z"/>
<path fill="#b4e444" d="M588.9,117.4l3.7,0.1 -3.7,-1.3 -3.7,-0.1z"/>
<path fill="#b3ea44" d="M596.3,118.9l3.7,-0.2 -3.7,-1.3 -3.7,0.1z"/>
<path fill="#b6f444" d="M618.5,121.3l3.7,-1 -3.7,-1.1 -3.7,0.9z"/>
<path fill="#baf644" d="M625.9,121.3l3.7,-1.2 -3.7,-1 -3.7,1.2z"/>
<path fill="#bef744" d="M633.3,121.2l3.7,-1.4 -3.7,-1 -3.7,1.4z"/>
<path fill="#c3f844" d="M640.7,121.1l3.7,-1.5 -3.7,-1.3 -3.7,1.5z"/>
<path fill="#c8f944" d="M648.1,121.2l3.7,-1.5 -3.7,-1.6 -3.7,1.6z"/>
<path fill="#c0d144" d="M570.3,113.5l3.7,0.5 -3.7,-1.3 -3.7,-0.5z"/>
<path fill="#bbe244" d="M585.2,117.3l3.7,0.2 -3.7,-1.4 -3.7,-0.2z"/>
<path fill="#b9e744" d="M592.6,118.9l3.7,-0 -3.7,-1.4 -3.7,-0.1z"/>
<path fill="#b9ec44" d="M600,120.4l3.7,-0.3 -3.7,-1.4 -3.7,0.2z"/>
<path fill="#b9f044" d="M607.4,121.4l3.7,-0.5 -3.7,-1.3 -3.7,0.5z"/>
<path fill="#baf344" d="M614.8,122.1l3.7,-0.8 -3.7,-1.1 -3.7,0.7z"/>
<path fill="#bcf544" d="M622.2,122.3l3.7,-1 -3.7,-1 -3.7,1z"/>
<path fill="#c0f744" d="M629.7,122.4l3.7,-1.2 -3.7,-1 -3.7,1.2z"/>
<path fill="#caf944" d="M644.5,122.6l3.7,-1.5 -3.7,-1.6 -3.7,1.5z"/>
<path fill="#bdda44" d="M577.7,115.5l3.7,0.4 -3.7,-1.4 -3.7,-0.4z"/>
<path fill="#c5f844" d="M637.1,122.4l3.7,-1.4 -3.7,-1.3 -3.7,1.4z"/>
<path fill="#c5d644" d="M574,115.1l3.7,0.4 -3.7,-1.5 -3.7,-0.5z"/>
<path fill="#c3de44" d="M581.5,117l3.7,0.3 -3.7,-1.4 -3.7,-0.4z"/>
<path fill="#c0e544" d="M588.9,118.8l3.7,0.1 -3.7,-1.5 -3.7,-0.2z"/>
<path fill="#bfea44" d="M596.3,120.4l3.7,-0.1 -3.7,-1.5 -3.7,0z"/>
<path fill="#beef44" d="M603.7,121.8l3.7,-0.3 -3.7,-1.3 -3.7,0.3z"/>
<path fill="#bef244" d="M611.1,122.6l3.7,-0.6 -3.7,-1.2 -3.7,0.5z"/>
<path fill="#c0f544" d="M618.6,123.1l3.7,-0.8 -3.7,-1 -3.7,0.8z"/>
<path fill="#c3f744" d="M626,123.4l3.7,-1 -3.7,-1 -3.7,1z"/>
<path fill="#c7f844" d="M633.4,123.7l3.7,-1.2 -3.7,-1.3 -3.7,1.2z"/>
<path fill="#ccf944" d="M640.8,124l3.7,-1.4 -3.7,-1.6 -3.7,1.4z"/>
<path fill="#cada44" d="M577.8,116.6l3.7,0.3 -3.7,-1.5 -3.7,-0.4z"/>
<path fill="#c7e244" d="M585.2,118.6l3.7,0.2 -3.7,-1.5 -3.7,-0.3z"/>
<path fill="#c5e844" d="M592.6,120.4l3.7,0.1 -3.7,-1.5 -3.7,-0.1z"/>
<path fill="#c4ed44" d="M600,121.9l3.7,-0.2 -3.7,-1.4 -3.7,0.1z"/>
<path fill="#c4f144" d="M607.5,123l3.7,-0.4 -3.7,-1.2 -3.7,0.3z"/>
<path fill="#c4f444" d="M614.9,123.7l3.7,-0.6 -3.7,-1.1 -3.7,0.6z"/>
<path fill="#c6f644" d="M622.3,124.2l3.7,-0.8 -3.7,-1.1 -3.7,0.8z"/>
<path fill="#caf844" d="M629.7,124.7l3.7,-1 -3.7,-1.3 -3.7,1z"/>
<path fill="#cdf944" d="M637.1,125.2l3.7,-1.2 -3.7,-1.6 -3.7,1.2z"/>
<path fill="#cfde44" d="M581.5,118.3l3.7,0.3 -3.7,-1.6 -3.7,-0.3z"/>
<path fill="#cce544" d="M588.9,120.2l3.7,0.2 -3.7,-1.6 -3.7,-0.2z"/>
<path fill="#caeb44" d="M596.3,121.9l3.7,-0 -3.7,-1.5 -3.7,-0.1z"/>
<path fill="#c9f044" d="M603.8,123.2l3.7,-0.2 -3.7,-1.3 -3.7,0.2z"/>
<path fill="#c9f344" d="M611.2,124.2l3.7,-0.4 -3.7,-1.1 -3.7,0.4z"/>
<path fill="#c9f644" d="M618.6,124.9l3.7,-0.6 -3.7,-1.1 -3.7,0.6z"/>
<path fill="#ccf844" d="M626,125.5l3.7,-0.8 -3.7,-1.3 -3.7,0.8z"/>
<path fill="#cff944" d="M633.4,126.3l3.7,-1 -3.7,-1.6 -3.7,1z"/>
<path fill="#d3e244" d="M585.2,120l3.7,0.2 -3.7,-1.7 -3.7,-0.3z"/>
<path fill="#d0e944" d="M592.6,121.8l3.7,0.1 -3.7,-1.5 -3.7,-0.2z"/>
<path fill="#cff844" d="M622.3,126.2l3.7,-0.7 -3.7,-1.3 -3.7,0.6z"/>
<path fill="#d1f944" d="M629.7,127.1l3.7,-0.8 -3.7,-1.6 -3.7,0.8z"/>
<path fill="#ceee44" d="M600.1,123.3l3.7,-0 -3.7,-1.3 -3.7,0z"/>
<path fill="#cdf244" d="M607.5,124.4l3.7,-0.2 -3.7,-1.1 -3.7,0.2z"/>
<path fill="#cdf544" d="M614.9,125.3l3.7,-0.5 -3.7,-1.1 -3.7,0.4z"/>
<path fill="#d6e644" d="M589,121.7l3.7,0.1 -3.7,-1.6 -3.7,-0.2z"/>
<path fill="#d3f944" d="M626,127.8l3.7,-0.7 -3.7,-1.6 -3.7,0.7z"/>
<path fill="#d4ec44" d="M596.4,123.2l3.7,0.1 -3.7,-1.3 -3.7,-0.1z"/>
<path fill="#d2f144" d="M603.8,124.5l3.7,-0.1 -3.7,-1.2 -3.7,0z"/>
<path fill="#d1f544" d="M611.2,125.6l3.7,-0.3 -3.7,-1.1 -3.7,0.2z"/>
<path fill="#d2f744" d="M618.6,126.7l3.7,-0.5 -3.7,-1.3 -3.7,0.5z"/>
<path fill="#daea44" d="M592.7,123.2l3.7,0.1 -3.7,-1.4 -3.7,-0.1z"/>
<path fill="#d7f044" d="M600.1,124.5l3.7,0 -3.7,-1.2 -3.7,-0.1z"/>
<path fill="#d5f444" d="M607.5,125.7l3.7,-0.1 -3.7,-1.2 -3.7,0.1z"/>
<path fill="#d5f744" d="M614.9,127l3.7,-0.3 -3.7,-1.4 -3.7,0.3z"/>
<path fill="#d6f944" d="M622.3,128.3l3.7,-0.5 -3.7,-1.6 -3.7,0.5z"/>
<path fill="#daf344" d="M603.8,125.7l3.7,-0 -3.7,-1.2 -3.7,-0z"/>
<path fill="#d9f644" d="M611.2,127.1l3.7,-0.1 -3.7,-1.4 -3.7,0.1z"/>
<path fill="#ddee44" d="M596.4,124.4l3.7,0 -3.7,-1.3 -3.7,-0.1z"/>
<path fill="#d9f944" d="M618.7,128.6l3.7,-0.3 -3.7,-1.6 -3.7,0.3z"/>
<path fill="#dff144" d="M600.1,125.7l3.7,0 -3.7,-1.2 -3.7,-0z"/>
<path fill="#ddf644" d="M607.6,127.1l3.7,-0 -3.7,-1.4 -3.7,0z"/>
<path fill="#dbf844" d="M615,128.7l3.7,-0.1 -3.7,-1.6 -3.7,0.1z"/>
<path fill="#e1f544" d="M603.9,127.1l3.7,-0 -3.7,-1.4 -3.7,-0z"/>
<path fill="#dff844" d="M611.3,128.8l3.7,-0 -3.7,-1.6 -3.7,0z"/>
<path fill="#e2f844" d="M607.6,128.8l3.7,-0 -3.7,-1.7 -3.7,0z"/>
<g fill="none" stroke="#000" stroke-opacity="0.34" stroke-width="0.42">
<polyline points="607.6,128.8 603.9,127.1 600.1,125.7 596.4,124.4 592.7,123.2 589,121.7 585.2,120 581.5,118.3 577.8,116.6 574,115.1 570.3,113.5 566.6,112.1 562.8,110.9 559.1,109.7 555.4,108.7 551.6,107.7 547.9,106.9 544.2,106.1 540.5,105.1 536.7,103.9 533,102.6"/>
<polyline points="611.3,128.8 607.6,127.1 603.8,125.7 600.1,124.5 596.4,123.2 592.6,121.8 588.9,120.2 585.2,118.6 581.5,117 577.7,115.5 574,114 570.3,112.7 566.5,111.5 562.8,110.4 559.1,109.4 555.4,108.5 551.6,107.7 547.9,106.9 544.2,106 540.5,104.8 536.7,103.7"/>
<polyline points="615,128.7 611.2,127.1 607.5,125.7 603.8,124.5 600.1,123.3 596.3,121.9 592.6,120.4 588.9,118.8 585.2,117.3 581.4,115.8 577.7,114.4 574,113.1 570.3,112 566.5,111 562.8,110 559.1,109.1 555.4,108.4 551.6,107.7 547.9,106.8 544.2,105.7 540.5,104.6"/>
<polyline points="618.7,128.6 614.9,127 611.2,125.6 607.5,124.4 603.8,123.2 600,121.9 596.3,120.4 592.6,118.9 588.9,117.4 585.1,116.1 581.4,114.7 577.7,113.5 574,112.4 570.2,111.4 566.5,110.5 562.8,109.7 559.1,109 555.3,108.3 551.6,107.5 547.9,106.5 544.2,105.5"/>
<polyline points="622.3,128.3 618.6,126.7 614.9,125.3 611.2,124.2 607.5,123 603.7,121.8 600,120.4 596.3,118.9 592.6,117.5 588.8,116.2 585.1,114.9 581.4,113.8 577.7,112.7 574,111.8 570.2,111 566.5,110.2 562.8,109.5 559.1,108.9 555.3,108.1 551.6,107.2 547.9,106.3"/>
<polyline points="626,127.8 622.3,126.2 618.6,124.9 614.9,123.7 611.1,122.6 607.4,121.4 603.7,120.1 600,118.7 596.3,117.4 592.5,116.1 588.8,114.9 585.1,113.8 581.4,112.9 577.7,112 573.9,111.2 570.2,110.5 566.5,109.9 562.8,109.3 559.1,108.6 555.3,107.8 551.6,106.9"/>
<polyline points="629.7,127.1 626,125.5 622.3,124.2 618.6,123.1 614.8,122.1 611.1,120.9 607.4,119.6 603.7,118.3 600,117 596.2,115.9 592.5,114.7 588.8,113.7 585.1,112.8 581.4,112 577.7,111.2 573.9,110.6 570.2,110 566.5,109.5 562.8,108.8 559.1,108.1 555.4,107.3"/>
<polyline points="633.4,126.3 629.7,124.7 626,123.4 622.2,122.3 618.5,121.3 614.8,120.2 611.1,119 607.4,117.7 603.7,116.5 600,115.4 596.2,114.3 592.5,113.3 588.8,112.5 585.1,111.7 581.4,111 577.7,110.4 573.9,109.9 570.2,109.4 566.5,108.8 562.8,108.1 559.1,107.4"/>
<polyline points="637.1,125.2 633.4,123.7 629.7,122.4 625.9,121.3 622.2,120.3 618.5,119.3 614.8,118.1 611.1,116.9 607.4,115.7 603.7,114.7 599.9,113.7 596.2,112.8 592.5,111.9 588.8,111.2 585.1,110.6 581.4,110 577.7,109.5 573.9,109 570.2,108.5 566.5,107.9 562.8,107.3"/>
<polyline points="640.8,124 637.1,122.4 633.3,121.2 629.6,120.1 625.9,119.2 622.2,118.1 618.5,117 614.8,115.9 611.1,114.8 607.4,113.8 603.6,112.8 599.9,112 596.2,111.2 592.5,110.5 588.8,109.9 585.1,109.3 581.4,108.9 577.7,108.5 573.9,108 570.2,107.5 566.5,106.9"/>
<polyline points="644.5,122.6 640.7,121.1 637,119.8 633.3,118.8 629.6,117.8 625.9,116.8 622.2,115.7 618.5,114.6 614.8,113.6 611.1,112.7 607.4,111.8 603.6,110.9 599.9,110.2 596.2,109.6 592.5,109 588.8,108.5 585.1,108 581.4,107.7 577.7,107.3 574,106.8 570.2,106.3"/>
<polyline points="648.1,121.2 644.4,119.6 640.7,118.3 637,117.3 633.3,116.4 629.6,115.4 625.9,114.3 622.2,113.3 618.5,112.3 614.8,111.4 611.1,110.5 607.3,109.7 603.6,109 599.9,108.4 596.2,107.9 592.5,107.4 588.8,107 585.1,106.6 581.4,106.3 577.7,105.8 574,105.4"/>
<polyline points="651.8,119.6 648.1,118.1 644.4,116.8 640.7,115.8 637,114.8 633.3,113.9 629.6,112.9 625.9,111.8 622.2,110.9 618.5,110 614.8,109.2 611.1,108.5 607.3,107.8 603.6,107.2 599.9,106.7 596.2,106.2 592.5,105.8 588.8,105.5 585.1,105.2 581.4,104.8 577.7,104.4"/>
<polyline points="655.5,118 651.8,116.4 648.1,115.1 644.4,114.1 640.7,113.2 637,112.2 633.3,111.3 629.6,110.3 625.9,109.4 622.2,108.6 618.5,107.8 614.8,107.1 611.1,106.4 607.4,105.9 603.6,105.4 599.9,104.9 596.2,104.6 592.5,104.3 588.8,104 585.1,103.6 581.4,103.3"/>
<polyline points="659.2,116.2 655.5,114.6 651.8,113.3 648.1,112.3 644.4,111.4 640.7,110.5 637,109.6 633.3,108.6 629.6,107.8 625.9,107 622.2,106.2 618.5,105.6 614.8,105 611.1,104.4 607.4,103.9 603.7,103.5 600,103.2 596.3,102.9 592.6,102.6 588.9,102.4 585.1,102"/>
<polyline points="662.9,114.4 659.2,112.8 655.5,111.5 651.8,110.5 648.1,109.6 644.4,108.7 640.7,107.8 637,106.9 633.3,106.1 629.6,105.3 625.9,104.6 622.2,104 618.5,103.4 614.8,102.9 611.1,102.4 607.4,102 603.7,101.7 600,101.5 596.3,101.3 592.6,101 588.9,100.8"/>
<polyline points="666.6,112.4 662.9,110.8 659.2,109.5 655.5,108.5 651.8,107.6 648.1,106.7 644.4,105.9 640.7,105 637,104.3 633.3,103.6 629.6,102.9 625.9,102.3 622.2,101.8 618.5,101.3 614.8,100.9 611.1,100.5 607.4,100.2 603.7,100 600,99.8 596.3,99.6 592.6,99.4"/>
<polyline points="670.2,110.4 666.5,108.7 662.9,107.4 659.2,106.4 655.5,105.6 651.8,104.7 648.1,103.9 644.4,103.1 640.7,102.4 637,101.7 633.3,101.1 629.6,100.6 625.9,100.1 622.2,99.6 618.5,99.2 614.8,98.9 611.1,98.6 607.4,98.4 603.7,98.3 600,98.1 596.3,98"/>
<polyline points="673.9,108.2 670.2,106.6 666.5,105.3 662.8,104.3 659.2,103.5 655.5,102.6 651.8,101.9 648.1,101.1 644.4,100.5 640.7,99.8 637,99.3 633.3,98.8 629.6,98.3 625.9,97.9 622.2,97.5 618.5,97.2 614.8,97 611.1,96.8 607.4,96.7 603.7,96.6 600,96.6"/>
<polyline points="677.6,105.9 673.9,104.2 670.2,102.9 666.5,102 662.8,101.2 659.2,100.4 655.5,99.7 651.8,99 648.1,98.4 644.4,97.9 640.7,97.4 637,96.9 633.3,96.5 629.6,96.1 625.9,95.8 622.2,95.5 618.5,95.4 614.9,95.2 611.2,95.2 607.5,95.2 603.8,95.2"/>
<polyline points="681.3,103.3 677.6,101.7 673.9,100.4 670.2,99.5 666.5,98.8 662.8,98.1 659.2,97.4 655.5,96.9 651.8,96.3 648.1,95.9 644.4,95.4 640.7,95 637,94.7 633.3,94.4 629.6,94.2 626,94 622.3,93.8 618.6,93.8 614.9,93.8 611.2,93.9 607.5,94"/>
<polyline points="607.6,128.8 611.3,128.8 615,128.7 618.7,128.6 622.3,128.3 626,127.8 629.7,127.1 633.4,126.3 637.1,125.2 640.8,124 644.5,122.6 648.1,121.2 651.8,119.6 655.5,118 659.2,116.2 662.9,114.4 666.6,112.4 670.2,110.4 673.9,108.2 677.6,105.9 681.3,103.3"/>
<polyline points="603.9,127.1 607.6,127.1 611.2,127.1 614.9,127 618.6,126.7 622.3,126.2 626,125.5 629.7,124.7 633.4,123.7 637.1,122.4 640.7,121.1 644.4,119.6 648.1,118.1 651.8,116.4 655.5,114.6 659.2,112.8 662.9,110.8 666.5,108.7 670.2,106.6 673.9,104.2 677.6,101.7"/>
<polyline points="600.1,125.7 603.8,125.7 607.5,125.7 611.2,125.6 614.9,125.3 618.6,124.9 622.3,124.2 626,123.4 629.7,122.4 633.3,121.2 637,119.8 640.7,118.3 644.4,116.8 648.1,115.1 651.8,113.3 655.5,111.5 659.2,109.5 662.9,107.4 666.5,105.3 670.2,102.9 673.9,100.4"/>
<polyline points="596.4,124.4 600.1,124.5 603.8,124.5 607.5,124.4 611.2,124.2 614.9,123.7 618.6,123.1 622.2,122.3 625.9,121.3 629.6,120.1 633.3,118.8 637,117.3 640.7,115.8 644.4,114.1 648.1,112.3 651.8,110.5 655.5,108.5 659.2,106.4 662.8,104.3 666.5,102 670.2,99.5"/>
<polyline points="592.7,123.2 596.4,123.2 600.1,123.3 603.8,123.2 607.5,123 611.1,122.6 614.8,122.1 618.5,121.3 622.2,120.3 625.9,119.2 629.6,117.8 633.3,116.4 637,114.8 640.7,113.2 644.4,111.4 648.1,109.6 651.8,107.6 655.5,105.6 659.2,103.5 662.8,101.2 666.5,98.8"/>
<polyline points="589,121.7 592.6,121.8 596.3,121.9 600,121.9 603.7,121.8 607.4,121.4 611.1,120.9 614.8,120.2 618.5,119.3 622.2,118.1 625.9,116.8 629.6,115.4 633.3,113.9 637,112.2 640.7,110.5 644.4,108.7 648.1,106.7 651.8,104.7 655.5,102.6 659.2,100.4 662.8,98.1"/>
<polyline points="585.2,120 588.9,120.2 592.6,120.4 596.3,120.4 600,120.4 603.7,120.1 607.4,119.6 611.1,119 614.8,118.1 618.5,117 622.2,115.7 625.9,114.3 629.6,112.9 633.3,111.3 637,109.6 640.7,107.8 644.4,105.9 648.1,103.9 651.8,101.9 655.5,99.7 659.2,97.4"/>
<polyline points="581.5,118.3 585.2,118.6 588.9,118.8 592.6,118.9 596.3,118.9 600,118.7 603.7,118.3 607.4,117.7 611.1,116.9 614.8,115.9 618.5,114.6 622.2,113.3 625.9,111.8 629.6,110.3 633.3,108.6 637,106.9 640.7,105 644.4,103.1 648.1,101.1 651.8,99 655.5,96.9"/>
<polyline points="577.8,116.6 581.5,117 585.2,117.3 588.9,117.4 592.6,117.5 596.3,117.4 600,117 603.7,116.5 607.4,115.7 611.1,114.8 614.8,113.6 618.5,112.3 622.2,110.9 625.9,109.4 629.6,107.8 633.3,106.1 637,104.3 640.7,102.4 644.4,100.5 648.1,98.4 651.8,96.3"/>
<polyline points="574,115.1 577.7,115.5 581.4,115.8 585.1,116.1 588.8,116.2 592.5,116.1 596.2,115.9 600,115.4 603.7,114.7 607.4,113.8 611.1,112.7 614.8,111.4 618.5,110 622.2,108.6 625.9,107 629.6,105.3 633.3,103.6 637,101.7 640.7,99.8 644.4,97.9 648.1,95.9"/>
<polyline points="570.3,113.5 574,114 577.7,114.4 581.4,114.7 585.1,114.9 588.8,114.9 592.5,114.7 596.2,114.3 599.9,113.7 603.6,112.8 607.4,111.8 611.1,110.5 614.8,109.2 618.5,107.8 622.2,106.2 625.9,104.6 629.6,102.9 633.3,101.1 637,99.3 640.7,97.4 644.4,95.4"/>
<polyline points="566.6,112.1 570.3,112.7 574,113.1 577.7,113.5 581.4,113.8 585.1,113.8 588.8,113.7 592.5,113.3 596.2,112.8 599.9,112 603.6,110.9 607.3,109.7 611.1,108.5 614.8,107.1 618.5,105.6 622.2,104 625.9,102.3 629.6,100.6 633.3,98.8 637,96.9 640.7,95"/>
<polyline points="562.8,110.9 566.5,111.5 570.3,112 574,112.4 577.7,112.7 581.4,112.9 585.1,112.8 588.8,112.5 592.5,111.9 596.2,111.2 599.9,110.2 603.6,109 607.3,107.8 611.1,106.4 614.8,105 618.5,103.4 622.2,101.8 625.9,100.1 629.6,98.3 633.3,96.5 637,94.7"/>
<polyline points="559.1,109.7 562.8,110.4 566.5,111 570.2,111.4 574,111.8 577.7,112 581.4,112 585.1,111.7 588.8,111.2 592.5,110.5 596.2,109.6 599.9,108.4 603.6,107.2 607.4,105.9 611.1,104.4 614.8,102.9 618.5,101.3 622.2,99.6 625.9,97.9 629.6,96.1 633.3,94.4"/>
<polyline points="555.4,108.7 559.1,109.4 562.8,110 566.5,110.5 570.2,111 573.9,111.2 577.7,111.2 581.4,111 585.1,110.6 588.8,109.9 592.5,109 596.2,107.9 599.9,106.7 603.6,105.4 607.4,103.9 611.1,102.4 614.8,100.9 618.5,99.2 622.2,97.5 625.9,95.8 629.6,94.2"/>
<polyline points="551.6,107.7 555.4,108.5 559.1,109.1 562.8,109.7 566.5,110.2 570.2,110.5 573.9,110.6 577.7,110.4 581.4,110 585.1,109.3 588.8,108.5 592.5,107.4 596.2,106.2 599.9,104.9 603.7,103.5 607.4,102 611.1,100.5 614.8,98.9 618.5,97.2 622.2,95.5 626,94"/>
<polyline points="547.9,106.9 551.6,107.7 555.4,108.4 559.1,109 562.8,109.5 566.5,109.9 570.2,110 573.9,109.9 577.7,109.5 581.4,108.9 585.1,108 588.8,107 592.5,105.8 596.2,104.6 600,103.2 603.7,101.7 607.4,100.2 611.1,98.6 614.8,97 618.5,95.4 622.3,93.8"/>
<polyline points="544.2,106.1 547.9,106.9 551.6,107.7 555.3,108.3 559.1,108.9 562.8,109.3 566.5,109.5 570.2,109.4 573.9,109 577.7,108.5 581.4,107.7 585.1,106.6 588.8,105.5 592.5,104.3 596.3,102.9 600,101.5 603.7,100 607.4,98.4 611.1,96.8 614.9,95.2 618.6,93.8"/>
<polyline points="540.5,105.1 544.2,106 547.9,106.8 551.6,107.5 555.3,108.1 559.1,108.6 562.8,108.8 566.5,108.8 570.2,108.5 573.9,108 577.7,107.3 581.4,106.3 585.1,105.2 588.8,104 592.6,102.6 596.3,101.3 600,99.8 603.7,98.3 607.4,96.7 611.2,95.2 614.9,93.8"/>
<polyline points="536.7,103.9 540.5,104.8 544.2,105.7 547.9,106.5 551.6,107.2 555.3,107.8 559.1,108.1 562.8,108.1 566.5,107.9 570.2,107.5 574,106.8 577.7,105.8 581.4,104.8 585.1,103.6 588.9,102.4 592.6,101 596.3,99.6 600,98.1 603.7,96.6 607.5,95.2 611.2,93.9"/>
<polyline points="533,102.6 536.7,103.7 540.5,104.6 544.2,105.5 547.9,106.3 551.6,106.9 555.4,107.3 559.1,107.4 562.8,107.3 566.5,106.9 570.2,106.3 574,105.4 577.7,104.4 581.4,103.3 585.1,102 588.9,100.8 592.6,99.4 596.3,98 600,96.6 603.8,95.2 607.5,94"/>
</g>
<rect x="605.6" y="106.7" width="3" height="4" rx="0.8" fill="#b00000"/>
</g>
</svg>
</body></html>
